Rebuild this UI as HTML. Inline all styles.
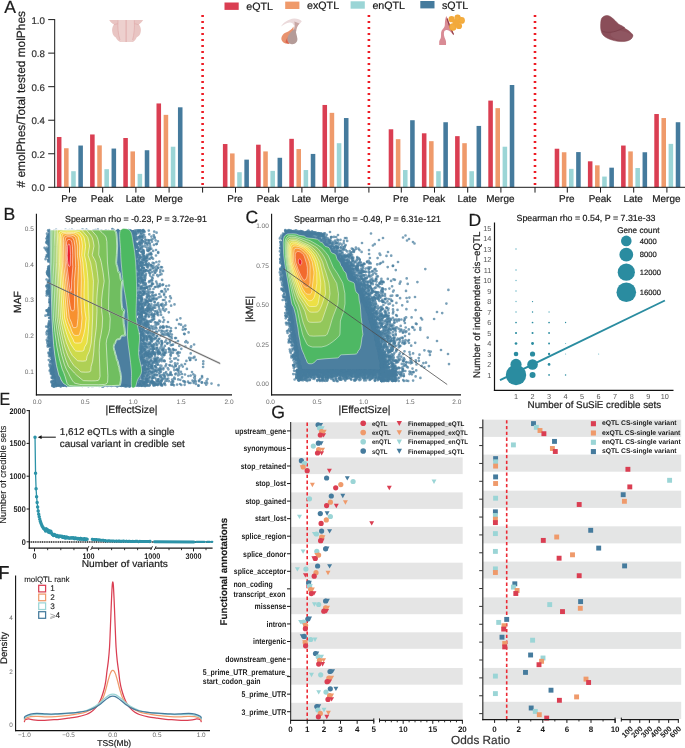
<!DOCTYPE html>
<html lang="en"><head><meta charset="utf-8"><title>Figure</title>
<style>
html,body{margin:0;padding:0;background:#fff;}
body{width:685px;height:748px;overflow:hidden;}
svg{display:block;}
text{font-family:"Liberation Sans","DejaVu Sans",sans-serif;text-rendering:geometricPrecision;}
</style></head><body>
<svg width="685" height="748" viewBox="0 0 685 748">
<rect x="0" y="0" width="685" height="748" fill="#ffffff"/>
<g id="panelA">
<rect x="224.5" y="2.5" width="14.2" height="7.4" fill="#DA3E52"/>
<text x="246.3" y="9.9" font-size="10.7" fill="#1a1a1a" stroke="#1a1a1a" stroke-width="0.2">eQTL</text>
<rect x="285.2" y="1.6" width="14.2" height="7.4" fill="#EF9A6B"/>
<text x="307" y="9.4" font-size="10.7" fill="#1a1a1a" stroke="#1a1a1a" stroke-width="0.2">exQTL</text>
<rect x="350.6" y="1.3" width="14.2" height="7.4" fill="#9BD5D6"/>
<text x="372.4" y="9.1" font-size="10.7" fill="#1a1a1a" stroke="#1a1a1a" stroke-width="0.2">enQTL</text>
<rect x="420.3" y="1" width="14.2" height="7.4" fill="#457B9D"/>
<text x="442" y="8.8" font-size="10.7" fill="#1a1a1a" stroke="#1a1a1a" stroke-width="0.2">sQTL</text>
<line x1="202.6" y1="15" x2="202.6" y2="187" stroke="#EE1C25" stroke-width="2.6" stroke-dasharray="2 4"/>
<line x1="368.9" y1="15" x2="368.9" y2="187" stroke="#EE1C25" stroke-width="2.6" stroke-dasharray="2 4"/>
<line x1="535" y1="15" x2="535" y2="187" stroke="#EE1C25" stroke-width="2.6" stroke-dasharray="2 4"/>
<rect x="56.9" y="136.99" width="4.55" height="50.31" fill="#DA3E52"/>
<rect x="64.05" y="148.23" width="4.55" height="39.07" fill="#EF9A6B"/>
<rect x="71.2" y="171.2" width="4.55" height="16.1" fill="#9BD5D6"/>
<rect x="78.35" y="145.54" width="4.55" height="41.76" fill="#457B9D"/>
<line x1="69.5" y1="187.3" x2="69.5" y2="192.6" stroke="#1a1a1a" stroke-width="1"/>
<text x="69" y="201.9" font-size="9.95" fill="#1a1a1a" text-anchor="middle" stroke="#1a1a1a" stroke-width="0.2">Pre</text>
<rect x="90.1" y="134.47" width="4.55" height="52.83" fill="#DA3E52"/>
<rect x="97.25" y="145.38" width="4.55" height="41.93" fill="#EF9A6B"/>
<rect x="104.4" y="169.19" width="4.55" height="18.11" fill="#9BD5D6"/>
<rect x="111.55" y="148.56" width="4.55" height="38.74" fill="#457B9D"/>
<line x1="102.7" y1="187.3" x2="102.7" y2="192.6" stroke="#1a1a1a" stroke-width="1"/>
<text x="102.2" y="201.9" font-size="9.95" fill="#1a1a1a" text-anchor="middle" stroke="#1a1a1a" stroke-width="0.2">Peak</text>
<rect x="123.3" y="138" width="4.55" height="49.3" fill="#DA3E52"/>
<rect x="130.45" y="151.41" width="4.55" height="35.89" fill="#EF9A6B"/>
<rect x="137.6" y="173.88" width="4.55" height="13.42" fill="#9BD5D6"/>
<rect x="144.75" y="150.24" width="4.55" height="37.06" fill="#457B9D"/>
<line x1="135.9" y1="187.3" x2="135.9" y2="192.6" stroke="#1a1a1a" stroke-width="1"/>
<text x="135.4" y="201.9" font-size="9.95" fill="#1a1a1a" text-anchor="middle" stroke="#1a1a1a" stroke-width="0.2">Late</text>
<rect x="156.5" y="103.45" width="4.55" height="83.85" fill="#DA3E52"/>
<rect x="163.65" y="114.85" width="4.55" height="72.45" fill="#EF9A6B"/>
<rect x="170.8" y="146.72" width="4.55" height="40.58" fill="#9BD5D6"/>
<rect x="177.95" y="107.31" width="4.55" height="79.99" fill="#457B9D"/>
<line x1="169.1" y1="187.3" x2="169.1" y2="192.6" stroke="#1a1a1a" stroke-width="1"/>
<text x="168.6" y="201.9" font-size="9.95" fill="#1a1a1a" text-anchor="middle" stroke="#1a1a1a" stroke-width="0.2">Merge</text>
<rect x="222.9" y="144.03" width="4.55" height="43.27" fill="#DA3E52"/>
<rect x="230.05" y="153.42" width="4.55" height="33.88" fill="#EF9A6B"/>
<rect x="237.2" y="172.21" width="4.55" height="15.09" fill="#9BD5D6"/>
<rect x="244.35" y="159.63" width="4.55" height="27.67" fill="#457B9D"/>
<line x1="235.5" y1="187.3" x2="235.5" y2="192.6" stroke="#1a1a1a" stroke-width="1"/>
<text x="235" y="201.9" font-size="9.95" fill="#1a1a1a" text-anchor="middle" stroke="#1a1a1a" stroke-width="0.2">Pre</text>
<rect x="256.1" y="144.7" width="4.55" height="42.6" fill="#DA3E52"/>
<rect x="263.25" y="151.41" width="4.55" height="35.89" fill="#EF9A6B"/>
<rect x="270.4" y="170.87" width="4.55" height="16.43" fill="#9BD5D6"/>
<rect x="277.55" y="157.78" width="4.55" height="29.52" fill="#457B9D"/>
<line x1="268.7" y1="187.3" x2="268.7" y2="192.6" stroke="#1a1a1a" stroke-width="1"/>
<text x="268.2" y="201.9" font-size="9.95" fill="#1a1a1a" text-anchor="middle" stroke="#1a1a1a" stroke-width="0.2">Peak</text>
<rect x="289.3" y="138.83" width="4.55" height="48.47" fill="#DA3E52"/>
<rect x="296.45" y="149.06" width="4.55" height="38.24" fill="#EF9A6B"/>
<rect x="303.6" y="170.03" width="4.55" height="17.27" fill="#9BD5D6"/>
<rect x="310.75" y="153.93" width="4.55" height="33.37" fill="#457B9D"/>
<line x1="301.9" y1="187.3" x2="301.9" y2="192.6" stroke="#1a1a1a" stroke-width="1"/>
<text x="301.4" y="201.9" font-size="9.95" fill="#1a1a1a" text-anchor="middle" stroke="#1a1a1a" stroke-width="0.2">Late</text>
<rect x="322.5" y="104.96" width="4.55" height="82.34" fill="#DA3E52"/>
<rect x="329.65" y="112.84" width="4.55" height="74.46" fill="#EF9A6B"/>
<rect x="336.8" y="143.19" width="4.55" height="44.11" fill="#9BD5D6"/>
<rect x="343.95" y="118.04" width="4.55" height="69.26" fill="#457B9D"/>
<line x1="335.1" y1="187.3" x2="335.1" y2="192.6" stroke="#1a1a1a" stroke-width="1"/>
<text x="334.6" y="201.9" font-size="9.95" fill="#1a1a1a" text-anchor="middle" stroke="#1a1a1a" stroke-width="0.2">Merge</text>
<rect x="388.7" y="129.28" width="4.55" height="58.02" fill="#DA3E52"/>
<rect x="395.85" y="139.17" width="4.55" height="48.13" fill="#EF9A6B"/>
<rect x="403" y="170.03" width="4.55" height="17.27" fill="#9BD5D6"/>
<rect x="410.15" y="120.22" width="4.55" height="67.08" fill="#457B9D"/>
<line x1="401.3" y1="187.3" x2="401.3" y2="192.6" stroke="#1a1a1a" stroke-width="1"/>
<text x="400.8" y="201.9" font-size="9.95" fill="#1a1a1a" text-anchor="middle" stroke="#1a1a1a" stroke-width="0.2">Pre</text>
<rect x="421.9" y="133.3" width="4.55" height="54" fill="#DA3E52"/>
<rect x="429.05" y="141.18" width="4.55" height="46.12" fill="#EF9A6B"/>
<rect x="436.2" y="171.2" width="4.55" height="16.1" fill="#9BD5D6"/>
<rect x="443.35" y="122.23" width="4.55" height="65.07" fill="#457B9D"/>
<line x1="434.5" y1="187.3" x2="434.5" y2="192.6" stroke="#1a1a1a" stroke-width="1"/>
<text x="434" y="201.9" font-size="9.95" fill="#1a1a1a" text-anchor="middle" stroke="#1a1a1a" stroke-width="0.2">Peak</text>
<rect x="455.1" y="136.15" width="4.55" height="51.15" fill="#DA3E52"/>
<rect x="462.25" y="143.19" width="4.55" height="44.11" fill="#EF9A6B"/>
<rect x="469.4" y="171.2" width="4.55" height="16.1" fill="#9BD5D6"/>
<rect x="476.55" y="125.92" width="4.55" height="61.38" fill="#457B9D"/>
<line x1="467.7" y1="187.3" x2="467.7" y2="192.6" stroke="#1a1a1a" stroke-width="1"/>
<text x="467.2" y="201.9" font-size="9.95" fill="#1a1a1a" text-anchor="middle" stroke="#1a1a1a" stroke-width="0.2">Late</text>
<rect x="488.3" y="100.6" width="4.55" height="86.7" fill="#DA3E52"/>
<rect x="495.45" y="108.15" width="4.55" height="79.15" fill="#EF9A6B"/>
<rect x="502.6" y="146.72" width="4.55" height="40.58" fill="#9BD5D6"/>
<rect x="509.75" y="85" width="4.55" height="102.3" fill="#457B9D"/>
<line x1="500.9" y1="187.3" x2="500.9" y2="192.6" stroke="#1a1a1a" stroke-width="1"/>
<text x="500.4" y="201.9" font-size="9.95" fill="#1a1a1a" text-anchor="middle" stroke="#1a1a1a" stroke-width="0.2">Merge</text>
<rect x="554.7" y="148.73" width="4.55" height="38.57" fill="#DA3E52"/>
<rect x="561.85" y="152.25" width="4.55" height="35.05" fill="#EF9A6B"/>
<rect x="569" y="168.85" width="4.55" height="18.45" fill="#9BD5D6"/>
<rect x="576.15" y="152.08" width="4.55" height="35.22" fill="#457B9D"/>
<line x1="567.3" y1="187.3" x2="567.3" y2="192.6" stroke="#1a1a1a" stroke-width="1"/>
<text x="566.8" y="201.9" font-size="9.95" fill="#1a1a1a" text-anchor="middle" stroke="#1a1a1a" stroke-width="0.2">Pre</text>
<rect x="587.9" y="161.31" width="4.55" height="25.99" fill="#DA3E52"/>
<rect x="595.05" y="165.33" width="4.55" height="21.97" fill="#EF9A6B"/>
<rect x="602.2" y="176.57" width="4.55" height="10.73" fill="#9BD5D6"/>
<rect x="609.35" y="167.68" width="4.55" height="19.62" fill="#457B9D"/>
<line x1="600.5" y1="187.3" x2="600.5" y2="192.6" stroke="#1a1a1a" stroke-width="1"/>
<text x="600" y="201.9" font-size="9.95" fill="#1a1a1a" text-anchor="middle" stroke="#1a1a1a" stroke-width="0.2">Peak</text>
<rect x="621.1" y="145.54" width="4.55" height="41.76" fill="#DA3E52"/>
<rect x="628.25" y="151.41" width="4.55" height="35.89" fill="#EF9A6B"/>
<rect x="635.4" y="168.01" width="4.55" height="19.29" fill="#9BD5D6"/>
<rect x="642.55" y="152.25" width="4.55" height="35.05" fill="#457B9D"/>
<line x1="633.7" y1="187.3" x2="633.7" y2="192.6" stroke="#1a1a1a" stroke-width="1"/>
<text x="633.2" y="201.9" font-size="9.95" fill="#1a1a1a" text-anchor="middle" stroke="#1a1a1a" stroke-width="0.2">Late</text>
<rect x="654.3" y="114.02" width="4.55" height="73.28" fill="#DA3E52"/>
<rect x="661.45" y="118.04" width="4.55" height="69.26" fill="#EF9A6B"/>
<rect x="668.6" y="143.87" width="4.55" height="43.43" fill="#9BD5D6"/>
<rect x="675.75" y="122.23" width="4.55" height="65.07" fill="#457B9D"/>
<line x1="666.9" y1="187.3" x2="666.9" y2="192.6" stroke="#1a1a1a" stroke-width="1"/>
<text x="666.4" y="201.9" font-size="9.95" fill="#1a1a1a" text-anchor="middle" stroke="#1a1a1a" stroke-width="0.2">Merge</text>
<line x1="202.6" y1="187.3" x2="202.6" y2="192.6" stroke="#1a1a1a" stroke-width="1"/>
<line x1="368.9" y1="187.3" x2="368.9" y2="192.6" stroke="#1a1a1a" stroke-width="1"/>
<line x1="535" y1="187.3" x2="535" y2="192.6" stroke="#1a1a1a" stroke-width="1"/>
<line x1="54.7" y1="19.1" x2="54.7" y2="187.8" stroke="#1a1a1a" stroke-width="1"/>
<line x1="48.2" y1="187.3" x2="685" y2="187.3" stroke="#1a1a1a" stroke-width="1"/>
<line x1="48.2" y1="153.76" x2="54.7" y2="153.76" stroke="#1a1a1a" stroke-width="1"/>
<line x1="48.2" y1="120.22" x2="54.7" y2="120.22" stroke="#1a1a1a" stroke-width="1"/>
<line x1="48.2" y1="86.68" x2="54.7" y2="86.68" stroke="#1a1a1a" stroke-width="1"/>
<line x1="48.2" y1="53.14" x2="54.7" y2="53.14" stroke="#1a1a1a" stroke-width="1"/>
<line x1="48.2" y1="19.6" x2="54.7" y2="19.6" stroke="#1a1a1a" stroke-width="1"/>
<text x="44.9" y="191.2" font-size="9.7" fill="#333" text-anchor="end" stroke="#333" stroke-width="0.2">0.0</text>
<text x="44.9" y="157.66" font-size="9.7" fill="#333" text-anchor="end" stroke="#333" stroke-width="0.2">0.2</text>
<text x="44.9" y="124.12" font-size="9.7" fill="#333" text-anchor="end" stroke="#333" stroke-width="0.2">0.4</text>
<text x="44.9" y="90.58" font-size="9.7" fill="#333" text-anchor="end" stroke="#333" stroke-width="0.2">0.6</text>
<text x="44.9" y="57.04" font-size="9.7" fill="#333" text-anchor="end" stroke="#333" stroke-width="0.2">0.8</text>
<text x="44.9" y="23.5" font-size="9.7" fill="#333" text-anchor="end" stroke="#333" stroke-width="0.2">1.0</text>
<text x="25" y="99.3" font-size="11.9" fill="#1a1a1a" text-anchor="middle" transform="rotate(-90 25 99.3)" stroke="#1a1a1a" stroke-width="0.2"># emolPhes/Total tested molPhes</text>
<text x="4.2" y="12.9" font-size="17.6" fill="#1a1a1a" stroke="#1a1a1a" stroke-width="0.2">A</text>
<g><path d="M109.2 19.9 L143.1 19.9 C141.8 22 140.2 23.6 138.8 24.6 C140.6 26.4 141.3 29.5 140.7 32 C140.2 34.8 138.6 36.6 136.6 37.4 C135.8 39.4 134.4 41 132.8 42 L120.3 42 C118.4 41 116.8 39.4 115.8 37.4 C113.8 36.4 112.6 34.6 112.3 32 C111.7 29.4 112.4 26.4 114 24.6 C112.2 23.4 110.5 22 109.2 19.9Z" fill="#E9C5C3"/><path d="M118 20.1 L134.2 20.1 C134.8 26 134.6 33 133 38.5 L132.6 41.9 L120.4 41.9 L119.4 38.5 C118 33 117.6 26 118 20.1Z" fill="#EDD0CE"/><path d="M126.1 20V42" stroke="#DDA3A3" stroke-width="0.8" fill="none"/><path d="M118 20.3 C117.5 27 118 34 120 40 M134.3 20.3 C134.8 27 134.2 34 132.6 40 M114 24.8 C116 24 118 23.6 118 23.6 M138.6 24.8 C136.5 24 134.4 23.6 134.4 23.6" stroke="#DFABAA" stroke-width="0.7" fill="none"/></g>
<g><path d="M281 26.6 C283.5 22.5 288.5 19.2 294 18.6 C297 18.4 300 19.6 301.8 21.2 C300.6 22.8 299 24.6 297.6 25.6 L293.6 25.2 C293.2 23.4 291.6 22.4 289.6 22.6 C286.4 23 283.6 24.8 281 26.6Z" fill="#EBDADB"/><path d="M294.4 21.6 C295 24.6 294.6 27.6 293.6 30.6 L296.2 31.4 C296.6 28.4 297.6 25.8 299.4 23.6Z" fill="#C7A6A3"/><path d="M293.4 26.5 C292.2 29.5 289 31.2 286 32.4 C282.6 33.8 280.8 37 281.6 40 C282.6 43 286 44.2 289.4 43.4 C290.4 40 290.6 35 293.8 30.4Z" fill="#E8926E"/><path d="M294 29.6 C291.4 31.4 288.2 34.6 287.4 38 C286.8 41.2 288.6 43.8 292 44.2 C295.4 44.4 297.6 42 297.4 38.8 C297.2 35.6 295.4 32.6 296 29.8Z" fill="#B49B98"/><path d="M287.6 37 C286.6 39.5 287.4 42.4 289.6 43.6 C288 43.8 286.6 43.2 285.4 42.2 C286 40.4 286.6 38.6 287.6 37Z" fill="#D9604C"/></g>
<g><path d="M446.3 16.1 C445.2 18.4 444.9 22 444.8 25.2 C444.6 27.6 442.6 29 441.6 30.8 C440.6 33 441.4 35.6 440.8 38 C440.2 39.6 439.2 40.4 439.2 42 L439.2 45 L446 45 C446.2 43 446.2 41 445.4 39.4 C444.2 37 443.4 34 444.2 31.6 C445 29.8 447.4 29.6 449.2 30.8 C451 32.2 452.4 34 453.8 35.2 C452 29 449.4 22 446.3 16.1Z" fill="#D98B95"/><path d="M447 18.5 C448.5 24 450.8 29.6 453.6 34.6" stroke="#8E3B46" stroke-width="1.1" fill="none"/>
<circle cx="451.6" cy="19.2" r="3.1" fill="#F2A93B"/>
<circle cx="457.6" cy="17.6" r="3.1" fill="#F2A93B"/>
<circle cx="461.5" cy="20.4" r="3.4" fill="#F2A93B"/>
<circle cx="452.9" cy="27" r="3.7" fill="#F2A93B"/>
<circle cx="459" cy="26" r="3.1" fill="#F2A93B"/>
<circle cx="455.8" cy="22.4" r="3.3" fill="#F2A93B"/>
<circle cx="461.9" cy="20.2" r="2.2" fill="#F4AE40"/>
<circle cx="452.6" cy="27.2" r="2.4" fill="#F4AE40"/>
<circle cx="457" cy="18.2" r="1.8" fill="#F4AE40"/>
</g>
<path d="M601.4 19C601.97 17.53 602.98 16.78 604 16.2C605.02 15.62 606.33 15.37 607.5 15.5C608.67 15.63 609.75 16.17 611 17C612.25 17.83 613.75 19.33 615 20.5C616.25 21.67 617.17 23.02 618.5 24C619.83 24.98 621.82 25.6 623 26.4C624.18 27.2 624.6 28.03 625.6 28.8C626.6 29.57 627.93 30.17 629 31C630.07 31.83 631.35 32.97 632 33.8C632.65 34.63 633.07 35.13 632.9 36C632.73 36.87 631.98 38.17 631 39C630.02 39.83 628.67 40.57 627 41C625.33 41.43 623.17 41.67 621 41.6C618.83 41.53 616.33 41.2 614 40.6C611.67 40 608.83 38.93 607 38C605.17 37.07 604 36.25 603 35C602 33.75 601.4 32.17 601 30.5C600.6 28.83 600.53 26.92 600.6 25C600.67 23.08 600.83 20.47 601.4 19Z" fill="#8A4E59" stroke="#834651" stroke-width="0.5"/>
<ellipse cx="621.3" cy="35.6" rx="11" ry="4.6" fill="#8F5661" transform="rotate(8 621.3 35.6)"/>
<path d="M602 31 C606 33 612 32.6 617 30.8 C620 29.6 622.6 28.4 624.6 27.4" stroke="#7A3F4B" stroke-width="0.9" fill="none"/>
</g>
<g id="panelB">
<path d="M49.4 229.9 L134.5 229.9 L136 260 L136.5 300 L138 340 L138 386.8 L56 386.8 L51.8 370 L50.2 345 L49.5 300Z" fill="#4C7F9F"/>
<path d="M149.2 298.5h0M158 358.1h0M157.3 310.9h0M134.7 248h0M139.1 338h0M49.5 273.8h0M143.6 335.2h0M135.4 330.4h0M152.2 381h0M158.6 359.9h0M134.8 322h0M135 257.9h0M138.8 328.4h0M146.9 311.6h0M136.9 293h0M141.1 248.4h0M147.5 365.5h0M164.9 384.3h0M146.7 321.3h0M136.3 267.9h0M144.2 369.1h0M148.8 250.6h0M46.8 243.1h0M49.2 344.6h0M151.4 372.1h0M155.3 360.5h0M186.1 341.2h0M138.2 299.5h0M112.6 229.8h0M144.5 353.9h0M48.2 240.3h0M48.8 332.6h0M135.1 326.5h0M135.1 330.7h0M159.4 309.1h0M159.8 353.2h0M129.8 386.2h0M137.7 376.8h0M49.2 291.2h0M139.2 331.2h0M135.8 293.1h0M53.3 384.8h0M157.9 384.5h0M162.4 303.8h0M143.4 283.1h0M135.8 329.6h0M149.6 365.7h0M192.5 380.6h0M135.7 267.6h0M168.8 312.3h0M185.5 329h0M142.1 357h0M137.7 274.9h0M141 296.2h0M50.2 350.3h0M49.4 309.6h0M141.5 334.9h0M139.4 275.7h0M140.8 249.1h0M153 309.9h0M139.1 344.5h0M146.7 301.2h0M138.4 271.2h0M149.2 300.7h0M145.8 270.7h0M150.1 309.6h0M149.4 336.7h0M156.8 298.7h0M140 311.2h0M135.5 331.6h0M143.3 360.2h0M157 375.3h0M51.2 367.9h0M50.4 268.1h0M142.9 280.7h0M144.8 335.2h0M152.4 369.4h0M164.5 300h0M77.3 230.6h0M148.9 363.2h0M146.2 381.3h0M141.6 316.7h0M157 283.6h0M151.1 365.1h0M49.5 339.8h0M137.8 243.9h0M167.1 374.2h0M142.8 384.9h0M144.1 291.6h0M152.6 383.2h0M138.1 309.5h0M137.7 359.5h0M142.1 298.8h0M55.8 385.9h0M101.2 385.5h0M137.7 277.6h0M141.6 329.3h0M138.5 374.2h0M136.6 300.9h0M136.2 251.1h0M49.3 270.5h0M148.9 347.3h0M145.8 336h0M141.2 330.2h0M135.5 337h0M140.4 340.8h0M152.7 307.5h0M134.9 294.6h0M185.3 342.1h0M170 333.7h0M152.7 369.9h0M148.3 380.8h0M139.2 242.5h0M153.5 289h0M47.2 271.3h0M130.7 230.9h0M164.1 295.1h0M140.8 338.1h0M147.6 346.6h0M137.3 333.7h0M135.5 273.5h0M141.2 358h0M163.4 309.7h0M138.4 366h0M137.6 302.4h0M134.6 303.7h0M148.3 373.1h0M165.4 333.5h0M154.7 272.9h0M149.4 357h0M137.3 303.6h0M140.4 273.2h0M167.9 333h0M161.9 344.5h0M145 375.7h0M146.6 361.7h0M143 237.8h0M155.1 359.6h0M139.6 331.5h0M145.2 300h0M134.8 232.4h0M142.7 237.1h0M142.7 259.7h0M146.5 263.6h0M158.3 267.6h0M146.1 302.1h0M165.3 385h0M153.6 348.7h0M145 276.7h0M138.8 303.3h0M146 316.6h0M149.7 330.3h0M135.5 352.2h0M148.7 316.8h0M149.9 380.9h0M165.4 334.6h0M142.4 281.7h0M142.4 361.9h0M137.2 237h0M142.2 374.1h0M173 352.7h0M157 324.4h0M143.2 335.3h0M49.2 288h0M151.6 372.1h0M147.2 375.9h0M146.5 382.3h0M170.4 354.6h0M147.5 296.3h0M49.7 296.3h0M138.3 343.9h0M162.5 349.3h0M134.5 337.9h0M173.2 381.7h0M138.9 307.8h0M46.1 257h0M171.3 382.3h0M55.9 386.1h0M142.3 275.1h0M159.8 274.8h0M160.3 321.6h0M49.5 275.8h0M162.1 378.7h0M52 370.4h0M152.7 299.4h0M136.4 375.4h0M48.5 286.2h0M162.1 279.9h0M47.9 271.5h0M46.9 310.9h0M138.9 384.6h0M138.9 322h0M152 363.8h0M136.1 361.8h0M170.9 298.2h0M141.8 335.2h0M135.6 354.8h0M137.1 276.4h0M138 247.9h0M142.2 311.9h0M134.9 364.1h0M53 375.3h0M45.8 249.4h0M154.2 236.8h0M175.3 374.3h0M136.4 380.8h0M146.5 265.4h0M160.3 376.4h0M195.8 381.7h0M140.4 292.7h0M161.3 369.5h0M144.8 322.9h0M46.9 285.9h0M144.8 361h0M141.8 280.2h0M48.4 268h0M150.3 339.3h0M53.1 368.3h0M142.2 304.2h0M152.1 314.8h0M145.8 385.5h0M145.8 352.5h0M142.8 294.4h0M146.8 287.4h0M146.5 324.4h0M142.1 306.2h0M141.4 322.1h0M142.4 334.9h0M171.5 336.8h0M152 272.1h0M157.2 323.4h0M161.8 377.7h0M138.2 337.2h0M148.8 382.1h0M48.9 241.7h0M136.2 322.5h0M135.5 340.3h0M47.8 256.1h0M137.3 330h0M154.7 383.3h0M149 253.9h0M136.3 341.4h0M156.1 379.3h0M151.3 310.3h0M83.5 230h0M141.4 373.7h0M47.7 255.4h0M139.2 363h0M149.8 354h0M134.9 374.3h0M135.2 360.1h0M49 337.4h0M136.9 376.7h0M142.1 370.4h0M148.8 230.6h0M49.3 344.8h0M162.7 309.3h0M153.7 339.4h0M148.6 344.6h0M52.5 367.3h0M49.2 331.7h0M150.9 383.3h0M49.7 257.1h0M51.3 381.6h0M48.9 344.2h0M152.4 336.6h0M141.6 323.3h0M55.2 383.7h0M59 385.3h0M151.6 320.1h0M136.6 339.3h0M147.6 375.2h0M136.8 261h0M136.8 306.8h0M140 383.5h0M135 375.4h0M164.1 355h0M137.6 376.7h0M150 383.2h0M146.3 258.7h0M138.5 323.9h0M136.9 343.1h0M69.4 230.1h0M144.3 269.9h0M136.6 300.9h0M155.5 348.7h0M48.2 266.8h0M152.2 352.1h0M139.9 243.7h0M149.7 329.3h0M144.8 299.5h0M135.9 275.2h0M137.1 320.7h0M137.4 324.7h0M138.2 333.9h0M152 365.4h0M135 256h0M141.2 273.1h0M172.1 365.8h0M137.1 246.6h0M135 341.6h0M151.2 321.7h0M145.9 364.9h0M145.1 366.9h0M50.3 355.4h0M50 353.4h0M179.4 366.3h0M144.1 384h0M144.6 312.8h0M136.7 347.5h0M139.5 360.4h0M47.1 242.2h0M141.1 287.1h0M142.1 372.8h0M139 362.4h0M141.9 274h0M155.2 354.8h0M49.5 237.3h0M157.5 285.7h0M154.9 357.2h0M48.7 252h0M134.8 384.7h0M141.9 377.4h0M140.3 257h0M135.6 360h0M48 314.6h0M147.7 306.3h0M135.7 360h0M138.9 231.2h0M48.8 253.5h0M49.3 247.9h0M134.9 312.7h0M157.9 380.7h0M143.4 250h0M49.2 321.1h0M134.9 354.5h0M170 365.5h0M139.1 303.4h0M166.1 372.1h0M148.2 289.9h0M134.9 383.9h0M135.8 297.6h0M147 256.3h0M135.8 233.2h0M49.5 250.1h0M139.1 324.1h0M143 262.9h0M125.6 385.7h0M94.8 385.7h0M94.5 384.9h0M170.1 296.4h0M145.9 242.8h0M138.3 335.7h0M141.2 278.6h0M49.3 257.1h0M137.3 371.3h0M152.6 268.3h0M52.4 386h0M138 287.3h0M147.4 302.3h0M137.1 378.8h0M145.2 386.1h0M137.9 362.6h0M150.6 372.4h0M147.5 385.6h0M153.9 352.7h0M161.3 384.2h0M136.3 358.7h0M136.8 326h0M147.3 260.3h0M137.3 352.9h0M141.8 249.2h0M157.6 324.2h0M49.5 364.5h0M110.5 385.6h0M152.3 364.3h0M49.9 247.1h0M48 249.2h0M136.8 292.8h0M153.4 382.2h0M144.4 381.6h0M152.7 262.8h0M143.1 379.1h0M152 336.4h0M138.1 348h0M137.3 277.5h0M49.2 230.2h0M140.3 323.4h0M140.3 304h0M48 271.6h0M176.3 370h0M135.5 299.4h0M136.2 233.6h0M145.9 240.3h0M61.1 230.9h0M138.1 352.3h0M149.3 243h0M135.2 277.5h0M198.5 385.7h0M49.4 292.8h0M146.9 360.9h0M142 315.6h0M150.9 333.7h0M136.2 363.6h0M139.5 273.8h0M136 309.1h0M161.8 380.5h0M95.7 230.5h0M148.2 353h0M160 284h0M138.4 285.9h0M49.1 269.9h0M102.3 386.7h0M152.6 239.1h0M150.8 308.2h0M141.6 348.3h0M162.4 331.1h0M156 311.5h0M88.7 386.1h0M145.2 383.4h0M139.8 373.3h0M144.5 385.7h0M182.8 366.6h0M142.4 344.4h0M140.2 344.7h0M138.5 355.9h0M150.9 353.2h0M170.1 358.6h0M154.5 295.4h0M150.5 365.2h0M143.4 354.5h0M141.4 308.4h0M135.6 333.3h0M144.5 261.6h0M153.8 358.7h0M144.8 372.9h0M138.3 237.4h0M142.5 352.3h0M49.4 341.6h0M49.8 258.1h0M142.1 330.8h0M150.2 373.7h0M138.7 276h0M135.9 380.7h0M188 381.7h0M141.5 298.4h0M174.3 358.7h0M145.6 369.9h0M136.9 256.9h0M142.6 246.3h0M147.9 369h0M136.1 314.2h0M169.8 342.6h0M148 300.7h0M49.3 339.7h0M49.4 289.1h0M49.8 331.6h0M149.5 349.2h0M143 273.2h0M135.2 250.9h0M140.6 279.1h0M134.7 232.6h0M139.9 321.3h0M148.5 323h0M142.8 281.6h0M192 372h0M136.6 254.8h0M142.4 267.1h0M150.5 269.7h0M47.9 281.8h0M136.2 286.9h0M145.3 383.6h0M148.5 365.3h0M48.1 230.4h0M53.1 375.7h0" stroke="#457B9D" stroke-width="2.7" stroke-linecap="round" fill="none" opacity="0.72"/>
<path d="M158 276.2h0M135.7 366.9h0M139.3 366.1h0M139.4 258.5h0M139.9 381.2h0M140.5 301.2h0M49 236.5h0M180.4 318.3h0M136.1 298.1h0M136.6 293.6h0M194.1 344.5h0M141.9 369.5h0M135.4 331.2h0M149.1 240.3h0M136.8 266.9h0M154.4 298h0M48.5 281.8h0M143.4 372.6h0M157 340.9h0M141.5 278.4h0M146 309.8h0M169.4 374.9h0M141.9 299h0M63.4 385.6h0M51 372.4h0M147.7 321.7h0M169.3 352h0M138.5 330.1h0M49.2 242.1h0M145.9 284.4h0M47.5 243.3h0M48.7 308.8h0M142.4 340.1h0M143.8 339.3h0M153.6 361.7h0M47.3 330.8h0M48.3 310.4h0M142.7 347.4h0M52.5 366.4h0M143.5 284.8h0M202.1 377.4h0M171.8 375h0M146.2 379h0M140 318.2h0M51.6 369.5h0M135.1 332.4h0M152.5 372.8h0M157 304.7h0M50 271.6h0M139.4 236.5h0M141.4 373.1h0M99 385.7h0M137.4 256.3h0M144.7 382.6h0M47.4 343h0M156.9 362.2h0M48.3 290.6h0M160 286.1h0M139.5 237.1h0M144 385.8h0M53.1 371.2h0M50.7 356h0M50 260.6h0M49.6 324h0M149 343.9h0M153.5 372.2h0M134.6 234.1h0M136.8 325.8h0M156 331.5h0M158.9 382.4h0M148.4 380.5h0M49.5 325.4h0M138 362.7h0M150.5 338.1h0M151.8 346.4h0M148.7 312.5h0M137.3 332.9h0M144.2 336.7h0M148.1 311.1h0M144.9 288.4h0M143.6 366.9h0M190.2 359.9h0M142.7 282.8h0M146.6 363h0M156.3 352h0M141.4 315h0M137 244.3h0M147.2 248.1h0M168.8 335.9h0M50.7 353.9h0M140.9 308.8h0M48.9 275h0M48.1 268.5h0M103.7 385.8h0M142.6 330.1h0M147.4 301.4h0M151.9 277.4h0M183.3 326.9h0M136.2 254.7h0M156.8 269.5h0M156.5 328.4h0M47.5 291.4h0M48.6 290.9h0M139 243.6h0M147 287.2h0M135.4 235.3h0M145.4 346.6h0M159.3 343.1h0M154 382.5h0M49.9 290.8h0M143.6 343.4h0M49.5 334.4h0M142.1 281.1h0M143 382.8h0M153.5 353.7h0M160.4 310.8h0M140.3 324.2h0M50.1 266.6h0M193.3 374.3h0M49 325.8h0M170.6 372.2h0M151.6 366.6h0M157.2 344.7h0M48.3 341.8h0M137.3 280.7h0M136.8 346.5h0M138.1 294.5h0M149.3 376.7h0M50.1 236.4h0M138.9 374.3h0M166.9 380.7h0M137.3 340.7h0M140.7 289.2h0M47.6 237h0M138.9 359.3h0M51.1 370.9h0M159.4 294.1h0M136.4 282.7h0M149.3 264.6h0M48.7 287.9h0M144.8 305.2h0M142.2 373.8h0M154.5 374.9h0M141.4 319.5h0M138.7 385.8h0M48.7 250h0M159.2 353.3h0M46.2 326.6h0M143.4 368.3h0M136.9 305h0M136.9 265.9h0M152.8 346.5h0M53.1 372.8h0M138.1 329.3h0M135.7 306h0M50.4 349.3h0M151.8 280.4h0M156.6 232.7h0M145 288.1h0M218.5 385.2h0M142.4 267.9h0M151 360.3h0M145.7 361.9h0M160.5 358.8h0M48.8 324.5h0M53.8 386.7h0M148.4 366.3h0M181.3 348.8h0M135.8 385h0M49.3 311h0M139.1 270.8h0M135.9 254h0M138.5 250.3h0M145.9 336.3h0M160.7 384.2h0M117.8 385.8h0M141.2 231.1h0M137.3 343.6h0M148.5 255.4h0M52.7 380.7h0M141.1 326.6h0M144.8 331h0M135.4 279.6h0M145.8 304.5h0M157.2 314.3h0M142.4 232.7h0M134.9 385.1h0M169 285.5h0M164.3 355.1h0M169.8 339.8h0M136.2 318.8h0M135.6 345.4h0M155.2 366h0M152.8 350.6h0M148 248.3h0M49.7 261.6h0M171 331h0M172.9 384.4h0M155.1 377.7h0M144.8 259h0M172.2 379.7h0M58.5 231.1h0M149.5 273.3h0M149.6 328.2h0M137.6 230.7h0M138.1 328h0M138.9 320.5h0M52.1 360.6h0M52.9 371.1h0M134.8 347.2h0M158.6 369.6h0M135 321.5h0M184.1 333.8h0M149.3 331.3h0M51.3 353.3h0M155 359h0M144.7 271.3h0M146.9 257.4h0M136.4 374.5h0M148.7 342.5h0M47.3 341.9h0M177.5 363.6h0M139.2 298.1h0M136.2 323.1h0M135.7 355.4h0M125.7 385.5h0M142.9 241.5h0M136.3 322.2h0M178.2 379.4h0M147.1 352.6h0M137.1 355.9h0M134.8 269.8h0M166.2 364.4h0M50.7 357.4h0M139 304.6h0M161.7 361.2h0M149.8 354h0M140.7 321.9h0M139.4 385.5h0M50.6 355.9h0M179 324.1h0M144.2 255.9h0M139 362.2h0M149.2 304.3h0M135.6 310.8h0M138.6 309.7h0M147.4 375.9h0M145.4 336.6h0M141.3 252.1h0M49.6 248.1h0M49.2 257.6h0M49.3 313.3h0M138.4 323.9h0M181.3 385h0M136.9 305.1h0M49.4 253.5h0M47.6 315.1h0M49.8 302.4h0M145.7 365.2h0M84.7 385.3h0M49.9 246.8h0M139.9 332h0M51.6 377.7h0M138 274.5h0M135.9 303.2h0M145.2 265h0M53.5 375.7h0M135.4 309.5h0M141.4 347.7h0M148.1 359.1h0M139.2 317.6h0M139 305.9h0M149.9 306.2h0M140.1 262.9h0M136.1 347.4h0M144.1 293.2h0M135.8 247.9h0M144.4 353.8h0M158.6 361.9h0M135.2 256.4h0M144 320.5h0M138.8 258.5h0M135.4 281.4h0M146.1 303h0M162.6 285h0M157.2 275.2h0M135.6 356.3h0M49.5 236.8h0M162.4 285.1h0M112.3 229.1h0M140.5 246h0M148.5 336.4h0M160.7 385.1h0M138.3 326.9h0M141.1 280.7h0M151 286.3h0M136.4 230.4h0M161.3 380.1h0M139.1 307.4h0M143 310.7h0M173.9 379.1h0M141.1 300.9h0M141.7 332h0M141.5 266.1h0M136 288.7h0M138.6 342.3h0M55.2 383.7h0M141.6 357.3h0M136 237.3h0M151.1 254.6h0M141.3 327.1h0M134.7 368.8h0M49.3 314h0M155.8 338.1h0M135.6 297.8h0M147.6 322h0M134.9 282.1h0M86.4 230.1h0M49.6 239.2h0M152.6 329.3h0M154.8 360.5h0M135 333.2h0M162.9 350.6h0M141.1 232.6h0M146 313.9h0M137.1 261.8h0M134.7 359.3h0M150 259h0M48.5 328.6h0M48.6 233.9h0M156.3 244.1h0M136.6 354.1h0M137.5 348.3h0M139.4 377.9h0M142.7 306.8h0M140.3 230.4h0M156.2 281.6h0M154.5 385.2h0M147.4 321.9h0M46.5 310.3h0M51.6 382.5h0M139.5 355.6h0M168.9 381.2h0M161.4 330.6h0M158.7 352.6h0M134.9 246h0M143.8 357.7h0M142.7 333.2h0M145 237h0M161.4 332.4h0M143 358.9h0M134.6 374.1h0M140.9 316.8h0M49.2 248.9h0M150.1 343.4h0M71.9 229.8h0M142.9 307.4h0M140.5 315.8h0M140 385.7h0M140 372.9h0M165.8 291.4h0M145.9 343.9h0M145.9 353h0M138 279.4h0M138.3 362h0M141.2 385.6h0M146.7 286.4h0M147.1 266.8h0M146.4 380.8h0M148.5 371.1h0M144 354.9h0M135.6 380.2h0M149.1 308.6h0M156.5 350.5h0M139.7 352.7h0M158.6 339.2h0M156 250h0M146.9 369.3h0M137.1 262.8h0M143.9 362.2h0M49.8 274.1h0M135.4 271.2h0M161.4 354.9h0M187.6 342.6h0M163.1 334.2h0M138.7 370.4h0M47 233.7h0M164.9 289.2h0M51.6 377.4h0M158.5 341.8h0M135.6 341.7h0M140.7 315.6h0M163.8 327.2h0M157.6 352.4h0M144 268h0M153.1 283.9h0M141.4 352.2h0M111.5 385.9h0M144.5 384.2h0M137.5 342.2h0M52.5 368.7h0M137.9 349.7h0M136.2 302.9h0M136.3 372.6h0M141.7 257.1h0M155.5 384.4h0M152.6 352.2h0M148 378.6h0M153.5 333.9h0M150.4 281.3h0M48.8 333.9h0M149.6 286.1h0M137.5 314.5h0M160.1 328h0M141.9 240.4h0M139.5 325.2h0M143.1 308.6h0M141.4 319.2h0M49.6 322.7h0M88.5 385.8h0M174.8 378.9h0M194.5 356.9h0M156.5 368.1h0M47 241h0M167.9 289.3h0M136.1 373.5h0M164.3 383.6h0M135.7 275.9h0M174.5 304.4h0M154.4 328.7h0M142.2 311.8h0M137.6 281.2h0M145.8 371.6h0M154.9 385.2h0M148.6 351.7h0M140.8 329.4h0M49.3 275.2h0M141.3 350.7h0M163.3 307.7h0M154.2 231.6h0M147.5 309.4h0M141.5 313h0M153.5 368.6h0M144 355.2h0M136.4 314.8h0M147.4 354.9h0M152.4 292.2h0M137.3 258.4h0M48.3 326.8h0M136.5 310.4h0M48.5 292h0M144.9 279.9h0M49.8 314.9h0M135.8 234.3h0M135.2 375h0M140.5 282.8h0M134.9 337.8h0M155.8 343.1h0M138.6 314.7h0M150.9 371.9h0M148.1 370.1h0M49.2 280.6h0M181.5 364.8h0M141.6 241.5h0M54.7 377.2h0M150.1 275.6h0M48 270.5h0M151.1 257.8h0M139.4 256h0M148 333.1h0M144.6 319.3h0M137.9 321.5h0M152.5 320.1h0M144.7 283.3h0M145.1 322.5h0" stroke="#457B9D" stroke-width="2.7" stroke-linecap="round" fill="none" opacity="0.72"/>
<path d="M135.8 329.3h0M155.6 240.3h0M141.3 296.3h0M140.3 364.4h0M145.6 257.1h0M143.5 371.8h0M138.6 357.9h0M142.5 367.4h0M49 273.4h0M145.8 385.7h0M139.3 360.4h0M49.1 281.5h0M151.1 265h0M49 272.5h0M152.9 372.1h0M166.2 352.4h0M143 303.5h0M147.6 307.5h0M154 270.8h0M126.3 385.4h0M157 335.9h0M169.5 365h0M146.4 363.7h0M137.1 319.9h0M141.8 251.7h0M157.5 349.6h0M139.8 303.5h0M141 314.7h0M48.8 231.5h0M174.3 377.5h0M136.2 332.8h0M198.4 385.6h0M135.4 305.4h0M48.5 283.7h0M160 370.8h0M144.3 369.6h0M144 384.1h0M142.5 234.6h0M175.8 328h0M152.5 365.8h0M135.1 309.7h0M155.3 385h0M139.6 303.5h0M49.5 249.6h0M143.1 278.7h0M144.7 350.1h0M139.3 326.6h0M140.4 249h0M149.6 308.8h0M137.9 230.6h0M146.2 291.7h0M147.2 355.4h0M49.3 307.5h0M134.9 300.1h0M139.7 245.3h0M167.3 330.5h0M163 300h0M143.5 253.8h0M47.9 237.2h0M139.6 261.3h0M149.6 296.6h0M138.9 339.9h0M135.7 377h0M141.9 334.4h0M142.8 288h0M149.8 371h0M47.9 326.7h0M139.1 317.3h0M141.7 311.8h0M148.9 374.4h0M127.6 386h0M153.7 348.7h0M144.1 361.9h0M143.5 328.3h0M143.2 255.2h0M141.8 240.2h0M142.2 309.8h0M47.2 274.1h0M134.9 238.5h0M141.8 357.5h0M140.8 276.6h0M202 376h0M50 242.6h0M135.7 254.3h0M153.1 250.9h0M144.6 231.8h0M135.2 251.5h0M48.5 241.2h0M139.3 359.4h0M151.3 248.7h0M135.6 314.3h0M139.1 268.9h0M134.9 286.5h0M136.9 363.5h0M136.1 289.2h0M164.4 375.9h0M141.6 312.4h0M135.6 338.6h0M156 255.5h0M135.4 235.9h0M140.7 360.4h0M46.5 286.4h0M138.5 384.6h0M160.9 305h0M138.7 371.1h0M148.2 308.1h0M168.9 348.4h0M147.8 330.3h0M135.6 307h0M137.8 320.3h0M147 379h0M49.6 240.2h0M141.7 381.3h0M127.2 230.5h0M145.7 293.2h0M135.6 280.5h0M149.3 330.1h0M135.6 356.5h0M47.9 283.7h0M143.3 363.6h0M158.2 351.6h0M154.1 371.6h0M166.1 309.3h0M190.7 375.6h0M143.8 251.3h0M140.9 361.4h0M141.7 293.1h0M143.3 282.2h0M151.6 356.1h0M146.4 270.1h0M141 360.3h0M118.2 230.4h0M147.9 242.6h0M139.3 261.4h0M49.9 259h0M137.8 255.2h0M49.1 292.5h0M148 250.9h0M144.3 366.6h0M139.8 383h0M138.6 250h0M181 324.7h0M155.2 374.6h0M46.7 293.2h0M48.5 260.2h0M143.3 336.2h0M141.7 355.9h0M49.9 270.9h0M52 371.2h0M52.6 373.8h0M140.8 368.7h0M164.8 310.9h0M146.7 350.5h0M48.2 254.2h0M178.1 375.3h0M173 349.2h0M136.6 356.9h0M147.8 365.1h0M135.3 375.9h0M49.6 254h0M134.9 266.4h0M145.2 311.1h0M143.4 373.3h0M161.1 314.8h0M134.8 230.6h0M138.6 260.3h0M148.1 356.5h0M146 314.4h0M135.2 325.9h0M46.4 238.5h0M48.3 270.4h0M154.2 335.7h0M144.5 257.7h0M146.2 257.8h0M49.5 260.2h0M166.3 286.1h0M49.7 345.5h0M48.9 284.6h0M178.3 370.2h0M146.2 377.7h0M48.9 335.9h0M142.3 305.3h0M49 266.3h0M143.2 361.5h0M201.7 382.6h0M152 317.3h0M167.5 343.2h0M49.4 268.3h0M151.2 353.7h0M141.6 299.3h0M149.2 314.5h0M48.4 244.7h0M139.4 273.1h0M139.6 371.5h0M178.5 355.8h0M51.3 369.2h0M49.4 251.1h0M140.9 287.9h0M141 308.9h0M136.5 239.1h0M153.1 377.7h0M134.7 292.1h0M150.8 356h0M50.6 354.8h0M46.4 249.8h0M170.3 331.3h0M149.2 286.6h0M137.9 379.7h0M136.3 368.1h0M141.4 334.3h0M134.7 355.3h0M155 353.3h0M144.9 292.5h0M144.5 382.6h0M152.1 381.9h0M136.4 272.9h0M52.4 384.6h0M143 310.4h0M140.8 349.9h0M142.4 363.4h0M138 374.8h0M136.4 331.5h0M153.5 319.2h0M54.1 386.5h0M156.4 270.9h0M149.6 336.5h0M151.2 357.7h0M139.1 368.1h0M199.1 381.2h0M147.5 301.9h0M49.9 253.7h0M139.7 329.3h0M139.1 345.7h0M151.4 236.6h0M135.8 337.4h0M140 292.4h0M154.4 301.8h0M149.1 316h0M150 270.2h0M138.4 342.7h0M162.8 353h0M139.9 298.1h0M72.3 230.6h0M151 239.9h0M140.7 340.6h0M136.4 284.5h0M121.3 386h0M49.1 236.3h0M151.9 313.4h0M143.2 294.8h0M182.8 329.7h0M139.4 242.5h0M135.2 256h0M157.9 364.6h0M163.3 328h0M135.2 267.4h0M97.9 229.6h0M137.9 380.7h0M123.4 385.8h0M135.7 332.6h0M53.5 376.5h0M144.9 312.6h0M140.9 275.2h0M137 339.1h0M148 324.5h0M136.3 321h0M136.2 373.7h0M137.6 268.4h0M49.2 275.1h0M149.5 367.6h0M146.6 382.6h0M135.3 379.5h0M145.8 372.6h0M136.5 320.9h0M145.8 363h0M143.4 341.1h0M140.8 335.7h0M142.8 332.1h0M135.7 308h0M49.1 273.7h0M47.3 256.1h0M137.3 350h0M137.7 251h0M140.4 270h0M168 322h0M138.9 273.6h0M134.9 355.1h0M145.8 257.1h0M144.5 349h0M143.4 288.2h0M147.5 245.4h0M145.4 278.1h0M135.3 280.3h0M141.7 299.1h0M135.8 343.2h0M48.9 255.3h0M136.5 267.6h0M141.8 378.3h0M145.5 324h0M180.9 371.8h0M178.6 373.4h0M140.5 326.1h0M48.4 260.6h0M52.6 381.6h0M49.9 305.2h0M141.7 332.4h0M49.4 334h0M137.9 367h0M140.2 255.3h0M88.2 230.6h0M48.2 261.4h0M144.7 280.8h0M48.8 322.9h0M151.4 353.1h0M138 324.2h0M45.5 315.7h0M48.2 259.9h0M95.4 230h0M140.3 340.5h0M142.3 363.5h0M93.2 385.9h0M48.6 276.1h0M141.5 319.6h0M49.6 278.3h0M152.7 382.6h0M137.3 280.1h0M143.6 326.1h0M51.4 360.8h0M144.4 318.8h0M52.6 367.7h0M140.6 384.8h0M144.1 305.5h0M52.7 371.2h0M153.5 353h0M142.5 230.9h0M48.3 252.7h0M91.5 385.9h0M140.2 235.9h0M144.1 265.1h0M138.2 255h0M134.7 359.2h0M160.9 371.7h0M154.3 332.8h0M145.5 352.3h0M145.4 291.3h0M49.3 293.2h0M56.2 386h0M169.9 336.5h0M172.6 381.6h0M54.3 383.4h0M142.5 351.6h0M135.6 371.8h0M136.2 298.6h0M160.8 335.7h0M145.6 325.9h0M47.8 345.2h0M138.1 367.2h0M155.7 287h0M49.7 269.5h0M144.8 343.4h0M139.3 285.1h0M48.2 311.6h0M145.1 343.9h0M149 240.8h0M129.4 386.7h0M125.2 386.5h0M139.8 338.7h0M113.9 230h0M143.9 259.4h0M153.4 333.1h0M147.1 347.9h0M147.9 267.6h0M48.7 345.1h0M48.8 257.1h0M139.9 286.3h0M136.4 370.3h0M178 353.4h0M147.1 384.9h0M46.2 242.3h0M146.3 324.4h0M154.2 317.1h0M141.4 307.7h0M138.1 343.1h0M154.9 322.4h0M49.3 235.8h0M49.1 310.9h0M52.3 372.7h0M160.7 296.7h0M162.2 342.9h0M161.1 291.5h0M135.8 353.8h0M135.4 313.6h0M193.7 381.5h0M86.4 229.9h0M141.9 319.6h0M134.7 356.9h0M47.5 273.1h0M190.7 353.4h0M155.6 359.7h0M164.3 352.4h0M51.9 368.6h0M142.1 236h0M135.8 345.9h0M142 316.4h0M137.7 365.5h0M52 373.4h0M49.3 346.5h0M153.1 348.5h0M138.5 352.8h0M130.2 230.3h0M143.3 293h0M52.5 378.1h0M135 337.5h0M163.4 368h0M137.6 252.4h0M105.8 230.4h0M49.7 370.7h0M139.4 342.1h0M135.3 317.8h0M137.5 307.1h0M148.6 330h0M46.8 339.9h0M145.7 262.5h0M49.2 324.4h0M49.4 331.1h0M153.4 326.5h0M140.2 302.5h0M137.8 314h0M49.4 281.9h0M53.3 385h0M157.7 341.1h0M137.5 348.6h0M70.3 385.5h0M136.7 372.1h0M141.7 314h0M141 302.4h0M142.8 376h0M150.2 321.5h0M165.9 302.6h0M156.6 381.1h0M155.2 370.1h0M139.4 365.9h0M139.9 277.4h0M140.3 354.2h0M53.2 372.1h0M141.4 375h0M135.2 251.2h0M142.2 262.4h0M144.2 338.9h0M161.3 345.2h0M127.7 230.9h0M141.2 346.4h0M137.2 298h0M135.4 255.6h0M49.4 280.6h0M139.3 267.9h0M138.1 362h0M46.8 250.8h0M153.6 352h0M144.6 362.2h0M147.8 305.9h0M171.1 351.5h0M142.8 292.3h0M150.7 311h0M135.5 366.9h0M46.7 291.4h0M143.3 230.2h0M142.7 369.8h0M154.8 332.8h0M135.2 243.6h0M179.6 374.5h0M150.4 311.7h0M157.2 347.6h0M154.5 338.3h0M175.6 342.4h0" stroke="#457B9D" stroke-width="2.7" stroke-linecap="round" fill="none" opacity="0.72"/>
<path d="M144.3 302.4h0M48.5 309.6h0M160.4 347.7h0M139.5 348.1h0M169 327h0M137.6 284.7h0M190.5 383h0M166.5 326.3h0M47.6 291.2h0M135 250.4h0M135.9 339.9h0M148.7 333.1h0M195 380.3h0M48.4 313.8h0M50.2 346h0M136 298.6h0M164.9 353.3h0M142.7 268h0M151.4 304.3h0M135.2 303.3h0M161.7 291h0M185 382.3h0M49.1 250.2h0M142.6 265.1h0M145.6 380h0M49.4 251.1h0M151.8 366.3h0M147.5 381.9h0M152.1 308.8h0M77.7 230.4h0M135.7 298.8h0M144.8 288.2h0M155.5 325h0M142.3 339.6h0M178 370.5h0M157.8 364.5h0M54.4 378.3h0M144.2 362h0M157.9 241.3h0M138 297.7h0M48.7 293.2h0M137.9 355.5h0M136 367.5h0M48.8 249h0M141.6 273.1h0M48.6 352.5h0M137 274.5h0M52.9 384h0M135.5 379.1h0M144.8 279.7h0M134.7 239.2h0M141 304.1h0M143.2 382.8h0M145.5 304.4h0M138.4 313.6h0M138.7 305.5h0M116.4 385.6h0M137.3 264.2h0M49.3 334.4h0M136.2 314.7h0M143.4 241.1h0M149.9 300.8h0M138.9 295.8h0M53.4 377.3h0M163 270.9h0M48.8 360.1h0M136.3 303.8h0M136.7 382.1h0M143.7 343.4h0M137 340.4h0M140.5 338.1h0M147.7 333.8h0M93.4 230.4h0M153.3 275.2h0M135 267.5h0M147.4 344h0M150.9 252.8h0M153.3 383.1h0M136 231.8h0M143.2 288.2h0M51.9 361.1h0M144.8 382.1h0M138.6 267.7h0M135.3 250.6h0M144.8 323.6h0M146.2 264.1h0M47.3 288.3h0M140 353.8h0M153.8 307.7h0M173.5 349.9h0M165.7 350.1h0M49.3 291.3h0M134.9 343.5h0M173 344.7h0M143.3 290.8h0M139.3 381.3h0M134.7 370.1h0M137.1 362.4h0M170.5 374.5h0M139.5 251h0M136.9 311.2h0M138.9 338.6h0M140.1 262.6h0M54.2 381.1h0M57.8 385.5h0M141 332.3h0M49.9 231.8h0M138.4 231.7h0M138.2 337.4h0M141.5 359.4h0M149.3 385.6h0M161.5 274.2h0M150.2 377.2h0M135.9 307.4h0M157.7 381.3h0M148.1 361.5h0M142.2 285.9h0M158.2 303.1h0M138.8 295.7h0M158.6 379h0M135.8 319.4h0M138.4 266.5h0M50.9 374h0M49 260.8h0M137.6 281.8h0M49.1 291.5h0M137.3 319.4h0M48.1 341.2h0M47.7 346.6h0M82.4 385.9h0M146.6 337.8h0M140.9 340.1h0M153.2 363h0M151.8 375.3h0M147.7 240.2h0M137 353.9h0M171.9 334.5h0M138.1 269.4h0M147 254.8h0M51.2 366.3h0M156.8 243.9h0M144.3 259.5h0M136.6 299.4h0M135.4 289h0M164.7 361.2h0M135.7 260.7h0M47.7 290h0M144.2 363.8h0M178.4 371.3h0M138.9 278.4h0M152.6 346.7h0M119.7 385.7h0M147.6 310.4h0M171.1 305.7h0M149.1 333.9h0M164.2 361.2h0M146.9 378.6h0M137.3 368.6h0M153 296.1h0M145.1 366.8h0M158.6 352.3h0M154.1 263.3h0M188.6 332.4h0M107.4 385.9h0M138.1 373.5h0M161.6 347.1h0M164.4 383.5h0M160.5 312.5h0M139.4 385.4h0M140.3 352h0M191.2 346.3h0M136.9 376h0M141.9 349.6h0M140.5 349.1h0M141.2 262.1h0M138.6 313.4h0M135.3 343h0M199 380.5h0M47.8 236h0M136.3 365.5h0M49.5 252.1h0M148.5 385.6h0M156.7 266.3h0M81.9 385.2h0M48.7 275.1h0M148.1 326.7h0M48.8 292.9h0M138 361.2h0M134.6 370h0M138.2 341.2h0M136.5 338h0M162.7 354.5h0M149.3 234.3h0M49.2 308.4h0M51.2 369.1h0M171 328.3h0M142.5 252.2h0M137.1 361.8h0M135 243.9h0M146.1 326.7h0M142.2 355h0M136.1 261.1h0M54.2 385.1h0M151.9 354.7h0M153.5 376.9h0M140.8 306.3h0M136.4 244.9h0M116.5 385.9h0M148.3 353.2h0M50.9 352.9h0M134.9 241.6h0M151.5 296.9h0M153 292.5h0M146.9 333.1h0M139.5 270.8h0M150 289.2h0M142.8 257.6h0M49.1 315h0M136.9 359.8h0M162.2 327.1h0M51.9 369h0M150.9 266.4h0M140.2 381.2h0M151 340.9h0M49.7 346h0M137.1 364.8h0M81.5 385.7h0M162.2 334.7h0M73.7 230.4h0M134.6 301.4h0M161 304.6h0M151 265.2h0M134.9 241h0M48.8 326.6h0M145.7 275.6h0M152.7 278.3h0M135.3 284.1h0M141.3 276.9h0M117.8 230.1h0M138.3 268.6h0M150.4 360.5h0M160.8 382.5h0M151.2 367.7h0M135 319.7h0M148.3 368.7h0M152 327.7h0M164.1 293.7h0M155.7 327.2h0M139.1 336.8h0M142.2 372.4h0M136.7 311.4h0M140.5 335h0M135.1 292.1h0M155.3 267.4h0M152.2 280.4h0M155.2 362.8h0M137.1 327.2h0M140.7 264.8h0M170.3 349.7h0M141.3 276.7h0M125.8 230.7h0M152.9 298h0M141.1 354.3h0M47.4 294.1h0M49.1 327.4h0M122.8 385.5h0M154.4 314.2h0M185 374.5h0M163.5 335.4h0M49.3 243.9h0M144 356.8h0M135.7 347.6h0M146.7 313.7h0M144.2 345.8h0M148 367.7h0M143.7 350.3h0M49 242.2h0M134.6 380.9h0M155 370.7h0M139 260h0M51.6 358.8h0M49.9 325.1h0M206.2 384.7h0M163.1 379.1h0M139.8 357.6h0M155.6 360.5h0M140 305.7h0M48.8 335.1h0M143.8 366.6h0M134.8 312.8h0M137.2 252.1h0M140.7 375h0M142.2 346.6h0M139.4 266h0M151.5 280h0M143.8 325.6h0M136.3 311.2h0M139.1 230.3h0M135 271.3h0M143.8 252.8h0M50.7 355.2h0M142.2 267.4h0M142.7 317h0M142.8 271.2h0M144 231h0M138.7 251h0M49.1 292.8h0M142 260.1h0M175 363.4h0M138.9 302.8h0M138.3 262.5h0M176 338h0M149.2 295.8h0M146.6 357.7h0M160.1 371.9h0M149.3 362.9h0M151.1 348.9h0M177 353.3h0M179.3 346h0M156.7 374.6h0M49.8 250.6h0M52.8 372h0M136.2 337.4h0M51.1 355.5h0M160.4 269.9h0M143.7 360.1h0M135.1 310h0M150.9 338.4h0M167.8 368.2h0M47.4 291.9h0M148.7 263.4h0M136.3 311.1h0M178.1 360h0M49.9 349.7h0M143.9 338.1h0M148.6 327.5h0M182 374h0M136.9 244.5h0M160.5 381.8h0M168.4 369.4h0M142.8 319.1h0M135.6 370h0M152.4 354.4h0M144.6 258.1h0M50.1 352h0M140 288.6h0M151.4 360.5h0M140.9 270h0M151.8 382.3h0M146 299.9h0M142.4 320.6h0M161.7 350.1h0M152 241.7h0M141.2 381.8h0M142.4 337h0M138.1 296.6h0M49 287.1h0M49.3 292.2h0M140.6 230.6h0M151.5 285.4h0M145.7 380.8h0M158.1 354.3h0M137.3 297h0M49.4 329.3h0M137.4 247.1h0M142.2 335.1h0M135.7 303.8h0M153.3 316.6h0M162.4 350.5h0M149.5 363.7h0M148.2 355.6h0M49.4 300.2h0M146.6 257.7h0M141.6 343.3h0M48.5 338h0M142.9 340h0M142.8 380.9h0M164.8 376.4h0M167.9 375.5h0M134.6 270.1h0M138.3 374.7h0M49.4 352.5h0M141.6 382.9h0M48.8 249.6h0M142.5 334.5h0M158.6 369.9h0M52.4 367.5h0M48.9 234.6h0M138.9 280.5h0M190.9 347.2h0M134.6 237.9h0M164.4 305.3h0M54.2 379.8h0M136.7 245.5h0M159.4 372.6h0M49.1 310.2h0M140.4 383.4h0M135 365.7h0M49.7 366h0M144.5 367.8h0M136.4 340.5h0M164.1 320h0M159.1 285.8h0M48.8 293.1h0M46.6 332.4h0M148.4 303.8h0M140 314.5h0M153.6 385.1h0M153.2 377.6h0M137.8 359.9h0M143.4 330.2h0M175.9 366.1h0M140.7 298h0M145.3 316.2h0M140.1 325.6h0M66.5 386.1h0M49.1 339.2h0M141.9 303.7h0M48.9 260.9h0M139.2 258.1h0M136 268.5h0M152.5 298h0M137.2 336.1h0M140.4 232.7h0M166.1 340.4h0M49.1 244.5h0M147.1 339.9h0M171.2 384.7h0M163.3 369.3h0M135.1 330.8h0M161.4 384.9h0M135.3 257h0M145.1 361.2h0M153.8 344.6h0M147.1 308h0M49.1 311.8h0M175.3 364.8h0M135.5 294.9h0M202 382.4h0M137.8 361.5h0M149.8 336h0M135.1 364.4h0M99.2 386h0M159.4 368.6h0M49.8 331.2h0M151.4 305.7h0M165.1 341.8h0M157.7 385.1h0M142.3 242.6h0M158.7 297.3h0M48.5 249.6h0M154.9 302.4h0M207.1 383.2h0M141.4 334.7h0M154.5 354.3h0M142 280.7h0M157.3 357.6h0M142.6 307.9h0M138.2 357.5h0M145.2 354h0M145.1 349.1h0M49.6 326.4h0M137.6 355.5h0M163.7 347.9h0M47.9 337.7h0M163.1 335.1h0M48.2 312.3h0M211.5 383.6h0M146.7 355.3h0M136.1 301.3h0M164.9 345.9h0M50.5 301.9h0M138.8 323.3h0M151.6 345.1h0M142.4 300.6h0" stroke="#457B9D" stroke-width="2.7" stroke-linecap="round" fill="none" opacity="0.72"/>
<path d="M139 368.2h0M138.3 280.9h0M134.9 245.8h0M140.4 350.1h0M136.8 281.7h0M142.8 273.1h0M188.4 376h0M141 366.1h0M157.1 336.2h0M134.9 244.2h0M141.6 244.3h0M48.5 252.1h0M48.9 244.7h0M124.2 385.1h0M203.2 364h0M152.3 283.9h0M144.5 362.7h0M136.1 333.4h0M142.7 375.9h0M49.3 295.8h0M138 254.1h0M134.8 289.1h0M139.8 343.4h0M57.5 385h0M135.4 339.8h0M145.4 246.7h0M136 251.3h0M206.5 381.1h0M139.5 344.7h0M141.2 299.6h0M141.5 294.7h0M134.7 261.3h0M48.4 285.1h0M48.8 280.8h0M139.7 336.9h0M172.1 384.5h0M163.1 317.5h0M48.9 235.4h0M143 373.4h0M141.5 287.8h0M152.1 377.7h0M135.6 253.3h0M155.9 367.1h0M147.4 323.2h0M170.8 355.8h0M144.5 258.5h0M136 243.1h0M137.5 265.4h0M117.2 386.1h0M138.5 370.9h0M101.4 230.7h0M49.1 318h0M146.6 354.4h0M46.8 255.2h0M156.5 384.5h0M49.1 293.3h0M137.3 261.5h0M142.7 370.7h0M148 270.9h0M159.5 353.6h0M140.9 343.4h0M151.7 381.7h0M140.1 264h0M50.9 372.6h0M164.3 331.6h0M151.8 338.8h0M52 369.7h0M146.7 369.1h0M140.9 313.5h0M146.2 325.1h0M159.4 338.8h0M153.9 374.9h0M52.5 371.8h0M137.2 267.2h0M52.9 374.5h0M159.7 384h0M159.2 349.7h0M141.8 314.3h0M139.6 231.1h0M136.1 290.9h0M143.9 312.8h0M48.9 311.2h0M151.1 382.3h0M168.3 334.8h0M150.4 253.8h0M140.4 269.7h0M135.2 296.4h0M137.3 251.3h0M96.7 385.5h0M146.5 384.7h0M52.7 367.7h0M47.6 252.2h0M160.7 368.9h0M141.4 262h0M141.9 385.8h0M141.1 358.4h0M156.4 344.7h0M137.8 336.3h0M178 352h0M137.9 312.7h0M153.5 375.3h0M149.6 369.1h0M135.9 377.7h0M139.3 292.5h0M190.7 358.1h0M135.5 286.5h0M165.7 297.3h0M49.1 267.1h0M47.5 273.8h0M142.2 363.2h0M141.2 353.3h0M146 273.8h0M144.9 285.1h0M145.1 356h0M136.9 378.9h0M135.5 312.5h0M142.3 247.2h0M170.8 345.2h0M135.3 335.6h0M145.5 309.4h0M144.6 303.3h0M139.9 357.6h0M165.5 366.2h0M136.8 350.4h0M139 269.7h0M135 295.3h0M54.2 383.8h0M152.4 378h0M162.1 359.3h0M135.7 280.8h0M136.9 264.6h0M136 277.2h0M48.7 353.4h0M156.8 359.9h0M53.2 376.1h0M152.3 294.9h0M143.3 372.6h0M145.8 270.3h0M134.6 321.6h0M143.3 334.2h0M135.4 337.2h0M136.5 329h0M52.5 367.2h0M49.5 231h0M142.3 340.6h0M155.9 322.6h0M49.2 287.5h0M145.1 331h0M149.4 281h0M140.7 265.6h0M140.7 316.6h0M151.7 257.3h0M49 341.8h0M144.3 349.8h0M140.8 364h0M135.4 349.1h0M156.8 348.2h0M135.1 240.9h0M171.6 361.3h0M136.2 341.7h0M161 267h0M47.8 235.9h0M137.4 281h0M144.8 287.9h0M54.6 381h0M136.3 239.1h0M52.5 385.7h0M97.9 230.3h0M139.6 314.4h0M166.7 379h0M51.5 283.2h0M163.3 322h0M169.5 301.3h0M154.9 287h0M143.2 359.5h0M155.9 294.9h0M144.3 275.2h0M144.8 288.6h0M48.9 255.4h0M157.1 371.7h0M136 298.5h0M138.1 266h0M147.6 265h0M158.1 287.1h0M142.2 269.1h0M159.5 383.9h0M136.8 347h0M135.8 380.6h0M48.5 242h0M139.2 376.7h0M166.2 331h0M142.2 264.8h0M147.5 294h0M137.1 313.2h0M139 308.3h0M137.2 263.5h0M142.4 370.9h0M154.6 314h0M151.3 368h0M160.2 272h0M135.5 272.9h0M141.2 314h0M138.8 376.3h0M139.1 291.2h0M48.8 252.2h0M149.9 243.9h0M127.4 230.4h0M49.4 276.6h0M146.7 338.4h0M135 232.9h0M144.5 324.6h0M138.5 267.4h0M139.8 294.5h0M140.3 242.3h0M138.2 303h0M142.4 382.1h0M138.9 313.5h0M151.2 326h0M48.7 324.4h0M138.5 291.9h0M134.9 352.4h0M70.5 385.7h0M164.7 352.5h0M142 297.5h0M143.6 348.3h0M177 369h0M49.2 270.1h0M145.4 343.6h0M164.2 360.7h0M145.8 331.9h0M144.7 245.6h0M137.4 361.2h0M151.1 366.5h0M134.6 365h0M150.5 292.4h0M49.4 247.4h0M126.4 386.4h0M50.3 362h0M159 330.5h0M137.6 305.5h0M184.6 334.1h0M156.4 262h0M137.3 277.3h0M158.2 252.2h0M141.5 380.5h0M146.2 382.8h0M154.9 382.5h0M148.1 362h0M48.3 238h0M162 342.8h0M138.8 336.7h0M140.9 352.5h0M149 293.3h0M136.9 275.6h0M136.1 333.4h0M48.4 250.4h0M150.9 300.8h0M49.8 341.8h0M152 340.5h0M49.5 294.3h0M135.3 288.1h0M137.7 328.5h0M49 293.9h0M152.2 381.1h0M135.2 381.8h0M141 357.6h0M141.1 309.3h0M48.3 344.9h0M170.6 361.8h0M51.6 369.4h0M49.4 337.8h0M185.3 325.6h0M142.8 318.5h0M143 328.8h0M157.5 312.8h0M142.3 236.4h0M154.9 311.3h0M71.7 385.7h0M175.8 350.1h0M147 323.9h0M44.6 247.8h0M136.6 239.9h0M134.7 359.1h0M139.9 312.9h0M135.5 332.5h0M145.2 317.1h0M143.4 369.4h0M155.7 305.4h0M49.5 344.8h0M138.9 347.6h0M139.3 330.7h0M155.4 272.5h0M153.6 348.7h0M156.1 382.6h0M134.6 385.2h0M147.5 338.9h0M135.7 313.5h0M143.9 268.3h0M49.3 241.7h0M139.3 316.8h0M49.4 274.1h0M150.2 246.2h0M194.9 378.2h0M142.3 307.7h0M158.7 352.6h0M138.5 295.3h0M161.6 341.1h0M49.9 342.9h0M136.2 334.7h0M138.3 342.3h0M147.4 315h0M50.4 237.2h0M147.1 380.9h0M137.8 306.2h0M82.4 229.5h0M143.9 259.9h0M136.6 270h0M163.6 374.8h0M184.5 381.4h0M136.4 380.3h0M144.2 338.5h0M49.6 237h0M189.2 357.9h0M79.8 230.4h0M175.1 338.1h0M136.9 275h0M139.3 328h0M154 299.3h0M136 269.2h0M142.6 328.8h0M149.1 350.8h0M144.2 377.3h0M108.4 230.9h0M143 263.2h0M143.2 324.5h0M136.2 259.5h0M47.7 236.2h0M135.5 254.7h0M138.7 371.2h0M142.7 377h0M144.6 344h0M144.7 349.5h0M143.3 358h0M139.2 360.5h0M182.1 377.3h0M48.8 268.6h0M162.2 305.9h0M55.1 385.3h0M151.3 364.9h0M144.2 347.1h0M147.3 287.8h0M146 301.5h0M99.4 385h0M137 339.2h0M136.7 290h0M136.6 279.2h0M135.3 279.9h0M141.5 353.1h0M140 237.4h0M149.7 292.1h0M175.5 365.6h0M138.1 290.8h0M138.4 302.4h0M159.3 261.5h0M135.6 344.6h0M139.7 282.2h0M45.6 259.2h0M142.6 268.1h0M156.1 371.1h0M143.7 365.1h0M51.8 373.1h0M136 339.4h0M49.4 312.1h0M139 274.2h0M135.9 285.7h0M149.5 357.8h0M153.7 315h0M154.9 333.5h0M139.1 274.8h0M158.2 379.3h0M141.7 311.5h0M184.6 384.8h0M140 320.8h0M136.6 283.8h0M49.5 291.9h0M142.9 230.4h0M135.8 346.3h0M147.1 326.5h0M142.5 254.2h0M148.3 355h0M136.5 307.1h0M149.6 247.4h0M137.6 289h0M140.2 296.2h0M153.3 268h0M155.6 338.4h0M149.5 249.7h0M150.1 342.7h0M86.5 385.6h0M139.4 303.6h0M180.3 379.8h0M147.1 243.8h0M160 352.4h0M194.7 377.3h0M134.9 266.3h0M60.7 386.6h0M104.1 385.6h0M138.6 311.1h0M134.8 327.7h0M140.9 368h0M49.8 301.9h0M86.6 230.1h0M140.4 347.4h0M46.6 279.5h0M194.2 377.7h0M144.4 294.2h0M50.5 350.5h0M180.1 384h0M140.4 366.5h0M142.8 271h0M137.8 233.3h0M51.2 355h0M134.8 360.6h0M168.9 349.2h0M140.3 322h0M145.7 345.9h0M48 275h0M158.5 305.4h0M137.5 377.1h0M146.4 260.8h0M48.1 269.2h0M139.4 294.3h0M162.1 385.6h0M142.7 382h0M152.1 266.3h0M49.8 330.8h0M135.9 307h0M46.7 334.3h0M142.7 368.4h0M142.2 345.7h0M203.1 367h0M143.5 341.5h0M190 360h0M138.8 337.4h0M147 374.7h0M49.5 241.5h0M138.5 358.3h0M134.5 381.2h0M140.3 304.4h0M135.7 298.2h0M49.3 332.2h0M165.7 378.9h0M152.6 349.2h0M147.1 297.8h0M48.9 341.4h0M162.3 291.6h0M144.1 369h0M134.9 342.4h0M134.6 261.3h0M159.9 360.6h0M147 339.3h0M142.2 270.9h0M135.7 309.7h0M166 304.5h0M137.2 309.5h0M140.4 282.3h0M137.8 231.8h0M156.4 364.4h0M136.9 298.6h0M165.3 381.3h0M48.4 252.7h0M143.1 308h0M48.8 272.1h0M145.4 369.5h0M154.8 361.6h0" stroke="#457B9D" stroke-width="2.7" stroke-linecap="round" fill="none" opacity="0.72"/>
<path d="M154 315.5h0M46.9 272.6h0M139.6 237.1h0M50.7 344h0M48.4 236.5h0M139.5 346h0M135.9 384.6h0M47.3 238.8h0M138.2 301h0M146 359.6h0M148.9 282.2h0M137.4 347.8h0M140.4 324.1h0M139.7 310.6h0M150 248.9h0M51.3 361.1h0M157.1 361.8h0M49.5 249h0M145.1 320.3h0M203.3 361.4h0M148.7 304.8h0M152.7 345.8h0M144.5 333h0M139.3 343.7h0M48.9 344.9h0M137.2 280.1h0M137.1 342.5h0M138.1 248.5h0M140.6 329.2h0M144.3 292.3h0M145.9 261.1h0M151.5 356h0M135.4 299.5h0M135.4 327.3h0M143.2 373.2h0M135.7 343h0M134.8 295.3h0M153.7 235.2h0M162.1 384.9h0M50.6 362h0M151.3 354.5h0M141.8 237.3h0M149.3 321.2h0M49 356.1h0M136.3 286.4h0M149.2 356.5h0M156.2 371.5h0M151.4 299.7h0M51.5 362.2h0M154.2 305.3h0M153.1 361.5h0M141.8 376.5h0M161.4 365.9h0M137.9 348.3h0M140.4 258.2h0M140.2 356.8h0M176.9 319.8h0M162 267.3h0M167.2 343.6h0M158 268h0M170.6 373.4h0M137 359.9h0M47.8 236.5h0M135.9 376.4h0M140 248h0M164.4 378.1h0M154.2 319.1h0M154.4 346.2h0M137.9 285.7h0M166.9 327.1h0M52.9 377.9h0M135.2 261.7h0M141.1 263.4h0M142.4 378.2h0M150.5 344.5h0M140.4 278.2h0M207.5 379h0M157.9 322.7h0M140.8 313.3h0M143.7 311.9h0M46.6 295.5h0M135.7 365.8h0M200.3 379.2h0M137.7 334.6h0M136.7 343.4h0M138.6 377.3h0M49.5 302.4h0M49.5 286.7h0M133.7 386h0M56.1 229.8h0M152.8 382h0M134.9 318.2h0M142.1 371.9h0M136.4 362.2h0M136 246h0M141 327.6h0M158.3 315.2h0M160.3 365.7h0M186.4 360.9h0M150.7 337h0M136.5 251.4h0M152.6 334.7h0M141.3 376.3h0M141.9 360.5h0M51.8 364h0M145.7 288.1h0M149.4 354.1h0M136.9 283h0M137.2 267.4h0M52.2 367.5h0M146.2 319.7h0M151.9 283.4h0M48.2 293h0M52.5 372h0M140.7 234.3h0M169.1 349.5h0M137.2 257h0M135.8 340.6h0M138.5 292.5h0M150 343.9h0M135.2 309.9h0M160.8 382.7h0M147.7 353.1h0M145.3 239.3h0M141.8 350.6h0M144.6 271.6h0M140.2 372.7h0M103.1 386.4h0M183.3 381.1h0M49.4 238.5h0M137 328.9h0M47.4 292.6h0M161.5 381.4h0M144.1 234.9h0M135.1 351.1h0M49.4 234.2h0M144.8 374h0M141.2 368.2h0M49.7 242.8h0M146 368.7h0M139.2 383.7h0M53.3 375.8h0M143.5 252.9h0M137.6 358.6h0M148.1 292.1h0M157.5 312.7h0M52.5 377.7h0M137.2 246.6h0M151.1 314.7h0M54.7 381.1h0M165.1 373.4h0M134.5 269.2h0M142.4 290.4h0M176.1 358.3h0M138.5 265.8h0M150.1 273.3h0M146.6 341.4h0M47.2 240.4h0M174 385.3h0M137.4 279.4h0M137.4 238.5h0M147.7 265.5h0M143.5 231.2h0M141.9 385.4h0M140.8 270.4h0M136.2 345.4h0M48.6 292.4h0M153.1 384.1h0M146.4 325.6h0M49.1 291.4h0M48 290.3h0M47.2 310.3h0M144.4 379h0M52.9 371.1h0M63.1 385.2h0M145 242h0M136.2 375.2h0M134.9 261.7h0M143.3 253.7h0M94.3 230.8h0M144.9 369.6h0M49.5 317.5h0M152 341.6h0M148.8 325h0M135.6 234.2h0M137.4 279.8h0M158.3 351.1h0M136.5 358h0M196 384h0M152.5 362.3h0M140.2 313.9h0M144.2 310.6h0M148.9 363.7h0M141.2 238.9h0M143.3 231.9h0M162.5 357h0M193.7 383h0M138.5 295.8h0M68.1 230.4h0M138.1 272.8h0M195 375.7h0M50.4 367.7h0M54.3 230.5h0M149.2 272h0M49.4 246.1h0M50.5 349.2h0M174.3 370.1h0M134.8 299.7h0M195.8 359.8h0M49.6 298.6h0M49.9 329.8h0M145.2 243.2h0M157.1 384.3h0M135.7 309.1h0M48.9 240.9h0M150.5 346.2h0M134.9 306.1h0M142 376.1h0M147.1 250.2h0M141.6 356.2h0M152.7 351.1h0M174.1 350.1h0M144.1 336.5h0M168.2 378.6h0M142.7 280.2h0M145.9 327.1h0M141.3 333.5h0M153 258.7h0M160.8 377.4h0M153.9 244.9h0M163.1 284.5h0M141.6 357.3h0M143 322.9h0M48.9 273.5h0M49.5 354.5h0M52.2 361.5h0M136.2 372.7h0M135.5 356.6h0M140.7 360.8h0M159.7 376.1h0M150.7 339.3h0M138.1 265h0M185.2 329.3h0M159.3 320.7h0M135.5 277.8h0M47.9 249.7h0M143.3 230.8h0M160.8 375.4h0M185.4 346.5h0M48.1 331h0M134.7 380.9h0M170.1 340.8h0M52.5 382.7h0M161.7 375.1h0M147.3 336.3h0M141.1 240.1h0M146.8 352.7h0M139.8 374.5h0M148.8 310h0M146 355.8h0M51 364.7h0M160.5 367.3h0M173.9 367.4h0M48.4 259.8h0M163.5 349.9h0M134.8 366.2h0M52.5 374.9h0M139.2 375.2h0M50.8 351.1h0M171.7 338.5h0M151.6 372.8h0M143.2 340.6h0M159.3 373.8h0M135 356.8h0M128.5 230.2h0M138.6 345.1h0M159.8 381h0M135 265.1h0M149.7 351.5h0M137.3 374.3h0M49.7 345.4h0M146.4 346.7h0M167.5 334.5h0M141.4 301.1h0M149.8 336.8h0M189 383h0M152.5 367.8h0M48.2 293.7h0M107.8 385.4h0M147.6 332.3h0M146.8 321.7h0M144.6 351.2h0M143.6 329h0M135.6 374.7h0M135.2 316.3h0M152.4 338.7h0M156.1 299.4h0M141.5 291.4h0M151.4 254.2h0M155.2 307.8h0M135.6 252.4h0M137.6 247h0M145.7 283.4h0M139.3 375.4h0M136.3 344.1h0M139.8 238h0M137.2 343.5h0M143.6 276.9h0M143.1 312.3h0M155.6 269.6h0M143.5 376.4h0M65.5 229.9h0M193.4 357.9h0M137.1 382.6h0M149.2 307.4h0M54 376h0M205 383h0M138.4 250.7h0M46.9 285.5h0M134.8 370.3h0M139.8 318.2h0M147.4 250.4h0M137.5 283.9h0M138.8 281.1h0M50.6 369.9h0M146.6 372.5h0M148.4 271h0M135 369.6h0M157.7 353.2h0M179.8 352.6h0M149.1 378.4h0M137.8 309.1h0M160.5 326.7h0M137.8 319.6h0M137.5 323.8h0M150 362.1h0M48.8 274.8h0M138.3 382.9h0M135.7 246.9h0M140.6 338h0M158.1 252.9h0M139.5 324.9h0M171.2 353.4h0M140.6 243.4h0M144 256.1h0M135.2 257.2h0M137.8 343.5h0M148.8 309.1h0M153.7 344.4h0M147.4 338.2h0M152.3 331.9h0M140.6 335.4h0M149.3 299.5h0M138.3 254.5h0M177.1 384.6h0M164 373.4h0M49.2 249.9h0M153.6 385.5h0M139.9 330.8h0M141.5 362.9h0M136.4 355.1h0M147.4 338.3h0M139.2 379h0M137.2 369.6h0M146.8 296.9h0M156.9 332h0M86 230.5h0M147.1 331h0M134.7 303.7h0M135.8 257.4h0M147.7 310.6h0M154.8 237.9h0M134.6 371h0M186.9 368.9h0M175.9 373.5h0M154.6 353.9h0M139.9 271.2h0M151.3 301.2h0M145.8 340h0M148.2 294.9h0M137.4 350.6h0M135.9 267.4h0M148.4 266h0M140.3 373.7h0M137.6 334.1h0M150.9 361.6h0M140.8 265.1h0M145.2 354.6h0M139.2 238.6h0M149.1 327.6h0M178.8 368.3h0M141.9 372.4h0M135.5 281.5h0M49.3 285.7h0M51 365.5h0M136.6 333h0M149.8 354.9h0M134.5 261.7h0M158.6 264.6h0M163.2 326.2h0M140.3 360.8h0M144.4 320h0M138.6 362.6h0M145.9 378.9h0M144.4 324.1h0M143 323.9h0M135 292.3h0M155.9 359.2h0M143.4 348.7h0M146.9 294.6h0M48.7 345h0M53.4 377.2h0M143 250.4h0M141.4 384.2h0M143.4 251.9h0M135 304.1h0M136.3 252.2h0M141.3 243.2h0M49.5 254.2h0M152 379.2h0M142 274.7h0M49.6 268.9h0M143.6 375.5h0M117.5 386.2h0M141.6 371.1h0M135.2 300.8h0M136.1 285.9h0M140.5 321.5h0M157.8 383.6h0M136.5 275.2h0M53.5 383.1h0M148.9 258.6h0M135 321.1h0M143.4 383.7h0M149.8 385.1h0M161.5 341.2h0M150.4 382.4h0M158.5 323.8h0M135.4 291.8h0M153.3 265.8h0M135.2 257.5h0M139 304.3h0M137.9 330.1h0M49.3 345.7h0M139.4 239.9h0M134.7 300.6h0M87.5 386h0M50.1 329.1h0M141.9 362.3h0M50 242.6h0M134.6 271.8h0M156.6 370.5h0M135.9 282.7h0M47.1 247.6h0M49.5 293.8h0M151.2 339.7h0M178 341.1h0M150.6 332.4h0M136.1 372h0M48.8 286.9h0M141.6 369h0M158.9 306.9h0M142 385.6h0M49.1 248h0M154.9 366.4h0M167 334.7h0M172 345h0M138.9 248.6h0M147.9 371.8h0M49.2 236.8h0M185 364h0M48.5 293.2h0M52 364.7h0M48.8 256.4h0" stroke="#457B9D" stroke-width="2.7" stroke-linecap="round" fill="none" opacity="0.72"/>
<path d="M120.3 230.6C118.73 233.83 120.43 244.43 120.6 250C120.77 255.57 120.82 258.17 121.3 264C121.78 269.83 122.72 279 123.5 285C124.28 291 125.25 294.5 126 300C126.75 305.5 127.77 312 128 318C128.23 324 127.15 330 127.4 336C127.65 342 128.83 348.17 129.5 354C130.17 359.83 131.05 365.57 131.4 371C131.75 376.43 130.93 384 131.6 386.6C132.27 389.2 134.42 387.7 135.4 386.6C136.38 385.5 136.47 382.6 137.5 380C138.53 377.4 141.42 375.33 141.6 371C141.78 366.67 138.95 359.83 138.6 354C138.25 348.17 139.9 342 139.5 336C139.1 330 136.68 325.67 136.2 318C135.72 310.33 136.7 299.33 136.6 290C136.5 280.67 136.12 269.5 135.6 262C135.08 254.5 134.43 250.23 133.5 245C132.57 239.77 132.2 233 130 230.6C127.8 228.2 121.87 227.37 120.3 230.6Z" fill="#4DB962" stroke="#fff" stroke-width="0.45"/>
<path d="M102.4 386.8L68.14 386.8L65.6 384.74L64.15 384L62.8 382.56L61.13 380L60.22 377.2L58.88 375.2L56.5 365.6L54.84 355.2L53.6 344.39L52.8 332.66L51.97 318L51.05 282.8L50.29 262L50.28 230L64.4 229.88L115.2 229.99L115.38 230L116.41 232L116.83 233.6L117.2 236.75L117.61 246L117.23 254.8L116.67 262.4L117 264.4L117.8 266.8L118.4 270.42L118.8 271.35L120 272.31L120.21 272.8L121.07 278.4L121.6 279.36L122.4 280.04L122.69 280.8L121.84 291.2L121.85 300.8L122.19 305.2L122.61 307.6L123.2 308.81L124.4 309.68L124.72 310.8L124.1 314.8L123.85 318.8L124.23 323.6L124.94 327.6L125.79 335.2L125.6 335.73L125.2 335.98L122.4 336.17L121.6 336.48L121.09 337.2L120.42 339.2L120 339.55L117.6 339.81L116.8 340.17L116.23 341.2L115.67 343.2L114.58 344.8L114.2 346.4L114.18 347.6L114.57 349.6L115.22 351.2L115.75 354L116.54 356L117.05 358.8L118.27 361.2L118.73 364L119.6 366.61L120.1 370L120.87 372.4L121.49 377.2L121.2 381.56L120.4 385.4L120 385.76L119.2 385.89L104 386.07L103.2 386.24Z" fill="#4EB864" stroke="#ffffff" stroke-width="0.55" stroke-linejoin="round"/>
<path d="M102.4 386.08L96.4 386.31L81.6 386.3L73.6 385.93L69.6 385.5L67.71 384.4L67.16 383.6L65.19 376.8L63.65 372.4L62.23 369.2L59.37 358.8L56.94 347.2L54.9 332.4L53.51 318.8L51.63 262L51.34 230L114.43 230L114.63 230.8L115.6 232.53L116 234.07L116.33 237.2L116.72 246L116.4 254.23L115.8 262.4L116.17 264.8L117 267.2L117.77 271.6L118.4 272.7L119.41 273.6L120.23 279.2L120.71 280.4L121.64 281.6L120.93 290.8L120.91 300.4L121.76 308.8L122.15 310L123.38 311.2L123.53 311.6L122.99 316L122.93 319.2L123.36 325.2L124.01 328L124.59 334.4L124.4 334.89L122 335.37L121.2 335.75L120.63 336.4L120 338.05L119.6 338.52L117.2 339.01L116.22 339.6L115.74 340.4L115.1 342.4L114.17 343.6L113.81 344.4L113.38 346.4L113.36 347.6L113.78 350L114.43 351.6L115.03 354.8L115.72 356.4L116.44 360L117.53 362L118.03 365.2L118.8 367.32L119.35 371.2L120 372.8L120.55 377.2L120.4 380.61L119.61 384.8L118.8 385.22L111.73 385.6L104 385.73Z" fill="#70BE60" stroke="#ffffff" stroke-width="0.55" stroke-linejoin="round"/>
<path d="M104.4 384.44L98.4 384.71L82 384.64L79.8 384.4L74.87 383.2L74 382.55L72.54 380.8L70 376.37L68.5 373.2L66.3 369.2L64.4 364.4L61.74 355.2L59.32 344.4L57.05 331.2L55.3 318L53.23 262L52.81 230L99.12 230L102 232.49L104.4 234.91L105.33 236L106.02 237.2L106.86 241.6L107.41 262L109.29 280.8L108.65 300L108.6 310.4L109.81 315.6L110.2 318.8L109.7 328.8L108.77 333.2L106.76 339.2L106.21 343.2L107.89 375.6L107.69 380.8L107.42 382.4L107.07 383.2L105.97 384Z" fill="#7DC35C" stroke="#ffffff" stroke-width="0.55" stroke-linejoin="round"/>
<path d="M95.2 380.81L91.2 380.89L83.6 380.66L82.8 380.28L76.8 375.35L74.4 372.97L68.46 366.4L66 360.29L63.34 351.6L59.37 332.8L57 317.6L54.89 262.4L54.78 246.4L54.3 230L91.39 230L96.25 235.6L97.17 237.2L97.86 239.2L98.5 242L99.07 246L98.74 254.8L100.3 258.8L101.29 262.4L103.14 272.8L104.19 281.2L102.46 292L101.6 300L101.69 310.8L102.62 318L102.19 327.2L100.97 334.8L99.98 339.6L99.56 343.2L99.21 350.4L100.05 376.4L99.48 378.4L98.8 380L98 380.48Z" fill="#96C85A" stroke="#ffffff" stroke-width="0.55" stroke-linejoin="round"/>
<path d="M88.8 372.02L85.6 372.2L81.6 372.01L80.8 371.82L77.72 368.8L74.8 366.58L74 365.7L70.8 361.11L67.8 355.6L64.82 347.2L62.52 338.4L60.21 326.8L58.78 317.6L56.42 262.4L56.3 246.4L55.83 234.8L55.82 230L86.29 230L89.77 234L91.59 236.4L92.2 237.6L93.15 240.8L93.9 245.2L93.94 246.4L92.26 254.8L92.46 255.6L94.68 259.6L95.85 262.4L97.46 273.2L98.3 281.2L97.26 292L96.78 299.6L97 311.6L96.29 327.6L94.38 342.8L93.77 352L92.63 361.2L91.15 366.4L90.71 370.8L90.19 371.6Z" fill="#AFD055" stroke="#ffffff" stroke-width="0.55" stroke-linejoin="round"/>
<path d="M85.6 360.82L82.8 361.18L77.6 360.83L72.4 355.61L69.67 350.8L66.4 342.87L64 334.56L62 325.93L60.5 317.6L58.06 265.6L57.78 246L57.31 234L57.4 231.6L57.73 230L81.75 230L87.27 236.4L87.88 237.6L88.84 241.2L89.55 246L88.19 254L88.14 255.2L90.68 262.8L92.36 272.8L93.44 281.2L92.86 300L92.63 318L91.77 335.6L91.17 343.2L89.43 351.2L87.1 356L86.4 360.24Z" fill="#CDDA4B" stroke="#ffffff" stroke-width="0.55" stroke-linejoin="round"/>
<path d="M81.6 351.21L78 351.25L75.6 350.96L74.8 350.19L71.2 344.92L68.4 338.8L66.4 333.08L64.4 326.35L62.4 318.1L59.44 262.8L59.21 246L58.82 236L58.9 233.6L59.47 232L60.4 231.45L62.8 230.99L64.8 230.84L73.6 230.87L78.4 231.44L79.6 231.78L81.44 233.6L83.83 236.8L84.34 238.4L85.34 244L85.57 246.4L84.54 255.2L86.18 262.8L87.36 272.8L88.03 280.4L88.22 299.6L89.12 318.4L88.18 333.2L86.96 342.8L86.45 344L84.53 347.2L84 349.7L83.6 350.59L82.8 351.01Z" fill="#EBE042" stroke="#ffffff" stroke-width="0.55" stroke-linejoin="round"/>
<path d="M80.4 342.87L78 343.09L75.6 343L74.72 342.8L74 342L72.97 339.2L71.34 336.4L68.11 329.2L66.15 323.6L64.64 318L61.08 266.4L60.69 246.4L60.33 237.2L60.58 234.4L60.89 233.6L62 232.81L63.2 232.47L66.4 232.31L73.6 232.4L75.6 232.67L77.6 233.3L78.8 234.12L80.81 236.8L81.23 238L81.85 241.2L82.4 246L81.72 255.2L82.92 262.4L84.41 280.8L84.07 292L84.1 300.4L84.92 310.8L86.07 318.4L85.13 328L83.97 333.6L83.36 336L82.21 339.2L81.6 341.85L81.2 342.52Z" fill="#F7CD3A" stroke="#ffffff" stroke-width="0.55" stroke-linejoin="round"/>
<path d="M78.4 335.3L76.4 335.48L74.8 335.36L74 334.99L73.2 333.92L72 331.67L70.4 327.12L68.52 322.8L66.88 317.6L62.58 267.2L62.32 262L61.88 237.2L62.24 235.6L62.8 234.39L63.6 233.87L64.8 233.65L71.6 233.56L74 233.81L75.2 234.22L76.8 235.41L78.05 236.8L78.52 238L79.32 242L79.78 246L79.48 255.2L80.65 262L80.97 266.8L81.34 280.8L80.89 300L81.41 310.8L82.06 318L81.08 328.4L79.6 334.15L79.2 334.88Z" fill="#F8AF34" stroke="#ffffff" stroke-width="0.55" stroke-linejoin="round"/>
<path d="M75.2 327.63L73.6 327.61L73.2 327.38L72.8 326.74L71.43 322.4L69.6 318.4L69.28 317.2L67.58 302.8L65.6 281.2L64.05 266.8L63.8 261.6L63.43 241.2L63.59 238L63.87 236.8L64.4 236.13L65.6 235.36L66.8 235.09L70 235.04L72 235.26L74 236L75.1 236.8L75.63 237.6L76.2 239.6L77.36 246L77.41 255.2L78.25 262L78.46 266.4L77.44 292.4L77.46 300L78.18 312.4L77.95 318.4L77.2 325.37L76.84 326.8L76.57 327.2Z" fill="#F79130" stroke="#ffffff" stroke-width="0.55" stroke-linejoin="round"/>
<path d="M73.2 310.82L72 310.81L71.2 310.15L70.8 309.11L70 305.28L69.03 298L65.47 265.2L65.23 260.8L65.05 241.2L65.4 239.2L65.93 237.6L66.4 237.12L67.6 236.76L70.4 236.8L71.6 237.11L72.4 237.66L73.37 239.2L74.06 240.8L74.88 246L75.67 266.4L74.29 281.2L74.57 300L74.41 308.4L74 310.36Z" fill="#F4732A" stroke="#ffffff" stroke-width="0.55" stroke-linejoin="round"/>
<path d="M71.2 291.27L70.8 291.56L70.4 291.16L69.6 287.35L66.47 261.6L66.26 254L66.32 246.4L66.55 243.2L66.8 241.39L67.2 240.35L68 239.62L68.8 239.48L69.6 239.52L70.4 239.83L71.33 240.8L71.82 242.4L72.44 246.8L72.77 254.8L72.59 262L72.85 266.8L71.65 280.8L71.49 288.8Z" fill="#F15A28" stroke="#ffffff" stroke-width="0.55" stroke-linejoin="round"/>
<path d="M69.6 266.48L69.2 266.47L68.8 266.14L68 263.71L67.6 260.85L67.27 255.6L67.68 246.4L68 244.92L68.4 244.19L68.8 243.97L69.2 244.11L69.6 244.66L70.02 246L70.48 254.4L70.22 264.8L70 266.13Z" fill="#EA1E2C" stroke="#ffffff" stroke-width="0.55" stroke-linejoin="round"/>
<path d="M47.3 281.6 L220.2 362.2 L220.2 364.8 L47.3 282.8Z" fill="#bdbdbd" opacity="0.6"/>
<line x1="47.3" y1="282.2" x2="220.2" y2="363.5" stroke="#4d4d4d" stroke-width="0.8"/>
<line x1="36.4" y1="213.8" x2="36.4" y2="395.4" stroke="#111" stroke-width="1.1"/>
<line x1="35.9" y1="394.9" x2="232" y2="394.9" stroke="#111" stroke-width="1.1"/>
<text x="33.8" y="373.7" font-size="6.5" fill="#6b6b6b" text-anchor="end">0.1</text>
<text x="33.8" y="338" font-size="6.5" fill="#6b6b6b" text-anchor="end">0.2</text>
<text x="33.8" y="302.3" font-size="6.5" fill="#6b6b6b" text-anchor="end">0.3</text>
<text x="33.8" y="266.6" font-size="6.5" fill="#6b6b6b" text-anchor="end">0.4</text>
<text x="33.8" y="230.9" font-size="6.5" fill="#6b6b6b" text-anchor="end">0.5</text>
<text x="37.2" y="403.6" font-size="6.5" fill="#6b6b6b" text-anchor="middle">0.0</text>
<text x="85.15" y="403.6" font-size="6.5" fill="#6b6b6b" text-anchor="middle">0.5</text>
<text x="133.1" y="403.6" font-size="6.5" fill="#6b6b6b" text-anchor="middle">1.0</text>
<text x="181.05" y="403.6" font-size="6.5" fill="#6b6b6b" text-anchor="middle">1.5</text>
<text x="229" y="403.6" font-size="6.5" fill="#6b6b6b" text-anchor="middle">2.0</text>
<text x="136" y="221.6" font-size="8.85" fill="#1a1a1a" text-anchor="middle" stroke="#1a1a1a" stroke-width="0.2">Spearman rho = -0.23, P = 3.72e-91</text>
<text x="20.5" y="302" font-size="10.4" fill="#1a1a1a" text-anchor="middle" transform="rotate(-90 20.5 302)" stroke="#1a1a1a" stroke-width="0.2">MAF</text>
<text x="131.5" y="413.2" font-size="10.4" fill="#1a1a1a" text-anchor="middle" stroke="#1a1a1a" stroke-width="0.2">|EffectSize|</text>
<text x="3.6" y="220" font-size="17.6" fill="#1a1a1a" stroke="#1a1a1a" stroke-width="0.2">B</text>
</g>
<g id="panelC">
<path d="M288 230.6L283.2 236L282.6 250L283.8 270L286.3 290L289.6 310L292.8 330L296.4 350L299 365L301 372L384 372L384 368L383 360L378 337L371 314L361 291L348 268L338 256L324 245L307 236L291 230.6Z" fill="#4C7F9F" stroke="#4C7F9F" stroke-width="1.5" stroke-linejoin="round"/>
<path d="M298.1 232.9h0M342.5 255.8h0M380.6 355.8h0M310.4 233h0M300.4 373h0M285.3 283.4h0M380 346.8h0M361.2 291.2h0M358.1 265.8h0M292.3 341.2h0M323.7 370.7h0M318.9 379.5h0M308.9 370.9h0M375.4 374.6h0M384.3 339.8h0M388.1 367.2h0M368.5 287.8h0M376.6 340.3h0M348.5 374.4h0M287.1 294.9h0M373.5 332.2h0M379.8 311.5h0M385.6 335.9h0M330.2 372.4h0M284.6 269.8h0M325.4 380.4h0M363.7 300.4h0M385.1 299.1h0M363.7 302h0M381.1 371.5h0M301.5 376.1h0M362.9 296.9h0M396.2 379.2h0M323.9 236.4h0M307.4 373.5h0M322.8 373.8h0M384.1 353.7h0M312.8 371.7h0M294.9 340.8h0M311.1 376.8h0M381 346.4h0M360.5 370.6h0M382.8 302h0M403.7 374.2h0M298.5 370.7h0M315.1 240.9h0M283.8 269.4h0M371.7 370.8h0M376.3 378.4h0M349.8 374.4h0M384.4 362.4h0M357.1 373h0M348.7 272.6h0M332.9 245.9h0M391.1 362h0M375.4 328.1h0M302.8 373.5h0M339.9 375.7h0M283.8 262.9h0M294.1 336.4h0M370.5 319.7h0M363.7 264h0M285.7 318.3h0M350.9 376.4h0M378.4 348.3h0M283.2 260.8h0M378.9 308.1h0M355.1 277.4h0M383.9 379.9h0M371 308.3h0M374.8 333.9h0M336.6 252.5h0M288.9 230h0M391 351.1h0M282.5 249.4h0M324.1 372.5h0M372 375.2h0M373.7 326.4h0M341.7 244.8h0M382.8 377.8h0M291 341.7h0M282.3 266.2h0M357.2 284.2h0M345 238h0M378.2 335.7h0M340.3 373.2h0M312.7 378.4h0M328.2 248.6h0M323 234.4h0M304 374.2h0M355.6 374.4h0M328.1 378.4h0M301.6 375.2h0M288.5 231.1h0M372 308.3h0M355.1 281.1h0M303.9 376.4h0M368.7 310.7h0M286.7 287.2h0M343 265h0M391.4 379.1h0M290.3 310h0M297.6 351.2h0M399.2 373.7h0M376.1 311.4h0M379.1 349.5h0M283.9 240.5h0M321.6 372.1h0M296.4 232.5h0M350.6 270.8h0M391.3 371.1h0M283.3 240.1h0M338.2 375.8h0M370.3 372.2h0M365.4 300.3h0M346.5 377.8h0M401.8 374.6h0M383.6 356.1h0M389.4 370.9h0M370.5 300.2h0M295.7 358.7h0M285.2 274.2h0M383.1 379.1h0M375.2 374h0M372.3 298.1h0M381.6 370.5h0M286.1 286.2h0M372.3 305.6h0M382.9 292.4h0M384.2 362.7h0M380.8 373.3h0M398.7 343.3h0M392.6 373.6h0M283.8 235.5h0M308 233.3h0M352.2 274.6h0M382.5 378.9h0M329.8 373h0M342.5 374.7h0M390.5 373.2h0M359 376.6h0M279.9 251.3h0M283.1 264.1h0M320.3 374.8h0M319.2 370.6h0M282 250.6h0M317.2 374.6h0M287.2 304.8h0M331.5 371.8h0M316 232.5h0M317.7 243.6h0M291.1 231.7h0M383 238h0M381.3 331.5h0M348.1 273.4h0M286 233.5h0M333.2 251.7h0M301.5 234.3h0M301.6 375.8h0M337 247.2h0M386.6 377.6h0M380.2 370.7h0M346.4 371.5h0M383 354.2h0M366 380.3h0M338.8 258.8h0M344 266.5h0M390.9 319.8h0M347.9 372.6h0M373.1 300.1h0M400.5 281.7h0M306.5 233.5h0M373 314h0M399.2 329h0M283.9 282.3h0M298.7 370.6h0M293 340.4h0M340.5 247.6h0M343.7 260.8h0M378.3 351.5h0M382.7 354.9h0M289.6 316.1h0M290.8 352.9h0M358.7 258.1h0M353 372.4h0M292.4 330.5h0M330.1 250.7h0M351.1 277.6h0M348 372.2h0M386.2 377.5h0M363.4 289h0M353.6 280.9h0M292.7 327.3h0M361.9 370.6h0M357.4 277.7h0M289 311.1h0M393.6 354.7h0M351.5 279.3h0M299.3 373.7h0M341.1 262.4h0M371.1 305.1h0M355.7 370.8h0M351.6 274h0M306 236.4h0M348.5 371.5h0M295.3 350.3h0M370.2 286.2h0M385 294.1h0M369.7 311.5h0M283.8 258.3h0M288.9 312.2h0M292.4 322.4h0M310.6 236.5h0M287.2 308.2h0M381.5 373.3h0M360.9 292.5h0M307.4 235.5h0M304.9 232.6h0M381.9 379.3h0M347.1 251.4h0M322.4 234.5h0M376.8 371.6h0M362.8 293.4h0M299 367.8h0M377.7 377.1h0M372.6 323h0M283.8 236.9h0M358.3 284.8h0M361.4 372.7h0M425.3 269.1h0M388.8 352.6h0M294.7 352h0M285.6 286.6h0M297.1 233.5h0M365.8 370.6h0M375.5 320.3h0M364.2 370.7h0M382.2 361.4h0M381.1 370.4h0M379.7 356.2h0M306.8 232.2h0M351.4 373.9h0M377.5 341.2h0M332 376.1h0M321.9 242.9h0M300.8 374.8h0M347.4 371.9h0M309.7 373.7h0M292.9 329.3h0M381.2 334.1h0M369.8 301.6h0M390 351.4h0M416.5 364.5h0M381.4 308.9h0M308.1 373.1h0M366.2 372.3h0M375 320.5h0M368 301.8h0M361.7 377.2h0M368.7 268.8h0M387.4 337.6h0M366.7 373h0M280.9 254.6h0M292.5 337.6h0M383.9 373.3h0M388.8 375.2h0M283.2 272.8h0M343.3 261.8h0M381.7 306.9h0M373.4 326.4h0M331 249.7h0M322.8 234.7h0M332.3 371.5h0M357.1 268.7h0M347.5 371.9h0M293.1 357h0M380.4 332.3h0M393.6 376.5h0M405.7 327.5h0M391.7 364.3h0M415.2 342.8h0M348.8 273.5h0M367.9 309h0M387.7 322h0M347.6 271.7h0M286.9 323.1h0M368 290.9h0M364.1 302h0M366.7 296.4h0M317.3 373.2h0M375.5 339.9h0M382.4 319.6h0M370.6 309.6h0M374.9 380.8h0M371.8 321.3h0M298.5 362.7h0M390.6 350.7h0M322.2 376.1h0M288.7 317.2h0M342.8 254.1h0M285.4 275.3h0M370.8 321.9h0M349.6 372.4h0M395.8 361.2h0M343.8 377.3h0M371.8 289.3h0M293.7 232.9h0M310.6 371.1h0M380.9 366.4h0M381.5 380.9h0M408.9 340.1h0M296 347.4h0M324.5 246.9h0M356.8 371.7h0M347.1 263.9h0M281.5 254.7h0M378.4 338.2h0M395.8 378.1h0M372.5 304.6h0M370.6 318.3h0M301.5 372.7h0M384.6 330.9h0M374.5 330h0M311 371.8h0M402.3 368.6h0M327.7 374.6h0M360.2 271.4h0M367.1 302.8h0M317.4 370.7h0M385.6 327.1h0M406.6 298h0M375.2 311.1h0M385.2 316h0M379.9 310.9h0M347.4 271.6h0M391 373.2h0M362 243h0M388 252h0M387.5 377.3h0M359.8 260.1h0M379.5 372.9h0M372.5 373.9h0M383 378.1h0M385.4 363.2h0M292.9 231.3h0M293.7 358.6h0M319.1 374.9h0M348.8 372.1h0M304.2 235.7h0M297.2 375.1h0M381.4 364.7h0M381.2 335.9h0M352.3 265.9h0M384.6 371.8h0M366.9 302.4h0M371 374.6h0M298.4 380.5h0M391.6 347h0M311 376.1h0M303.8 374.3h0M379.9 378.8h0M379 342.2h0M297 231.9h0M283.3 261.6h0M352.6 268.8h0M383 359.4h0M360.3 265h0M313.6 371.3h0M303.1 232.2h0M380.7 364.5h0M332.5 371.9h0M379.9 319.3h0M416.2 370.4h0M323.6 371h0M367.3 303.3h0M370.4 371.5h0M316.1 234h0M427.7 337.6h0M379.5 349.9h0M333.8 248.6h0M287.4 294.4h0M386.2 325.7h0M322.8 370.6h0M344.9 259.7h0M291.8 338.8h0M381.1 373.1h0M286.4 292.1h0M389.8 373h0M319.5 375.8h0M365.9 292.8h0M357.4 270.5h0M370.6 313.6h0M364.5 371h0M391.5 363.8h0M354.9 280.6h0M384.9 371.1h0M301 233.7h0M370 304.7h0M400.3 346.1h0M283.8 257.2h0M386 333.5h0M297.7 373.5h0M396 370.7h0M346.9 259.7h0M348.2 273.1h0M363.5 280.1h0M354.3 266h0M338.3 374h0M301.6 376.1h0M316.4 234.1h0M376.2 287.5h0M346.7 265.8h0M368.5 310.7h0M316.6 233.9h0M286.8 231.3h0M343.1 265.1h0M283 279.6h0M377.7 285.6h0M382.3 380.8h0M342.9 255.8h0M387.8 378.6h0M299.9 234.7h0M358.6 375.3h0M364 302.7h0M389.4 356.2h0M387.8 357.4h0M374.8 370.8h0M396.7 349.9h0M429.9 354.9h0M382.9 288.5h0M396.6 375.2h0M342.9 262.5h0M376.6 329.2h0M340.1 377h0M320.6 375.3h0M365.5 268.6h0M387.5 371.2h0M333.1 372.3h0M368.8 311.6h0M381.8 363.1h0M311.6 375.6h0M423.4 363.1h0M283.5 244.5h0M300 372.2h0M315.3 240.7h0M393.7 371.4h0M390.1 325.3h0M422.1 319.5h0M286.5 285.7h0M380.8 347.2h0M352.5 257.9h0M400.7 325.9h0M318.6 370.9h0M322.1 373.4h0M366.5 288.5h0M302.8 231.7h0M286.9 232.6h0M380.9 364.9h0M300.1 232.5h0M281.7 272.3h0M407.7 283.9h0M293.7 231.8h0M296.8 363.2h0M391.1 349.3h0M380.8 344h0M349.2 269.3h0M375.5 331h0M366.4 371.5h0M389.1 372.9h0M372.6 321.8h0M294.6 364.5h0M372.3 327h0M355.1 284.1h0M297 233.7h0M308.9 238.8h0M297.3 370.4h0M388.3 355.9h0M316 239.1h0M370.9 374.4h0M315.3 371.7h0M393.4 360.6h0M395.5 376.1h0M355.5 286.3h0M315.1 372.5h0M384.9 365.4h0M329.1 372.6h0M359.2 273.2h0M284.4 297.3h0M347.6 267.5h0M377.7 331.9h0M289.8 319.7h0M318.4 237.7h0M295.2 354.4h0M297.7 233.3h0M373.9 308.4h0M331.7 249.6h0M372.6 310.3h0M359.6 373.3h0M286.5 289.7h0M390.3 344.5h0M315.4 239.4h0M323 245.4h0M379 338.9h0M362.1 370.8h0M359.5 250.1h0M399.8 353.4h0M305.3 374h0M390.9 349.7h0M360.8 279.5h0M288.9 308h0M325.3 380.8h0M387.3 376.7h0M385.8 333.6h0M353.7 376.6h0M283.6 255.5h0M293.7 354.7h0M283.4 244h0M293.9 343h0M320.2 238.8h0M299.9 377.8h0M334.2 372h0M347.7 266.6h0M286.3 290.1h0M365.2 278.9h0M294.8 337.6h0M365.1 292.8h0M304.2 235.9h0M284 238.7h0M281.9 264h0M384 371.6h0M380.9 319.4h0M366.9 373.2h0M392.2 369.4h0M331.5 243.8h0M312.5 239.5h0M320.1 371.6h0M326.8 372.3h0M384.8 352.4h0M372.7 323.1h0M396.8 375.6h0M284.8 272.8h0M356.5 373.4h0M373.9 313h0M330.2 370.5h0M308.7 370.9h0M398.6 328.7h0M354 281.7h0M310.6 236h0M345.1 370.9h0M304.5 233.3h0M377.1 374.6h0M284.8 235h0M384.1 373.2h0M360 371.9h0M382.7 352.3h0M350.4 371.3h0M379.5 331.7h0M324.5 373.4h0M382.2 352.9h0M306.9 377.2h0M394 372.7h0M392.4 376h0M362.1 371h0M376 304.1h0M298.1 232.4h0M392.6 365.3h0M363.4 302.1h0M369.7 306.9h0M355.7 376.6h0M348 265.3h0M380.1 348.7h0M317.4 377h0M323 374.5h0M305.9 374.4h0M364.8 297.8h0M309.6 374.8h0M403.6 375.9h0M282.8 256.3h0M383.8 329.8h0M351.8 248.6h0M298.7 374.5h0M320.7 372.1h0M298.7 364.5h0M302.8 234.6h0M340.4 250.8h0M294.4 362.5h0M366.4 306.3h0M280.9 274.1h0M389.8 322h0M381.6 324.3h0M405 336.1h0M374.2 371h0M358.5 371.1h0M313.3 374.2h0M314.7 233h0M359.3 371.1h0M384.5 374.1h0M304.4 371.8h0M394.9 372.2h0M323.5 243.3h0M374 309.9h0M302 373.2h0M363.5 292.1h0M305.3 235.7h0M365.8 297.1h0M292.6 324.2h0M362.2 300.5h0M340.1 375.3h0M302.7 377.2h0M327 373.1h0M392.1 375.9h0M358.4 258.4h0M359.1 289h0M361.5 284.5h0M317.8 372.2h0M280.2 248h0M282.4 238.8h0M375.7 327.2h0M317.1 374.8h0M386.9 367.2h0M330.7 371.7h0M355.1 283.4h0M312 234.7h0M291.1 232.7h0M359.6 291.2h0M304.8 377h0M290.8 323.9h0M347 256h0M353.9 252h0M288.9 303.2h0M382.7 281.7h0M323.8 233.6h0M332 252.4h0M347.9 370.8h0M342.9 262.4h0M381.2 367.9h0M311.2 234.2h0M325.7 248.7h0M337.6 373.4h0M332.2 372.5h0M393.5 380.1h0M353.3 280h0M342.9 371.1h0M324.3 235.4h0M330.5 377.5h0M395.4 373.1h0M428.6 351.1h0M378.1 347.9h0M376.7 344.7h0M356.4 379.4h0M391.9 371.1h0M294.2 339.9h0M302.5 377.5h0M331.9 250.9h0M354.8 371.3h0M293.4 333.5h0M336.4 371.8h0M284.1 236.9h0M290.6 334.9h0M361.3 297.1h0M376.4 279.2h0M371 316.7h0M299.7 232.9h0M374.7 373.7h0M299.3 365.1h0M363.9 275.6h0M314.4 371.2h0M310.5 371.5h0M322.3 372.9h0M300.4 233.5h0M285.4 231.3h0M384 372.5h0M388.1 335.5h0M292 319.7h0M373.1 374.5h0M376.3 295.1h0M329.3 247.6h0M321.4 374.8h0M297.6 232.6h0M311.1 370.9h0M402.6 338h0M388.9 351.6h0M349.5 372.9h0M371.5 319.9h0M363.8 301.1h0M373.8 321.6h0M381.3 315.8h0M379.7 344.2h0M283.5 263.8h0M340.3 243.5h0M374.3 317.5h0M340 260.9h0M304.1 232.4h0M305.3 236.8h0M302.7 374.4h0M308 236.2h0M290.8 335.8h0M295.9 350.1h0M291.9 350.7h0M300.2 371h0M282.7 300h0M394.6 337.7h0M311.2 235.4h0M286.7 296.8h0M363 370.8h0M362.4 288.8h0M353 370.9h0M344.7 375.1h0M342.4 258.4h0M285.8 285.7h0M295.9 350.9h0M349.9 266.1h0M322.7 371.6h0M381.4 375h0M381.8 358.8h0M299 379.6h0M387.1 373.4h0M291.6 325.1h0M381.1 281.3h0M368.8 269.7h0M340 378.9h0M299.7 375.8h0M395.1 373.3h0M285.9 279.6h0M303 380.3h0M424.4 350.3h0M383.1 338.6h0M337.3 375.2h0M374 304h0M367.7 372.4h0M314.1 372.9h0M342.4 253.3h0M390.8 372h0M363.1 295.4h0M296.6 355.4h0M339.3 254.6h0M309.7 379.8h0M297.8 359.2h0M294.3 339.2h0M301.4 377.1h0M321.2 372.7h0M330.5 371h0M291.4 231.9h0M415 297h0M352.1 279h0M300.2 372.3h0M449 364.1h0M348.9 371.9h0M281.9 246.3h0M299.7 372.4h0M297.7 355.2h0M380.4 373.9h0M396.6 361.6h0M358.6 263.3h0M337.7 255.8h0M340.7 370.8h0M329.3 250.8h0M291.6 231.2h0M348.5 370.6h0M340.4 378.1h0M352.5 280.2h0M325.4 377.2h0M377.6 258.1h0M366.1 306.6h0M286.4 316.6h0M316 234h0M372.9 284.2h0M318.6 240.7h0M338.9 377.8h0M402.2 367.5h0M380.5 361.3h0M314 375.1h0M384 363.4h0M369.8 281.3h0M340.2 374.7h0M369.2 276.2h0M305 376.1h0M377.7 305.9h0M364.4 374.1h0M365.7 372.6h0M376.5 373.3h0M339.5 259.6h0M284.4 266.3h0M311.1 375.1h0M357.6 285.9h0M349.3 273.2h0M350.2 274.9h0M324 376.2h0M299.4 371h0M407.4 301.7h0M343.9 370.6h0M317.2 242.8h0M384.5 367.6h0M307.8 234.4h0M358.4 373.4h0M283 267.3h0M374.5 375h0M305.6 370.7h0M315 373.7h0M330.3 373h0M355.9 286.6h0M333.9 373h0M391.2 357.5h0M367 300.8h0M366.6 378.7h0M297.5 354.5h0M372.8 317h0M384.4 366.4h0M390.8 362.6h0M308.3 374h0M318.3 240.4h0M393.7 370.9h0M291.3 316.5h0M387.5 316.5h0M342.2 257.4h0M296.6 346.9h0M374.1 372.3h0M374.3 316.1h0M291.8 323.1h0M383.6 357.8h0M287.7 304.4h0M375.5 287.4h0M341.8 263.4h0M367.7 282.9h0M393.3 311.5h0M364.7 375.8h0M326.2 247h0M284.8 277.1h0M374.4 328.9h0M391.5 341h0M330 232h0M288.3 232.8h0M371.6 321.8h0M309.4 235h0M288.8 339.5h0M375.6 313h0M382.4 335h0M382.9 363.4h0M284.6 274.7h0M310.4 238.7h0M376.5 295h0M369.6 380h0M359 371.1h0M340.4 262.1h0M345.6 268.4h0M395.1 373.2h0M308.9 370.9h0M373 300.2h0M393.6 370.7h0M386.8 325.1h0M395.4 381h0M385.3 360.8h0M362.7 295.5h0M380.2 354.4h0M368.2 299.8h0M325.3 246.6h0M387.8 338.6h0M321.9 376h0M336.1 371.9h0M370 370.9h0M394.3 375.7h0M351.4 276.7h0M344.5 372.5h0M391.7 370.7h0" stroke="#457B9D" stroke-width="2.7" stroke-linecap="round" fill="none" opacity="0.72"/>
<path d="M299 371.3h0M392.9 328.5h0M368.1 305.7h0M354.8 372.2h0M291.7 231.2h0M282.7 250h0M343.5 371h0M394.9 279.8h0M407.8 367.4h0M370.6 322.7h0M379.5 343.6h0M288.6 313.3h0M314.6 377.5h0M296.8 349.1h0M381.8 346.4h0M308.3 234.5h0M390.4 374.5h0M392.8 370.8h0M325.4 238.9h0M286.1 291.2h0M382.9 349.8h0M337.7 256h0M303.7 371.8h0M344.6 258.2h0M338 371.4h0M383 381h0M373 378h0M323.9 380.7h0M330 250h0M387.9 374.6h0M389.5 328.7h0M325.3 248.1h0M289.6 335.8h0M341.4 373.2h0M297.9 354.6h0M381.3 370.9h0M311.7 372.2h0M281.4 276.5h0M343.7 374.1h0M290.5 320.6h0M375.9 324.7h0M409.2 333.9h0M282.1 248.2h0M296.4 233h0M356.6 276h0M382.9 377.4h0M381.3 353.3h0M409.5 374.1h0M395.8 270.1h0M289.3 336.3h0M395.8 370.8h0M358 285.5h0M339.8 371h0M299.9 371.4h0M343.7 374.4h0M387.8 379.5h0M358.8 372.9h0M364.8 294.7h0M322.2 381h0M381.6 357h0M327.8 241.8h0M389.5 376.9h0M391.7 362.5h0M381.4 326h0M308.7 370.6h0M384.2 336.3h0M296.9 350.1h0M326.7 248.7h0M285.2 287.3h0M296.9 350.6h0M351.6 252.4h0M371.3 377.4h0M413.1 353.4h0M351.2 379.2h0M403.8 361.5h0M363.2 295.8h0M367.2 311.8h0M376.4 292.6h0M370.1 303.2h0M329.5 242.3h0M284 261.3h0M354.3 269.4h0M386.2 338.9h0M313.8 238.8h0M383.4 305h0M384.5 374.4h0M348.2 271.4h0M353.2 259.6h0M375.3 372h0M312.2 234.1h0M373 329.2h0M381.2 343.6h0M376.2 312.1h0M302.5 371.7h0M353.7 278.6h0M294.9 348.1h0M299.6 373.8h0M386.4 377.6h0M380.3 351h0M403 332.5h0M380.9 366.2h0M392.6 370.6h0M324.7 374.7h0M288.5 320.3h0M283.8 242.7h0M376.9 344.2h0M283 243.4h0M392.4 362h0M380.3 355.2h0M307.4 236.4h0M358.6 279.4h0M366.1 299.6h0M293.6 339h0M291.4 325.1h0M360.9 278h0M349.5 370.9h0M373.7 302.9h0M385.4 380.5h0M380.7 340.6h0M369.4 311.4h0M285.8 278.9h0M296 342.9h0M387.6 368.2h0M300.5 233.6h0M324.2 372h0M303.9 371.9h0M367.6 309.7h0M396.7 340.1h0M389.3 375.2h0M364.3 280.7h0M382.5 358h0M297.3 232.6h0M355.4 281.1h0M410.3 373.6h0M387.4 365.1h0M319.9 233.9h0M377.1 334.4h0M380.3 359.8h0M289.8 315.4h0M351 268.6h0M356.9 270h0M381.3 291h0M349.9 370.8h0M363.1 377.9h0M296.4 377.9h0M343.3 259.6h0M389.1 378.7h0M322.5 239.4h0M300.6 370.6h0M388.8 320.9h0M374.6 326.7h0M388.6 334.3h0M381.5 381h0M358.2 288.5h0M392.7 345.3h0M348.9 266.3h0M384.3 358h0M280.4 237.7h0M297.5 352h0M302.2 233.8h0M387 340h0M387.1 379.1h0M355.9 281.7h0M372.5 374.1h0M320 371h0M347 373.7h0M385.6 342.3h0M298.9 380.1h0M284.7 276.8h0M399.4 339.4h0M321.6 243.8h0M386.9 367.7h0M368.4 281.6h0M315.3 374.2h0M349.4 373.9h0M282.7 258.4h0M393.6 380.7h0M299.1 369.2h0M313.9 238.2h0M393 348.7h0M297.2 372.3h0M377.8 318.2h0M348.4 270.9h0M388.6 336.2h0M390.5 337h0M385.2 360.7h0M309.5 235.4h0M380.1 374.5h0M403 237.5h0M347.8 271.7h0M308.6 233h0M368.1 374.8h0M353.7 276.7h0M363.9 291.4h0M340.7 378h0M349.5 275.3h0M390.6 358.2h0M383.2 371.3h0M286.7 289.9h0M385.9 326.7h0M355.1 278.2h0M379.7 337h0M366.2 300.4h0M378.5 299.1h0M279.9 238.4h0M393.7 377.4h0M377.4 370.9h0M324.6 371.5h0M296.8 350.5h0M282 264.2h0M364.1 282.1h0M298.8 367.5h0M382.5 379.8h0M393.4 377.7h0M402.4 343.2h0M294.4 341.5h0M358.9 262.6h0M314.9 373.6h0M373 372h0M353.1 371.3h0M391.9 372.5h0M346.9 256h0M371.7 317.1h0M394.1 342.8h0M375.2 305.7h0M327.6 376.9h0M393.5 367.6h0M384.5 343.8h0M377 327h0M364 290.4h0M389.3 357.8h0M367.9 371.7h0M410.6 360.4h0M397.5 362.3h0M381.7 377.9h0M283.3 245.1h0M347.8 270.2h0M332 245.7h0M430.7 351.6h0M336.2 243.5h0M378 298.4h0M387.8 278.9h0M345.5 373.5h0M390.9 375.7h0M328.6 372.2h0M376.4 331.6h0M365.1 304.5h0M301.4 234.7h0M318.3 242.3h0M379.5 287.1h0M382.7 371.9h0M375.4 374.7h0M370.4 282.2h0M294.5 364.8h0M316.9 375.1h0M287.5 309.3h0M318 371.7h0M381.8 368.4h0M369 371.8h0M330.2 248h0M298.5 377.1h0M341.6 255.7h0M370.9 316.4h0M341.6 262.9h0M336.6 370.9h0M366.7 309.1h0M294.8 346.4h0M403.5 358.6h0M388.9 356.5h0M313.2 370.7h0M367.1 373.2h0M336.6 246.4h0M395.9 345.8h0M362 289.9h0M385.5 341.6h0M372.5 372.8h0M392.8 265.9h0M325.6 377.9h0M371 299.1h0M310.1 371.2h0M306.5 371.3h0M370.9 377.1h0M395.6 333.7h0M354.2 375h0M349.7 251h0M343.4 371.9h0M368.6 303.3h0M301.1 234.1h0M382.8 290.7h0M283.1 279h0M386.7 308h0M324.2 374.3h0M349.4 273h0M373.7 376.5h0M376.5 341.2h0M309.2 373.9h0M375.3 306.8h0M322.6 379.7h0M344.3 259.5h0M292.7 337h0M388.4 380.1h0M374.2 305h0M331.4 250.9h0M372.2 313.9h0M338.9 373.5h0M374.6 374.1h0M338.6 378.6h0M372.8 315.5h0M358.5 248.7h0M393.1 291.6h0M385.8 356.7h0M342.4 370.8h0M361.7 265.4h0M377.1 313.3h0M309.2 234.8h0M374.2 330.5h0M379 372.7h0M373.1 318.7h0M352.7 260.7h0M299.3 361.5h0M381.9 284h0M394.7 372h0M395.3 365.7h0M385.1 376.7h0M304.9 372.9h0M392.5 362.8h0M293.2 340.9h0M359.7 259.4h0M355.5 267.6h0M298.2 375.8h0M345.3 372h0M327.8 239.7h0M304.7 379.5h0M392.9 369.8h0M381.8 342.8h0M347.2 240.9h0M410.7 363.3h0M379.6 379.3h0M307.7 231.7h0M296.5 232.1h0M394.6 360.6h0M390.2 372.1h0M303.9 375.5h0M325.2 372.1h0M326 374.3h0M364.4 305.4h0M293.3 349.4h0M284.1 235.8h0M323.6 244.2h0M320.6 243.8h0M372.3 315.3h0M406.4 309.2h0M356.1 373h0M375.8 376.6h0M313.5 240.6h0M347.5 371.4h0M355 376.8h0M382.7 379.4h0M385.3 365.3h0M353.4 374.7h0M381.9 288.4h0M378.9 295.9h0M345.8 372.4h0M361.8 292.1h0M291.6 342.3h0M297.1 356.3h0M364.6 264h0M377.6 343h0M291.5 355.7h0M361.9 289.3h0M335.8 374h0M290.1 320.8h0M370.2 309.4h0M387.4 377.5h0M372 300.1h0M370.7 263.5h0M284.4 279.6h0M407 240.5h0M318.1 233.2h0M328 246.2h0M395 370.9h0M301.8 231.8h0M376.6 316.1h0M354.1 380.4h0M320.9 241.3h0M347.6 266.8h0M288.7 306.1h0M372.2 293h0M333.6 241.9h0M323.1 371.4h0M375.7 373.8h0M368.7 298h0M379 240h0M409.5 352.1h0M368.3 377.2h0M321.7 236h0M369.2 370.6h0M382.2 368.7h0M367.9 300.5h0M374.9 291.8h0M400.4 374.8h0M392.9 378.2h0M312 235.1h0M310.9 237.6h0M382 338.3h0M384.1 316.8h0M354.6 277h0M420.3 327.8h0M383.3 316.6h0M359.8 374.1h0M362.6 272h0M307.3 237.7h0M363.2 295.6h0M383 370.8h0M317.9 234.5h0M283.7 246.9h0M377.2 264.4h0M319.6 241.7h0M299.7 233.5h0M363.2 297h0M286.2 231.2h0M359.9 292.6h0M382.3 352.7h0M379.9 370.7h0M380.3 314.3h0M388.2 335.4h0M337.3 253.7h0M411.1 358.1h0M321.4 243.5h0M317.9 370.6h0M384.5 376.6h0M304.5 371h0M283.8 242.1h0M380.6 352h0M385.5 339.2h0M388.3 380.8h0M371.4 311.1h0M410 354.5h0M374.8 379.8h0M383 378.9h0M380.3 254.9h0M388.8 359.8h0M284.6 285.5h0M287.2 312.7h0M282.4 243.7h0M371.5 309.7h0M299.6 232h0M386.8 378.4h0M359.8 280.1h0M301.9 376.1h0M379.2 337.9h0M373.6 323.5h0M394.6 377.6h0M373.6 318.7h0M385.5 375.4h0M352.3 372.9h0M387.7 370.7h0M284.3 296.9h0M283.7 252h0M384.8 369.3h0M281.3 244.2h0M396.7 327.3h0M283.8 238.5h0M285.6 279.6h0M328.7 372.1h0M361.6 251.9h0M385.4 369.7h0M333.4 253h0M289 304.4h0M321.5 371h0M388.5 370.9h0M393 373.5h0M365.4 371h0M367.9 309.5h0M368.4 297.1h0M341.5 371.9h0M337.3 373.5h0M406.7 278.4h0M380.5 347h0M359.7 373.3h0M310.6 238.5h0M284.7 280.1h0M378.9 319.9h0M367.3 293.8h0M360.3 288.5h0M355.9 249h0M372.2 299.9h0M300.5 379.4h0M361 262.8h0M394.1 372.7h0M358.6 371h0M392.9 376.9h0M392.6 363.4h0M358.8 286.3h0M392.3 377.2h0M319.4 235.1h0M383 378.6h0M369.9 377.7h0M286.3 289.5h0M378.8 346.3h0M311.4 239.2h0M291.4 320.7h0M298.1 373.4h0M374.3 370.8h0M283.9 290.9h0M380.5 332.3h0M391.3 373.7h0M372.6 325.6h0M373.2 327.1h0M328.9 373.3h0M360.5 295h0M388.1 316.1h0M323.7 239.4h0M361.2 292h0M299.3 379.8h0M314.1 372.2h0M298.5 373.2h0M352.1 376.6h0M358.6 285.4h0M396.1 315h0M378.6 338.6h0M308.3 375.1h0M351.3 276h0M317.4 380h0M394.5 368.8h0M368.3 371.6h0M350.2 266.8h0M320.3 235.5h0M364.8 377.7h0M292.5 356.1h0M394.3 372.6h0M377.2 333.3h0M387.3 318.5h0M343.6 373.3h0M303.3 375.6h0M372.7 310.6h0M394.9 379.8h0M395.7 328.8h0M309.8 239h0M283.8 288h0M286.8 298.6h0M337.9 256.4h0M291.1 316.1h0M344.8 263.4h0M379.6 253.7h0M313.5 238.4h0M350.8 275.7h0M327.1 248.5h0M350.1 251.6h0M369.8 286.3h0M281.4 288.5h0M333.1 370.5h0M306.4 370.7h0M347.7 371.2h0M338.7 245h0M381.8 362h0M335.7 374.5h0M374.5 309.3h0M376.4 334.9h0M284 259.3h0M369.1 308.1h0M339.5 260h0M383.6 372h0M364.1 374.2h0M340.3 259.5h0M307.7 232.5h0M332.8 374.7h0M294.6 337.8h0M349.8 271.7h0M382.8 343.5h0M368.8 293.3h0M336.2 375.6h0M353.4 371.8h0M288.4 297.6h0M290.9 312.9h0M394.1 343.6h0M347.1 263.2h0M305.1 375.1h0M369 294.8h0M393.9 369.5h0M369.5 272.4h0M349.1 372h0M377.4 343.3h0M383.7 342.6h0M345.6 245h0M364.5 294.6h0M300.8 369.3h0M382 343.6h0M322.6 376.7h0M301.8 370.6h0M379.5 351.5h0M295.6 356.1h0M385.3 370.9h0M393.7 290.5h0M381.8 374.2h0M350.3 371.6h0M377.5 331.6h0M396.2 360.1h0M399.7 368h0M307.7 238h0M285.2 313.1h0M357.5 373.3h0M373.7 319.5h0M389.9 371.3h0M351.1 372.3h0M298 379.5h0M386.6 373h0M391.5 370.7h0M410.3 357.9h0M283.4 235.5h0M346.5 377h0M382.5 367.9h0M317.8 239.4h0M353 281.6h0M349.7 371h0M378.1 379.3h0M381 359.4h0M284.6 284.1h0M374.2 320.8h0M291 328.8h0M325.1 237.9h0M429.9 352.2h0M404.5 351.3h0M295.1 233.9h0M393.8 370.6h0M370 372.6h0M309.7 373h0M387.5 371.7h0M362.2 291.7h0M375.4 333.5h0M298.4 373.6h0M280.7 280.2h0M361.5 277.7h0M386.5 341.5h0M391.4 350.3h0M302 234.6h0M330.8 373.1h0M318 234.5h0M319 241.5h0M288.2 303.4h0M380.3 332.8h0M406.4 331.4h0M393 331.8h0M369.8 307.3h0M393.2 340.6h0M360 370.5h0M370.4 287.7h0M376.7 371.1h0M338.7 244.8h0M374.3 317.4h0M388.8 373.4h0M376.2 315.7h0M345.7 268.3h0M347.2 262.1h0M329.1 375.1h0M285.2 230.2h0M371.2 311.4h0M283.9 242.2h0M404.2 343.2h0M319.8 237.7h0M373 325.3h0M307.2 370.7h0M309.1 231.9h0M361.2 292.2h0M375.1 374.3h0M412.2 327.2h0M341.6 263.5h0M413.6 372.2h0M389.6 351.9h0M405.3 371h0M291.4 335h0M340.7 377.9h0M286.3 288.7h0M370.3 293.5h0M318.2 373.2h0M396.4 302.9h0M383.7 282.2h0M366.4 308.1h0M283.2 257.9h0M291.1 317.2h0M349.2 257.2h0M367.2 306.5h0M350.6 254.9h0M299.2 372.3h0M381.1 380.1h0M315.5 375.2h0M381.7 326.6h0M358.8 279.5h0M293.3 331.1h0M296.3 352.8h0M297.2 364.3h0M383.9 380.9h0M290.5 338.9h0M317.1 243.2h0M383.8 344.5h0M365.6 376.6h0M370.5 305h0M378.7 347.2h0M300.5 231h0M295.1 343.4h0M377.6 335.2h0M378.8 329.3h0M374 321.6h0M375 335.5h0M384.2 372.1h0M367.5 371.3h0M304.9 373h0M354.1 279.8h0M369.3 374.3h0M379 377.2h0M367.9 307.9h0M293.1 365h0M372.5 317.1h0M391.1 379.5h0M356.8 287.9h0M391.2 366h0M355.9 247.6h0M354.4 278h0M384.4 379.8h0M391.1 280.9h0M295.8 371.2h0M370.3 379.5h0M338.2 370.7h0M297.2 233.7h0M299.8 374.7h0M352.3 371h0M347.4 373.7h0M421.7 365.9h0M381.5 372.9h0M375.4 378.6h0M378 348.9h0M380.2 343.7h0M319.1 371.3h0M382.1 315.6h0M386.4 327.4h0M386.5 362.4h0M364 281.6h0M314.6 241.1h0M356.9 283.6h0M312.9 372.3h0M344 370.7h0M333.1 378.9h0M327.3 244.1h0M362.6 298.3h0M305.4 375.2h0M345.1 256.9h0M368.4 309.6h0M311.6 371.3h0M334.6 250.6h0M294.3 358.8h0M352.9 372h0M389.3 367.3h0M401.4 372.7h0M349.1 275.3h0M357 269.4h0M310.2 233.5h0M298.8 232.3h0M298.3 377.6h0M393.3 377.2h0M382.3 338.8h0M363.3 296.3h0M378.9 353.8h0M375.5 332.5h0M319.4 377.1h0M386 312.1h0M383.5 346.2h0M394.1 338.4h0M365.8 293.8h0M322.9 241.9h0M379.1 372.9h0M292.1 339.4h0M357.9 371.5h0M374.7 322h0M296.1 230.4h0M312.1 231.4h0M375.1 378.3h0M331.4 374.2h0M376.1 323.9h0M374.8 371.8h0M373.4 309h0M383.3 375.6h0M365.3 303.1h0M382.7 355.1h0M372.7 271.1h0M335.3 371.2h0M375 331.1h0M281.6 257.4h0M349.5 274.9h0M289.4 231.8h0M390.9 374.8h0M356 373.3h0M371 233.5h0M385.8 316.7h0M368.6 371.7h0M306.2 380.2h0M403.9 358.2h0M347.3 372.7h0M394.2 379.4h0M377 318.7h0M360.8 289.6h0M360.3 294.3h0M357.8 285.8h0M382.1 323.5h0M346 375.8h0M328.4 243.9h0M381.4 371h0M384.1 376h0M368.9 308.7h0M361.1 296.2h0M283.5 239.9h0M385 372.2h0M312.4 239.5h0M319 235.8h0M314.1 233.8h0M375.8 315.5h0M372.9 302.4h0M317.6 374.9h0M373.8 296.8h0M366.3 309.3h0M380.5 344.5h0M347.6 268h0M372.8 291.3h0M287.9 304.8h0M369.5 318.5h0M379.7 351.5h0M287 296h0M309.5 233.3h0M395.3 370.6h0M311.1 235.5h0M285.7 300h0M287.1 331.2h0M370.4 316.6h0M385 371.4h0M298.8 234h0M285.5 306.6h0M379.4 283.5h0M379.7 317.4h0M312.6 374.3h0M284.7 234.3h0M310.4 372.1h0M371 288.2h0M314.6 373.7h0M379.5 328.1h0M340.7 379.7h0M324.1 375.5h0M389.5 335.8h0M360.3 370.8h0M383.8 363h0M328.8 243.8h0M388.1 310.3h0M379.2 351h0M386.4 307.7h0M367.1 261.6h0M380.3 335.4h0M375 295h0M292.6 345.1h0M327.4 380.2h0M373.8 325.8h0M376.2 274h0M351.4 263.9h0M373.2 281.5h0M339 372h0M378.8 344.9h0M299.5 375.8h0" stroke="#457B9D" stroke-width="2.7" stroke-linecap="round" fill="none" opacity="0.72"/>
<path d="M284.2 282.2h0M326.8 370.6h0M286.5 309.8h0M300.7 374h0M382.1 315.3h0M356.2 261.7h0M383.4 341h0M363.6 275.1h0M311.6 375.4h0M397 372.4h0M289.8 231.7h0M342.3 249.1h0M323.1 374.6h0M388.8 367h0M398.8 347.3h0M370.2 311.7h0M283.3 248.6h0M283.3 240.4h0M374.6 269.5h0M343.3 372.6h0M371.9 271.6h0M405.4 332.2h0M316.5 371.6h0M301.2 372.1h0M358.8 373.4h0M337.9 247.3h0M327.4 371.4h0M289.5 318.1h0M294.5 334.7h0M369.1 274.7h0M294.7 356.6h0M339 256.2h0M301.5 378.4h0M348.8 272.8h0M365.1 307h0M325.7 376.9h0M390.8 338.9h0M350 375.5h0M289.9 315.3h0M384.3 371.3h0M323.9 245.7h0M384.2 368.8h0M335 373.9h0M308.4 370.6h0M379.9 358.3h0M392.2 300.9h0M360 374.2h0M368.9 267.4h0M391.7 363h0M373.9 322.7h0M376.6 312.1h0M285.3 275.3h0M400.4 359.3h0M372.2 371.1h0M317.3 370.6h0M281.7 268.5h0M347.2 260h0M362.6 296.5h0M297.2 373.6h0M381.6 342.1h0M285.5 286.8h0M327.6 238.2h0M373.3 324.3h0M310.5 237.7h0M383.5 327.5h0M404.4 343.8h0M309.6 233.3h0M345.6 372.1h0M356.3 278.4h0M342.9 261.4h0M372.9 371.9h0M297.1 370.5h0M285.7 299.1h0M377.3 311.2h0M335.6 254.4h0M362.3 294h0M297.1 377.6h0M314.5 233.3h0M357.4 265.9h0M319 235.8h0M292.6 336.9h0M298.1 372.3h0M315.8 373.6h0M348.5 264.9h0M297.4 351.2h0M308.2 370.7h0M382.5 370.4h0M384.4 338.7h0M392.3 356.1h0M297.6 372.7h0M370.1 320.2h0M390.8 318.8h0M375.1 333.4h0M345.2 374.2h0M332.2 373.4h0M345.7 250.1h0M357.2 257h0M299.3 371.3h0M296.2 233.2h0M367.5 302.7h0M356.9 370.7h0M314.5 370.9h0M368.3 294.2h0M369 272.1h0M328 241.4h0M373.4 332h0M283.6 258.1h0M288.7 314.1h0M353.3 272.4h0M282.5 244.5h0M284.7 272.4h0M299.1 375.9h0M332.6 370.6h0M349.6 371.1h0M322.5 377.6h0M283.5 248.8h0M336 379.1h0M328.1 249.5h0M351.3 276.2h0M343.1 376.7h0M299.6 231.9h0M310.6 374.5h0M360 286h0M392.9 370.9h0M358.6 270.5h0M393.5 335.5h0M325.9 373.5h0M385.1 312.7h0M386.1 362.5h0M348.8 262.7h0M299.4 367.7h0M291.1 316.7h0M385.1 327.1h0M291.4 357.4h0M384.7 371.4h0M367.6 285.4h0M363.8 370.9h0M363.6 295.4h0M318.2 236.6h0M398.7 381h0M381.4 381h0M305.7 236.5h0M292.2 233.1h0M367 297.5h0M395.7 331h0M297.4 371.1h0M307.9 235.2h0M331.6 377.1h0M392.1 359.5h0M300.6 375.8h0M326.3 241h0M392.4 355.5h0M345.4 256.9h0M366 376.4h0M299.2 368.6h0M386.2 365.1h0M302.1 378.4h0M326.7 243.6h0M387 376.3h0M383.4 348.1h0M361.6 298.3h0M283.6 263.2h0M334.1 375.3h0M367.3 299.3h0M380.8 292.9h0M356.4 266.1h0M309.7 232.1h0M320.5 372h0M283.4 266.3h0M303.5 371.4h0M317.7 376.4h0M378.9 374.7h0M446.4 303.6h0M397 369h0M286.1 285.7h0M390.3 341.1h0M377.6 327.4h0M305.6 234h0M287.3 305.7h0M371.9 291h0M328.5 240.2h0M282.1 255.9h0M359.2 287.1h0M317.9 240.9h0M294.9 339.4h0M282.5 261.5h0M315.6 240.8h0M295.6 374.2h0M363.7 373.3h0M283.1 258.1h0M286.2 304.2h0M345.7 372.6h0M339.4 373.9h0M372 313.8h0M353.8 276.8h0M309.6 237.8h0M381.6 325.8h0M386.5 335.2h0M366.5 371.7h0M384.5 352.2h0M335.9 253.6h0M314 239.8h0M302.8 374.4h0M367.5 377h0M340.9 373.9h0M285.1 288.1h0M340.5 373.3h0M383.5 375.8h0M383.3 363.9h0M289.6 308.7h0M384 372.4h0M291.8 321.9h0M370.2 320.1h0M370.5 374.7h0M345.3 256.9h0M345 265.6h0M392.1 350.6h0M291.4 324.8h0M404.8 318.1h0M286.5 316.9h0M380.8 373.3h0M283.1 267h0M394.9 377.2h0M390.8 370.9h0M388 380.1h0M343.9 372.2h0M381 364.4h0M338.7 259.3h0M294.2 233.3h0M280.6 261.6h0M370.8 320.3h0M330.1 372.5h0M302.2 233.8h0M382.3 372h0M361.5 372.2h0M292.1 333.4h0M367 306.2h0M386.9 380.4h0M412.5 368.6h0M315.4 375.8h0M317.3 370.6h0M319.9 375h0M349 376.5h0M363.3 279.6h0M349.8 374.4h0M342.5 370.6h0M377.6 331.1h0M284.5 234.2h0M379.5 357.4h0M399 319.3h0M394.7 343.2h0M326.1 370.9h0M387.7 340.9h0M316.6 374.4h0M350 373.4h0M413.1 372h0M384.9 334.1h0M362.3 300.1h0M390.9 299.5h0M356.4 288.3h0M306 375.6h0M368.2 312.6h0M301.3 232.8h0M364.2 283.8h0M335.8 246.3h0M295 345.4h0M371.7 303.2h0M376.9 331.7h0M371.4 308.7h0M382.4 359.2h0M371.6 378.6h0M357.3 376.4h0M350.8 372.3h0M306.5 374.1h0M289 232.2h0M386.1 380.3h0M290.2 308.6h0M341.1 262.6h0M347.7 255.2h0M303.8 372.1h0M315 233.8h0M330.2 375.9h0M372.7 373.4h0M379.3 352.5h0M394.5 343.3h0M318 371.5h0M376 334.4h0M395.6 373.2h0M371.3 323.8h0M358.6 375.1h0M330.1 243.3h0M337 257.1h0M379.7 372.6h0M323 234.7h0M354.6 284.8h0M406.1 317.4h0M363.8 271.8h0M375 326.1h0M383 371h0M331.6 252.8h0M355.3 370.8h0M325.7 242.2h0M287.5 231.1h0M367.6 267.8h0M323.2 379.7h0M387.6 375.6h0M382.2 355.4h0M319.6 242.9h0M289.9 307.8h0M396.6 295.6h0M332 370.9h0M285.8 287.2h0M363.9 301.7h0M389.5 373.9h0M384.1 354.1h0M380 341.4h0M376.8 319.6h0M302.5 371.1h0M329.5 247.6h0M382.9 351.8h0M369.3 315.1h0M345.3 380.6h0M364.7 287.5h0M317.3 233.7h0M394.1 340.4h0M348.3 263.5h0M353 261.2h0M283.7 271.2h0M381.3 369.6h0M403.7 366.1h0M289.8 349.6h0M320.9 240.3h0M289.6 232.6h0M381.5 376h0M287.9 232.4h0M281.5 252.5h0M359.4 286.9h0M356.9 285.6h0M319.7 242.7h0M357.4 287.5h0M385.7 357.1h0M360.1 373.3h0M414.5 243.5h0M320 241.7h0M398.3 361.4h0M387.5 354h0M346.8 372.4h0M309.4 232.7h0M343.3 377.7h0M406.5 380.7h0M363.5 376.4h0M303.9 370.7h0M375.3 298h0M395.2 374.4h0M300.4 366.6h0M328.3 371.9h0M380.3 351.1h0M383.1 372.2h0M289.9 309.7h0M345.6 268.7h0M284.8 279.9h0M332.5 251.6h0M282.5 259.6h0M398.2 378.3h0M281.8 270.3h0M382.6 361.2h0M391 329.4h0M300.5 373.3h0M366 304h0M284.7 275.6h0M337.9 372.7h0M332 376.8h0M383.8 372.7h0M380.7 343.5h0M380 342.9h0M301.3 233.4h0M343.7 265.6h0M343.9 240.8h0M332.4 243.6h0M297.4 355h0M376.4 322.9h0M335.2 372.6h0M369 310.9h0M315.3 370.8h0M374.6 325.6h0M331.2 373.4h0M365.5 370.9h0M379.6 336.3h0M285.9 233.9h0M389.5 377.6h0M362.6 279h0M378.8 373.6h0M298.5 360.4h0M383.9 362h0M374.1 313.6h0M351.4 272.6h0M309.7 237.4h0M283.7 258.6h0M297.1 374.1h0M294.3 337.1h0M306.2 234.1h0M371.3 311.7h0M367 304.5h0M289.8 305.6h0M375.2 323.4h0M420.3 329.8h0M320.2 380.1h0M327 374.7h0M322.7 234.8h0M351.2 373.8h0M384.7 370.9h0M379.3 340.6h0M331 375.3h0M292.4 321.5h0M301 369.6h0M306.4 232h0M418.7 358.1h0M382 292.2h0M350.6 370.7h0M380.7 364.5h0M327.2 372.8h0M280.5 259.6h0M327.1 377.2h0M332.6 254.3h0M309.2 373.7h0M374.5 272.7h0M361.5 284.1h0M388.2 329.9h0M298.1 359.1h0M312.6 370.7h0M357.6 374.1h0M386.5 327.6h0M385.2 320.7h0M358.9 291.7h0M385.4 364.2h0M283.9 238.5h0M358 374.1h0M401.6 330.7h0M282.8 270.2h0M284.1 258.6h0M284.8 277.6h0M344 261.7h0M392.8 369.1h0M391.9 380.8h0M314.1 376.5h0M284.3 294h0M372.7 329.3h0M363.2 288.1h0M354 279.1h0M291.3 320.2h0M381.9 301.1h0M339.1 371.2h0M300.2 371h0M370.5 321.3h0M343.4 264.9h0M326.5 244.6h0M312.8 239.7h0M416.6 324.1h0M344.2 262.4h0M294.4 338h0M299.3 364.1h0M314.4 377.7h0M358 274.8h0M313.9 370.8h0M390.2 375.5h0M311.7 375.2h0M377.5 340.2h0M297.5 352h0M360.8 273.3h0M383.7 352.4h0M302.8 371.1h0M358.2 265h0M378.5 346.8h0M307.8 370.7h0M344.7 247.4h0M378.5 334.2h0M293.5 365.6h0M384.8 358.9h0M315.8 376.3h0M379.3 376.9h0M367.4 372.3h0M301.8 379.6h0M317.2 380.8h0M357.8 372.5h0M383 289h0M373.3 330.6h0M392.4 381h0M365.1 306.8h0M336.7 255.7h0M392.6 374.9h0M393.4 325.6h0M370.7 371.8h0M302 374.4h0M378.2 343.6h0M309.8 235.6h0M349.7 255.8h0M364.8 285.1h0M292.9 328.4h0M368.4 286h0M371 302.9h0M381.9 333.1h0M320.9 372.3h0M372.9 375.2h0M303.6 232.4h0M329.3 243h0M362.6 299.8h0M359.4 372.4h0M285.4 285h0M382.2 346.9h0M389.8 373.6h0M365 378.6h0M356.7 283.2h0M364.6 277.6h0M368.5 314.5h0M392.2 364h0M350.2 265h0M360.9 372.9h0M380.3 337.6h0M384 374h0M358.7 290.6h0M317.4 371h0M298 362.6h0M389.3 363.7h0M311.6 370.6h0M359.2 283.5h0M386.8 307.8h0M282.5 262.9h0M353.7 250.5h0M372.5 377.5h0M394 372.5h0M367.8 371.3h0M309.3 373.2h0M434.1 319h0M341.7 370.7h0M367.2 373.5h0M372.9 370.8h0M385 374.9h0M371.8 378.2h0M368.2 311.1h0M322.2 376.9h0M389.8 371.6h0M332.2 373.9h0M381.4 377.2h0M372.1 315.3h0M284.3 269.3h0M389.9 375.5h0M352.6 374h0M349.1 372.3h0M385.9 346.5h0M384.4 375.7h0M368.4 271.9h0M368.8 302.6h0M300.4 377.7h0M347.9 264.5h0M299.3 231.8h0M359.2 370.9h0M388.5 331.6h0M392.9 317.8h0M321.7 371.4h0M354.7 284.9h0M396.1 380.1h0M377.6 297.5h0M380.3 349.7h0M404.1 320.8h0M308.4 371.1h0M375.3 317.4h0M354.5 262.6h0M357.3 282.6h0M304.6 232.6h0M376.2 371.7h0M300.3 377.6h0M388.2 351.6h0M301.2 380.1h0M338 372.3h0M370.9 288.1h0M350.9 276.1h0M391.4 326.3h0M349.2 258.6h0M372.3 376.3h0M290.6 312.3h0M395.2 372.6h0M379.1 377.7h0M303.4 375.5h0M339.9 378.1h0M383.1 309.1h0M382.9 373.6h0M305.9 374.2h0M358.8 279.1h0M390.2 360.1h0M290.5 310.4h0M377.5 336.1h0M296.2 377.3h0M330.3 239.7h0M366.5 373h0M333.8 376h0M341 260.6h0M281 262.1h0M342.5 375.1h0M334.2 247.4h0M293.7 342.1h0M337.6 371.3h0M398.6 358.8h0M312.6 232.6h0M375.5 301.8h0M320.8 372.6h0M285 272h0M386.7 319.5h0M296.3 360.2h0M292.1 320h0M341.8 258.5h0M376.5 281.6h0M395.6 374.9h0M349.2 371.4h0M412.1 362.7h0M349.2 371.4h0M383.3 379.1h0M359.7 286.5h0M377.3 313.8h0M295.9 353.2h0M294.4 334.3h0M331 373.5h0M341 262.6h0M344.1 266.4h0M381.2 377.5h0M310.4 375.6h0M288.8 325.2h0M368.6 303.7h0M321.1 233.3h0M390.1 370.9h0M352.6 272.7h0M384.2 362.9h0M344.4 370.8h0M327.1 371.4h0M354.6 283.8h0M349.1 257.8h0M285 277.6h0M356.7 260.5h0M377.3 344.9h0M382.4 375.6h0M378.5 292.4h0M394.6 322.3h0M344.5 266.1h0M375.6 335.5h0M359.9 371.7h0M282.3 263.3h0M321.7 243.3h0M316.7 242.3h0M374.9 313.6h0M383.6 372.4h0M383.5 350.8h0M398.5 360.7h0M389.6 372.3h0M366.1 308.4h0M283 246.8h0M391.2 371.2h0M298.5 374.4h0M376.1 292.9h0M361.9 375.5h0M366.5 301.6h0M357 374.1h0M397.5 361.5h0M380.1 344.3h0M280.3 269.6h0M341.5 260.9h0M396.8 372.7h0M394.6 374.2h0M293.3 334.4h0M354.8 278h0M349.8 271.1h0M383.3 363.7h0M382.2 368.4h0M378.9 331.2h0M283.7 284.7h0M406 290.9h0M347.7 372.2h0M355.4 286.1h0M385.4 368.1h0M366.3 293.2h0M349 372.5h0M284.3 273.4h0M311.8 232.5h0M413 242h0M369.3 374.6h0M325.5 245.3h0M317.5 237.7h0M282.7 249.6h0M361.4 294.7h0M394.7 371.2h0M385.9 314.8h0M329.5 248h0M393.7 338.1h0M289.8 324.3h0M360.8 265.6h0M380.3 351.7h0M305.6 233.2h0M347.3 268.2h0M386.5 350.6h0M396.9 315.9h0M287.4 291.8h0M382.3 356.1h0M314.5 371h0M393.1 380.2h0M378 318.4h0M358.3 372.6h0M381 346.4h0M319.8 376.3h0M317.8 238.6h0M371.4 373.6h0M375.4 301.8h0M283.3 289.7h0M391.2 372.1h0M371.3 370.5h0M369.6 299.1h0M377.5 345.1h0M308.9 371.3h0M370.3 375.2h0M291.7 325.4h0M355.6 284h0M389.6 379.1h0M374.8 306.5h0M301.8 233.8h0M328.4 371.3h0M333.7 372.5h0M284.4 266.9h0M305.5 379.9h0M349 378.2h0M377.9 276.4h0M376.3 371.4h0M342.6 265.1h0M375.4 337.1h0M323 236.3h0M347.6 266h0M284.3 277h0M373.5 310.7h0M382.2 358.7h0M308.2 377h0M346.1 378.1h0M310.7 232h0M393.1 374h0M388.2 377.9h0M368.7 308h0M344.1 378.2h0M364.2 380.5h0M346.4 375.3h0M364.9 304.5h0M353.4 278.9h0M323.6 373.8h0M283.8 260h0M347.5 257.5h0M331.2 370.8h0M360.6 379.5h0M365.8 373.1h0M379.2 295.4h0M382.6 336.9h0M370.2 286.3h0M359.6 293.4h0M324.9 374.1h0M363.8 372.3h0M288.8 301.6h0M346.9 264.2h0M338.7 257.2h0M340.2 375.7h0M315.7 372.2h0M403.4 360.7h0M374.5 313h0M349 263.9h0M370.6 376.9h0M390.9 355.6h0M379.5 320.5h0M323 243.1h0M283.7 246.1h0M360.4 292.6h0M358.4 282.5h0M282.2 243.9h0M361.9 298.6h0M371 378.7h0M359.9 284.7h0M290.2 325.2h0M378.8 346.3h0M383.5 327h0M379.7 332.4h0M354.7 282.9h0M308.1 372h0M324 372.5h0M352.3 376.3h0M332.7 372.2h0M390.1 339.2h0M336.2 250.9h0M384.7 355.2h0M317.9 376h0M319.3 233.4h0M363 284.7h0M372.8 370.8h0M344.1 263.9h0M317.6 375.1h0M377.6 333.4h0M293 333.8h0M390.7 356h0M395 319.7h0M346.6 269h0M290.9 231.3h0M363.9 375.4h0M364.6 304.2h0M375.6 372.2h0M305.8 379.3h0M356 266.6h0M282.4 266.6h0M286.2 300.9h0M380.5 337.2h0M382.8 339.8h0M403.1 354h0M286 280.3h0M311.4 232.8h0M332.3 253.1h0M356.3 372.2h0M283 281.1h0M331.7 251.5h0M375.5 333.4h0M351.2 277.6h0M364.9 289.1h0M335.5 256.9h0M281.7 268.5h0M383.5 366.4h0M362 270.7h0M282 254.9h0M365.5 375.8h0M289.1 341.2h0M325.8 370.6h0M359.2 379.2h0M382.9 374.3h0M293.2 326.9h0M377.9 297.4h0M377.7 292.3h0M285.9 283.9h0M298.4 232.5h0M347.5 370.6h0M301.7 375.9h0M284.9 234.5h0M386.3 371h0M366.7 307.1h0M383.5 367.2h0M344.2 247.1h0M326.9 248.4h0M374.3 324.7h0M319.2 243h0M325.8 372.4h0M361.8 275.9h0M358.6 289.1h0M342.4 370.6h0M316.7 374.5h0M387.1 361h0M287.6 293.9h0M299 232.5h0M295.9 356h0M377.5 318.1h0M381.7 363.9h0M351.9 276h0M357.7 374.8h0M294.3 337.9h0M282.8 242.3h0M350.5 276.9h0M290.6 326.5h0M369 263.3h0M296 345.9h0" stroke="#457B9D" stroke-width="2.7" stroke-linecap="round" fill="none" opacity="0.72"/>
<path d="M351.2 374.2h0M318.5 241.6h0M283.4 253h0M365.1 286.7h0M369 250.1h0M395.9 378.7h0M298 362.5h0M324.3 374.7h0M314.6 237.4h0M305.5 236.2h0M310.9 374.1h0M305.3 377.8h0M342.4 252h0M360.3 285.7h0M303.2 370.7h0M290.1 315.8h0M372.9 274.4h0M374 329.1h0M357.3 281.2h0M349 375.4h0M383.7 321.8h0M398.9 359.9h0M389.9 323.7h0M283.6 236.5h0M384.3 346.7h0M284.3 268.3h0M380.8 311.2h0M339.7 378.4h0M373.3 315.9h0M292.1 334.3h0M294.5 340.4h0M344.6 266.8h0M334.6 372h0M381.3 374.8h0M377.7 308.9h0M292.8 334.1h0M375.1 325.4h0M371.4 321.1h0M381 314.7h0M372.2 371.3h0M318.9 233.9h0M319.7 370.6h0M330.1 251.1h0M319.1 370.9h0M382.1 339.4h0M348.8 253.8h0M361.5 373.4h0M281.4 245.7h0M377.8 340.8h0M288 306.9h0M373.1 319.5h0M365.5 296.9h0M363 375.9h0M310.4 238.7h0M295.1 350.2h0M324.9 233.4h0M385.9 330.4h0M287.7 230.7h0M368.1 311.3h0M288.7 299h0M284.9 273.3h0M307.4 233.9h0M381.9 368.8h0M295.1 353.2h0M346.7 269.5h0M379.6 323.5h0M293.3 355.2h0M361.1 297h0M397.7 338.7h0M297.6 372.4h0M377.5 337.2h0M375.8 371.7h0M282.5 261.2h0M363.1 286h0M344.8 372.6h0M358.6 289.3h0M378.6 333.4h0M306.4 232.7h0M396.3 350.3h0M377.9 341.4h0M306.1 371.2h0M372.3 317.5h0M313.4 238.7h0M368 288.1h0M384.1 374.2h0M363.2 296.3h0M381.7 372.2h0M382.7 321h0M388.8 351.1h0M327.5 248.6h0M378.7 331.5h0M391.1 347.8h0M310.3 238.1h0M348.3 262.5h0M291.4 329.6h0M280.6 255.3h0M350.9 371.4h0M292.8 345.5h0M353 266.2h0M286.7 291.3h0M366.6 370.7h0M282.5 251.3h0M369.4 378.6h0M346 378.9h0M386.1 372.9h0M341.8 260.5h0M384 359h0M392.9 313.4h0M346.3 267.7h0M389.2 378.5h0M293.7 332.7h0M384.4 376.3h0M284.2 284.8h0M379.7 357.5h0M299.5 375.9h0M355 375.5h0M305 233.9h0M370.7 373.2h0M359.9 284.4h0M383 332h0M291.1 324.5h0M370.5 318.7h0M301.6 378.4h0M338 372.8h0M343.9 266h0M357.2 375.3h0M342.2 262.2h0M391.2 255.7h0M384.6 377h0M352.8 371.1h0M351.1 266h0M345 246h0M329.9 242.9h0M304.9 235.3h0M306.1 232.9h0M326.3 246.7h0M346.5 267.7h0M286.5 232.4h0M382.6 368.5h0M289.5 310.7h0M288.3 231.1h0M300.8 232.3h0M292.4 324.8h0M383 357.4h0M383 377.9h0M290.2 232.9h0M301.6 232.5h0M378.4 330.6h0M338.8 260.1h0M366.1 303.5h0M280.7 243.4h0M316.2 372.9h0M361.6 277.8h0M379.2 374.9h0M395.4 374h0M337.3 250.3h0M344.5 371h0M284.9 285.2h0M373.1 373.5h0M360.9 289.5h0M340.4 372.8h0M388.5 380.3h0M379.2 375.2h0M293.3 374.1h0M381.2 310.2h0M395.6 368.8h0M360.9 296.7h0M346.9 373.3h0M303.2 232.6h0M288.9 312.4h0M388.5 373.7h0M333.8 371h0M392.8 364.2h0M294.1 336.6h0M286.5 291.6h0M302.5 371.7h0M388.8 299h0M325.6 374.2h0M363 373.1h0M301 371.7h0M421 318h0M341 372.1h0M349.2 268.4h0M364.1 289.5h0M391 367.5h0M319.4 371.6h0M306.1 374.8h0M389.7 372.1h0M352.8 280.6h0M335.1 372.5h0M350.9 375.3h0M351.3 271.6h0M390 371.1h0M386.2 348.9h0M361.7 278.3h0M330.9 246.6h0M331.4 370.7h0M367.8 371.4h0M305.9 373.6h0M289.1 329.2h0M306 236.1h0M331.8 374.4h0M389.4 341.7h0M381.1 354h0M279.8 272.4h0M342.8 264.3h0M383.6 376.4h0M386.3 298.5h0M351.8 371.7h0M334.9 253.5h0M282.8 272.9h0M285.9 230.8h0M365.1 282.1h0M343.4 260.3h0M282.8 274.4h0M349.3 373.6h0M393.3 374.2h0M305.1 374h0M342 371.8h0M291.6 324.4h0M295.3 356.6h0M287 298.9h0M357 372.4h0M385.2 366.9h0M392.6 376.4h0M340.4 254.9h0M379 347.8h0M337.4 247.6h0M369.9 372.5h0M385.2 355.2h0M357.8 283.7h0M285 279.2h0M318.9 371.1h0M357.6 374.9h0M355.5 375.7h0M284.1 266.4h0M282.8 254.9h0M352.1 373.8h0M352.8 278.4h0M283.9 289.8h0M324.8 373.3h0M287.5 313.3h0M397.6 357h0M350.3 268.4h0M383.7 374.6h0M318.3 376.4h0M299 373.5h0M304.4 372.5h0M281.7 289.7h0M403.3 371.1h0M371.5 317.3h0M404.5 359.5h0M371.9 309.6h0M284.9 289.6h0M353.9 273.7h0M351 278.4h0M333 370.5h0M304.2 377h0M287.6 231.1h0M378.9 354.3h0M321.2 371.6h0M372.7 316.2h0M290.1 351.5h0M384 370.6h0M304.3 374.9h0M320.9 375.2h0M370.2 306.6h0M387.5 349.5h0M299 366h0M359.7 292.6h0M331.9 376.9h0M385.1 361.8h0M383.8 381h0M321.9 372.2h0M376.2 339.8h0M374 372.5h0M291.3 231.8h0M363.4 281.2h0M370.9 293.4h0M356.9 264h0M299.3 363.7h0M345.2 254.9h0M354.3 372.9h0M387.4 316.2h0M368.5 374.3h0M346.9 268.9h0M284.8 278.5h0M356.2 284.5h0M378.3 347.6h0M388.6 317.9h0M347 375.7h0M326.9 380.7h0M376.4 316.8h0M389.3 378.4h0M388.9 350.2h0M373.5 331.9h0M380.1 372.7h0M381.7 290h0M369.4 371.3h0M285.6 233.8h0M382.2 374.4h0M342.1 262.6h0M299.8 232.6h0M380.4 334.8h0M322.3 376.7h0M345.6 264.8h0M311.4 374.3h0M364.3 280.5h0M290.2 308h0M448 354h0M292.3 339.5h0M328.3 249.3h0M374.3 308.4h0M373 322h0M388.7 315.6h0M361.5 293.3h0M280.3 268.5h0M384.4 345.4h0M301.6 379.5h0M288.7 301.7h0M309.7 376h0M390.6 330.2h0M386.4 366.9h0M382.3 341.3h0M367.5 282h0M351.6 371.8h0M286.5 285.8h0M359.6 376.8h0M298.4 360h0M367.7 308.1h0M369.9 258h0M335.4 253.8h0M284.2 271.7h0M397.5 309.9h0M388.8 338h0M384.1 361.4h0M402.8 369.8h0M288.8 302.9h0M376.5 331.2h0M282.7 250.4h0M356.7 373.4h0M292.6 335.9h0M304.8 370.9h0M364.5 377.9h0M297.7 233.3h0M338.3 240.4h0M383.3 356.1h0M315.9 371h0M336.1 237h0M392.5 378.3h0M364.6 371.4h0M375.5 269h0M364.7 373h0M295.3 361.1h0M395.5 380.6h0M294.8 230.9h0M294.8 335.7h0M381.8 364.1h0M340.8 370.9h0M381.8 359.8h0M369.4 291.5h0M389.8 337h0M370.4 372.1h0M334.7 370.8h0M370.6 313.9h0M387.3 371.6h0M393 309.4h0M284 265.4h0M298.9 374.4h0M309.9 380.1h0M323.2 373.5h0M369.9 316.7h0M381.7 371.6h0M387.7 356.1h0M384.9 374.5h0M388.3 324.2h0M370.1 312.1h0M382.5 378.4h0M286.4 232.8h0M281.4 235.7h0M308 379.7h0M283.5 286.5h0M290.4 310h0M381.6 381h0M381.6 319.4h0M374.9 269.1h0M321.9 236.2h0M283.7 243.6h0M295.2 339h0M361.2 296.1h0M340.6 258.4h0M362.9 296.6h0M316.4 373.9h0M354 280.7h0M348.8 372.6h0M365.3 290.4h0M356.3 278.7h0M341.8 372.2h0M319.4 233.6h0M409.4 297.6h0M298.7 372.9h0M317.4 237.9h0M376.3 316.9h0M365.8 373.8h0M322.3 379.4h0M321.6 374.1h0M374.3 330.3h0M328.1 246.6h0M387.8 336.6h0M384 353.6h0M310.6 372.1h0M380.4 375h0M357.2 283.4h0M364.7 295.4h0M383.3 370.8h0M352.4 274.6h0M390.1 360.5h0M326 372.9h0M372.9 373.2h0M280.5 241.8h0M370.7 267.4h0M382.6 376.1h0M313.5 374.9h0M397 321.4h0M290.5 318h0M287.3 231.7h0M384.7 363.2h0M376.4 342.6h0M381 313.8h0M343.1 247.2h0M338 235h0M289.5 311.5h0M386.6 355.9h0M409.5 371.6h0M394.5 374.5h0M333.7 376.4h0M375.2 320.6h0M333.5 371.4h0M373.6 317.9h0M366.9 371.6h0M380.5 358.4h0M368.7 370.9h0M371.7 319.6h0M389.2 344.2h0M388.6 332.6h0M361 277.5h0M355.4 379.8h0M385.1 376.3h0M386.9 346.8h0M356 268.4h0M302.8 371h0M292.7 328h0M392.2 338.5h0M377.6 376.3h0M379.7 301h0M373.2 301.3h0M388.1 361.7h0M289.5 232.5h0M351.6 274.7h0M385.5 289.3h0M360.3 262.1h0M337.5 248.4h0M291 329.2h0M382.3 294.9h0M398.4 367.5h0M282.7 273.8h0M374.7 332.8h0M292.7 335.2h0M287 294.9h0M350.7 266.2h0M280.6 245.5h0M385.3 363.9h0M395.8 335.1h0M350 372.6h0M280.2 258.9h0M342.6 372.3h0M292.2 336.7h0M388.5 329.7h0M323 378.3h0M283.6 258.2h0M342.1 262.2h0M386.1 355.2h0M285.1 296.8h0M413.1 327.6h0M325.3 371.5h0M316.7 374.4h0M386.1 375.5h0M392.9 366.1h0M287.9 308.6h0M319.8 370.9h0M379.1 375.7h0M331.9 372.5h0M382.3 299.9h0M348 262h0M312.6 233.2h0M303.1 376.4h0M335.2 375.1h0M396.2 380.3h0M303.2 378.8h0M301.5 232h0M345.2 379.4h0M356.8 285.6h0M297.7 366h0M380.8 348.5h0M286.2 289.1h0M285.9 285.4h0M381.5 379.4h0M290.3 318.6h0M368.3 302.6h0M390 375.9h0M384.8 327.1h0M291.8 322.8h0M358.9 288.2h0M299.1 361h0M313.2 372.5h0M409 239h0M365.7 271.5h0M356.7 378.3h0M326.3 376.9h0M327.9 376.1h0M392.5 356.6h0M393.5 279.3h0M283.6 252.1h0M340 378h0M367.9 371.1h0M349.4 273.6h0M283.4 236.9h0M358.3 376.7h0M329 247h0M382.2 372.5h0M313.4 237.5h0M353.3 277.7h0M317.7 374.8h0M382.7 321.4h0M318.1 370.6h0M381.4 278.9h0M286.7 295.2h0M358.1 284.7h0M353 249.2h0M372.4 323.3h0M311.7 233h0M280.5 275.2h0M365.9 372.6h0M379.4 347h0M282.3 254.8h0M296.6 362.9h0M300.5 232.8h0M376.8 318.1h0M285 282.1h0M382 370.7h0M294.7 232.4h0M301.9 378.7h0M381.2 379h0M286 297.2h0M363.5 279.6h0M352.7 269.3h0M370.5 279.7h0M283.7 259.4h0M339.7 378.9h0M316 234h0M307.5 232.2h0M280.8 261.2h0M283.4 263h0M357.1 265.3h0M340.5 256.1h0M344.4 372h0M377.7 334.9h0M334.5 371.1h0M367.3 309.1h0M336.5 371.1h0M411.2 345.7h0M396.6 361.4h0M377.3 327.2h0M353 371.1h0M328.8 370.7h0M371.6 325.2h0M352.9 371.7h0M325.2 246.4h0M339.7 379.6h0M370.4 317.4h0M343 257.7h0M284.2 261.4h0M282.8 248.4h0M364.5 374.8h0M378.6 347.4h0M336.7 243.2h0M369.1 254h0M345.6 263.7h0M374.8 333.3h0M367.3 303.3h0M378 376.6h0M311.3 376.8h0M283 258.8h0M307.4 236.8h0M316.8 373.5h0M383.5 371.4h0M350.9 252.8h0M332.4 252.2h0M286.9 309h0M301.5 235.1h0M381.4 363.2h0M333.4 380.4h0M337.8 374.1h0M361 282.4h0M366.8 291.6h0M384.9 361.9h0M382.3 371h0M356.3 371.9h0M361.4 290.2h0M350 262.6h0M395.5 374.9h0M283.8 262.8h0M309.5 377.9h0M369 294.8h0M314.5 371.9h0M388.8 350.2h0M379.1 333.6h0M325.7 373.2h0M284.5 277.1h0M361 372.2h0M389.8 320.8h0M295.6 343.6h0M294.6 347.3h0M348.9 260.8h0M369 314.5h0M372.5 297.9h0M309.7 232.4h0M359.7 273.5h0M343.8 264.9h0M339.2 250.5h0M381.2 347.7h0M304.5 372.1h0M299.7 378.2h0M301.3 233.5h0M297.2 370.8h0M291.7 231.5h0M377.8 348.4h0M363.8 373.2h0M388.6 331.4h0M387.1 375.5h0M381.8 370.6h0M381.1 355.9h0M310 233.2h0M375.6 329.5h0M415.9 362.1h0M370.2 306.9h0M288.4 297.6h0M286.2 285.5h0M387.4 375.6h0M375.9 340.4h0M287.9 302.8h0M304.2 372.7h0M382.8 331.2h0M399.7 283.7h0M390.6 340.6h0M378.4 350.8h0M388.4 381h0M363.8 283.8h0M283.1 239.2h0M391.6 372.1h0M311.4 238.1h0M374.4 313.2h0M376.6 338h0M359.2 372.7h0M328 378.1h0M288.4 302.2h0M302.4 235.2h0M288.7 309.6h0M313 233.1h0M351.4 258.4h0M355.4 285.2h0M378.2 348.8h0M289.6 330.4h0M287.7 294h0M299.9 374.7h0M307.6 232.8h0M354.9 278.7h0M375.7 298.4h0M284.7 277.7h0M392.5 347.1h0M389.4 355.6h0M325 244.1h0M314.3 379h0M281.4 253.5h0M390 341.1h0M288.1 299.4h0M374.9 280.8h0M368 373.6h0M380.5 356.1h0M366 297.8h0M380.3 373.2h0M385.4 303h0M321.2 243.8h0M393.8 320.3h0M363.1 297.8h0M355.9 375.4h0M341.2 370.6h0M297 361h0M336.9 381h0M283.8 264.4h0M382.4 365.4h0M376.8 276.5h0M322.4 242.8h0M379.4 300.9h0M336 255.7h0M393.8 357.4h0M385.9 359.1h0M342.1 251.5h0M384.4 381h0M299.8 377.9h0M293.3 357.5h0M368.4 375.9h0M297.7 363.5h0M319.9 380.9h0M369.8 319.6h0M340.5 254.5h0M390.7 356.5h0M371.9 315.5h0M374.9 334.1h0M382.6 349.8h0M291.9 325.9h0M393.5 329.1h0M357.9 373.5h0M378.6 375.7h0M349.9 274.5h0M299.5 378.5h0M359.6 273h0M351.5 274.7h0M369 298.6h0M351.5 268.7h0M347.7 260.5h0M381.8 362.7h0M283.4 297.1h0M368.4 311.8h0M393 313h0M349.1 264.2h0M371.7 282.7h0M286.9 288.3h0M394.7 345.8h0M391.1 345.1h0M349.7 272.5h0M378.1 335.1h0M389.3 357.2h0M373.2 374.7h0M290.2 233.7h0M391.9 371.2h0M365.2 374.3h0M391.7 376.3h0M339.3 374.4h0M287 231.8h0M337.7 256.3h0M336.7 247.6h0M367.1 262.2h0M300.8 372.9h0M289.3 313.2h0M368.9 370.8h0M361.5 296.9h0M374.7 244.2h0M392.5 372.6h0M358.5 288.6h0M293.4 360.3h0M298.8 371.6h0M374.6 372.3h0M362.8 268.2h0M296.1 350.8h0M296.1 351.6h0M297 233.9h0M329.3 371.5h0M348.9 269.4h0M361 375h0M352.5 278.8h0M378.3 285.6h0M330.2 246.6h0M347.5 270.6h0M388.5 308.5h0M364.9 371.2h0M299.6 232.4h0M348.8 371.3h0M362 371.6h0M283.8 254.5h0M418.9 360.8h0M339 255.8h0M333.9 371.8h0M385.8 348.8h0M328.3 248.8h0M311.7 370.9h0M283.9 265.2h0M303.4 375.6h0M408.8 329.4h0M370.8 321.6h0M371.6 322h0M379.6 377.8h0M361 273.3h0M379 371.4h0M285.4 233.7h0M381.6 368.4h0M281.9 257.2h0M371.1 323.2h0M285.4 279.7h0M320.3 373.4h0M357.6 370.7h0M319.5 375.8h0M357.4 280.4h0M374 332.3h0M368.7 260.9h0M391.9 347.4h0M391.3 374.8h0M300.8 376.9h0M393.9 367.2h0M367.8 288.6h0M349.9 370.8h0M353.6 282.8h0M382.8 376.6h0M311.8 373h0M384.2 315.7h0M376.5 271h0M389.8 359.1h0M394.8 371h0M382.7 373.7h0M306.3 377.6h0M352.1 376.4h0M405.9 365.2h0M295.8 358.3h0M346.1 270.1h0M342.3 263.5h0M293.8 367.9h0M298.4 375.5h0M354.4 283.2h0M323.4 371.4h0M348.4 270.8h0M372.9 320.8h0M289.7 315.1h0M292.4 334.8h0M307.9 372.3h0M308.4 230.6h0M328.5 251h0M381.8 338.5h0M292.8 330.6h0M360 284.8h0M348.2 255.8h0M360.4 285.7h0M389.9 373.3h0M295.4 232.1h0M341.4 259.5h0M343 371.4h0M289.1 341.2h0M371.4 321.3h0M284.1 283.6h0M358.4 288.2h0M378.8 316.1h0M331.1 252.1h0M283.3 240h0M383 359.1h0M393.3 343h0M331.7 371.6h0M313 370.8h0M382.5 308.6h0M355 278.6h0M314.5 232.5h0M282.4 249.5h0M370.9 315.5h0M290.5 315.9h0M304 371.9h0M300.5 233.4h0" stroke="#457B9D" stroke-width="2.7" stroke-linecap="round" fill="none" opacity="0.72"/>
<path d="M328.7 247.4h0M364.7 285.4h0M380.5 307h0M392.7 349h0M378.6 299.4h0M385.8 344.4h0M370.4 373.3h0M312.9 372.8h0M296.8 233.1h0M284.3 268.5h0M334.1 372.9h0M365.6 302.8h0M383.2 356.8h0M332.9 376.5h0M383 339.6h0M342.5 371.3h0M384.8 360.5h0M368.7 313.7h0M281.6 256.8h0M292.4 356.3h0M294.4 336.6h0M372.3 326h0M333.3 371.4h0M362.4 371.8h0M366.4 309h0M348 270.4h0M371.6 325.8h0M283.6 241.3h0M287.3 315.6h0M291.8 318.5h0M322 240h0M378.5 371.8h0M369.4 370.8h0M364.1 297.8h0M334.2 250.4h0M390.9 373.4h0M301.4 231.4h0M383.4 316.9h0M381.5 366.3h0M282.8 273.4h0M363.9 263.5h0M366 309.4h0M385 360.3h0M362.5 370.6h0M361.7 293h0M372.5 314.4h0M366.3 308.8h0M330.6 370.8h0M357.9 271.1h0M342.8 371.8h0M288.9 323.4h0M318.5 242.8h0M354.4 284.8h0M282.6 277.2h0M359.2 282.2h0M381.7 377.4h0M285.6 315.7h0M314.1 372h0M390.3 350h0M343.5 259.6h0M383.1 379.1h0M378 326.1h0M354.6 379.4h0M325.4 371h0M331.1 371.1h0M369.3 300.8h0M382.4 317.9h0M375.8 377.8h0M385.9 315.5h0M336.5 380.3h0M379.7 352.5h0M359.8 373h0M378.3 378.7h0M375.7 323.8h0M385.3 362.3h0M388.5 373.5h0M406.7 366.6h0M353.2 278.6h0M332.2 249.2h0M326.5 370.5h0M295.6 349h0M396.1 351.4h0M393 372h0M373.3 320.6h0M348.4 262.5h0M351.7 371.7h0M370.1 310h0M385 370.8h0M286.5 324.5h0M297.1 231.9h0M295.1 233.1h0M367.6 286.5h0M357 373.4h0M392.8 349.6h0M381.6 374.5h0M387.1 331.5h0M296.9 347.5h0M359.9 290.9h0M369.5 371.8h0M389.3 318.6h0M303.4 233.4h0M380.2 344.9h0M386.2 375.7h0M364.3 283.9h0M340.3 373h0M325.5 242.4h0M356.5 267.1h0M385.3 310.5h0M384.3 377.1h0M361.3 295.3h0M327 373.2h0M365.8 371.6h0M374 331.7h0M372.9 280.7h0M353.3 251.3h0M295.1 345.6h0M381.4 377h0M291.4 328.9h0M297.6 358.9h0M388.7 328.5h0M283 252.4h0M290.2 310.1h0M313.6 370.7h0M370.6 302.6h0M377.2 318.6h0M285.1 283.7h0M335.4 246.7h0M346.9 265.8h0M356.3 374.8h0M368.7 290.2h0M322.5 234.8h0M325.3 247.4h0M358.8 374.7h0M376.5 314.2h0M393.3 366.3h0M352.8 372.7h0M351.2 379.6h0M392.3 370.6h0M299.4 370.6h0M327.6 247.4h0M331 237.1h0M340.5 239.8h0M362.7 281.6h0M381.9 379.6h0M402.7 341.6h0M290.5 313.5h0M379.1 346.1h0M371.2 312.7h0M379.9 334.4h0M304.1 234.2h0M342.1 262.7h0M283.5 256.7h0M322 372.1h0M348.9 273.7h0M392.4 350.7h0M413.1 380.6h0M344.5 256.9h0M368 305.7h0M389.4 288.6h0M345.9 263.5h0M384.6 347.1h0M400.8 374.5h0M387.7 267.1h0M424.4 367.3h0M330.5 375.6h0M351.5 278.7h0M399.9 345.9h0M387.9 378.6h0M359.7 288.4h0M370 262.5h0M403.9 376.1h0M323.7 235.9h0M311.9 374.1h0M392.8 334.7h0M317.1 237.3h0M318.5 373.2h0M281.3 244.6h0M386.9 373.7h0M313.9 240.1h0M354.2 280.7h0M367.2 287.6h0M292.7 329.4h0M403.2 380.1h0M380.3 360.6h0M362.4 293.5h0M351.7 372.2h0M348.9 272h0M323.4 234.6h0M328.7 376.3h0M375.8 374.9h0M389.2 357h0M368.4 294.2h0M383.4 339.6h0M366.8 284.5h0M346.6 256.2h0M385.5 377.6h0M348.1 267.7h0M342.5 262.6h0M324.6 240.7h0M382.8 302h0M283 246.9h0M386.1 376.3h0M348.2 268.6h0M329.1 246.1h0M382.9 377.1h0M369.2 317.9h0M404.8 340.9h0M283.4 243.2h0M362.3 370.7h0M286.1 286.8h0M357.6 272.3h0M286.6 306.6h0M311.8 374.3h0M326.4 372.1h0M343.3 264.4h0M320.8 372h0M293.5 365.7h0M395.3 375.4h0M311.2 233.8h0M352.1 260h0M282.4 243h0M394 380.4h0M304.1 371.4h0M359.5 380.2h0M369.8 314.1h0M376.7 371.9h0M380.1 322.5h0M373.1 376.5h0M300.6 368.1h0M394.8 360.8h0M289.3 313.5h0M381.7 381h0M357 269.5h0M374.3 297.4h0M341 260.8h0M380.7 366.2h0M333.9 371.1h0M415.8 360.3h0M360.3 373.5h0M340.1 374.6h0M366.8 285.2h0M325.6 371.3h0M328.2 244.9h0M316.7 240.2h0M301.8 371.5h0M384.4 346.9h0M381 378.2h0M290.7 342.4h0M326.4 245.1h0M283.2 272.4h0M380.2 334.2h0M333.2 253.2h0M334.6 253.5h0M284.6 286.7h0M387.4 348.5h0M357.1 375.7h0M357.8 376.8h0M347.6 372.9h0M360.9 375.4h0M325.5 243.3h0M386.9 381h0M283.9 268.1h0M296.4 347.6h0M371 319.6h0M283.2 248.6h0M346.9 373h0M319.4 373.5h0M294.4 339.5h0M309.5 372.6h0M318.8 377.7h0M369.5 305.2h0M374.8 307.2h0M376.8 342.6h0M374.6 288.3h0M388.9 327.2h0M380.5 320.4h0M388.3 377.3h0M306.4 372.6h0M389.3 374.7h0M328.8 371.9h0M282.9 239.6h0M387.4 331.1h0M305.5 374.2h0M370.2 276.6h0M309.4 237.1h0M382.7 360.8h0M392.2 295.6h0M372.8 291.4h0M297 231.9h0M373.7 288.5h0M374.9 300.3h0M314.3 372.4h0M295 355h0M426 362.7h0M441 350h0M381.9 315h0M298.9 370.9h0M295.2 341.9h0M320.5 371.7h0M297.8 231.2h0M382.9 361.7h0M358.6 370.5h0M339.5 260.9h0M280.3 262.9h0M341.7 263.3h0M282.3 289.3h0M371.5 374.8h0M376.9 341.2h0M293.4 333.7h0M358 374.9h0M282.8 242h0M379.3 356.6h0M361.9 375h0M392.8 380.9h0M380.9 356.9h0M382.7 366.2h0M336.6 374.2h0M283 233.7h0M285.8 232.3h0M364.2 301.5h0M318.5 242h0M350.2 254.5h0M379.9 315.5h0M310.7 373.7h0M442.2 313.1h0M309.2 373.1h0M386.9 361.6h0M300.3 373.4h0M385 295.9h0M387.1 322.4h0M395.2 380.8h0M369.6 310.5h0M394.4 353.1h0M375.8 323h0M321.9 373.6h0M338 247.9h0M297.7 371.6h0M394.8 330h0M393 305.5h0M351.9 270.3h0M380.1 353.9h0M317 372h0M286.7 232.6h0M301.4 231.7h0M380.4 297.7h0M301 370.3h0M319.4 234.3h0M352.9 270.4h0M283.5 270.8h0M388.7 364h0M288.1 299.1h0M314.7 371.5h0M293.5 332.7h0M383.5 359.2h0M388.1 377h0M380.2 316.1h0M331.6 372h0M289.1 323h0M325.8 239.7h0M334.5 254.4h0M335.2 240.6h0M336.9 375.2h0M340.1 256h0M290.7 230.7h0M321.8 234.1h0M281.9 282.8h0M301.8 232.6h0M350.9 268.5h0M347.3 269.5h0M363.3 302h0M384.1 332.3h0M323.6 245.6h0M361.3 268.5h0M390.2 352h0M366.1 293.5h0M371.7 316.9h0M375.9 321.5h0M363 372.9h0M342.7 373.2h0M337.4 371.2h0M369.3 317h0M379.5 332h0M379.7 378.4h0M340.5 250.8h0M305.9 375.8h0M347.2 263.4h0M354.5 274.8h0M362.6 299.2h0M283.4 258.4h0M384.5 331.9h0M359.1 285.9h0M283.8 279.9h0M355.2 274.4h0M320.9 371.4h0M379.8 358.4h0M280.9 249.3h0M296.3 352.1h0M374.3 310.2h0M281.7 252.2h0M356.8 373.9h0M314.6 237.5h0M367.7 276.7h0M346 373.7h0M283.4 242.4h0M300.1 368.1h0M342.4 263.3h0M375.5 338.7h0M380.7 357.4h0M284.6 267.6h0M390.2 371.6h0M336.3 374.1h0M356.9 288.6h0M374.9 320.2h0M383.5 362.9h0M377.5 339.8h0M335.8 248.2h0M367.4 297.2h0M344.9 372.8h0M298.4 360.5h0M390.3 374.6h0M381.5 379.6h0M375.4 336.6h0M356.5 371.9h0M309.6 372.5h0M280.7 269.9h0M300.3 377.7h0M316.3 236.6h0M318.8 371.8h0M295.1 232.9h0M283.3 280.9h0M330.8 249.5h0M354.3 250.5h0M305.6 232.5h0M298.5 379.8h0M392.2 324.6h0M381.5 324.7h0M302.9 374.4h0M393.8 368.6h0M385.8 372.5h0M371 283h0M300.7 372.7h0M382.8 355.4h0M344.6 256.1h0M411.2 361.7h0M283.1 291.1h0M302.5 233.7h0M283.2 252.9h0M308.3 376.2h0M380.1 375.6h0M369.9 295.4h0M383.5 333.2h0M307.8 370.5h0M295 233.2h0M351.7 265h0M361.8 285.1h0M368.8 295.6h0M334.4 255h0M382.1 338.2h0M378.5 297.9h0M282.4 253.5h0M383.7 356.6h0M342.2 264.7h0M283.3 276h0M319.6 371.8h0M317.9 371.7h0M384.6 332.3h0M385.4 346.4h0M328.3 250h0M386.9 369.4h0M323.8 237.7h0M387.5 341.8h0M353.1 370.8h0M399.2 377.6h0M347.7 271.1h0M388.9 351.6h0M388.8 313h0M289.5 319.5h0M283.3 244h0M393.9 364.3h0M365.5 373.6h0M292.6 231.8h0M391.6 340.8h0M299.2 234.2h0M352 273.2h0M382.9 373.9h0M311.7 372.7h0M343.4 249.4h0M363 374.2h0M371.4 275.7h0M348.9 269.5h0M381.1 366.4h0M303.9 234.1h0M339.6 261.1h0M385.2 354.8h0M366.3 298.7h0M359.2 372h0M281.1 278.9h0M387 365.9h0M323.6 374.3h0M300.3 373.1h0M338.4 251.6h0M328.4 372.5h0M411.6 317.4h0M379.9 326.6h0M384.5 377.6h0M283.9 284.5h0M325.8 378.8h0M360.8 372.5h0M384.9 299.2h0M297.1 370.8h0M322.1 378.3h0M405.5 235.5h0M361.1 294.9h0M359.7 290.3h0M339.4 258h0M293.6 331.3h0M354.9 272.8h0M380.8 374.6h0M393 347.4h0M369.6 309.9h0M359.4 284.3h0M354.9 372.8h0M394.2 323h0M336.5 248.5h0M363.6 271.1h0M321 235.7h0M348.7 373.5h0M342.9 375.7h0M369.9 319h0M296.7 231.9h0M282.9 264.1h0M291.5 345.6h0M353.3 372.1h0M283.3 260.7h0M294.1 348.3h0M370.4 321.2h0M390.7 295.9h0M401.4 319.5h0M281.8 243.5h0M380.3 327.6h0M349.5 370.9h0M378.6 350.3h0M339.6 253.2h0M382.4 378.8h0M315.6 373.8h0M287.9 294.5h0M383 355h0M404.9 365.1h0M353.5 372.3h0M372.5 321.4h0M375.6 334.5h0M388.1 339.7h0M372.3 321h0M303.8 234.4h0M377.9 299h0M382.7 323.9h0M357.6 372.1h0M287.2 232.7h0M300.1 366.5h0M359.6 287.7h0M333.2 375.2h0M377.1 346h0M382.7 371.1h0M289.9 326.9h0M299.5 232.8h0M299.8 374.6h0M385.3 326h0M374.8 321.1h0M394.7 371.6h0M323.8 236.5h0M388.2 372.1h0M383.9 339.6h0M283 295.6h0M283.6 242.7h0M320.2 235.3h0M388 350h0M283.5 243.4h0M351.9 374h0M345.9 373h0M310.6 371.5h0M390.4 341.5h0M362.5 287.9h0M383.3 332.8h0M390.4 373.7h0M343.7 243.2h0M369.3 268.7h0M335.1 370.9h0M312.5 239.7h0M309.9 238.1h0M285.6 300.1h0M353.9 283.1h0M290.6 314.8h0M319.8 238.5h0M283.2 245.1h0M381 350.9h0M298.4 360.8h0M368.9 375.5h0M392.4 359.6h0M356.4 275.1h0M288.8 302h0M282.2 278.1h0M353.1 263.8h0M384.5 362.2h0M371.2 317h0M378.1 370.8h0M324.9 242.5h0M366.9 371.6h0M381.5 309.6h0M310.6 373.1h0M329.7 241.1h0M385.4 360h0M298.5 374.2h0M357.1 286.8h0M392.9 375.2h0M348.6 370.9h0M384.1 368h0M299.9 372.2h0M285.3 279.1h0M376.7 338.6h0M343.3 264.9h0M393.8 366.4h0M396.8 319.5h0M403.9 364h0M375.2 323.1h0M337.6 381.2h0M330.8 247.8h0M363.1 290.9h0M325.9 374.1h0M384.4 379.6h0M373.6 321.4h0M384.8 376.8h0M370.4 315.1h0M363.2 266.3h0M383.4 374h0M402.8 340.7h0M387.8 360.9h0M417.4 282.1h0M387.1 324.1h0M302.6 233.7h0M294.8 354.5h0M363.6 297.6h0M363.8 271.6h0M395 342.4h0M371.1 320.2h0M415.6 376.4h0M283.9 237.1h0M292.3 344.3h0M388.3 377.4h0M362.6 265h0M377.5 327.5h0M286.4 290.4h0M386.4 371.8h0M377.7 325.3h0M345.2 374.5h0M332.2 370.5h0M387.2 370.5h0M294.6 379.5h0M360.6 270.1h0M322.8 238h0M307 377.7h0M333.6 243.9h0M285.3 287.2h0M301.7 371.3h0M323.7 236.2h0M295.1 232.1h0M289.5 232.6h0M351.1 268.7h0M365.6 275.1h0M376.8 330.2h0M370.2 317.7h0M286.4 232.6h0M299.3 233.7h0M288.6 342.5h0M326.4 378.3h0M381.2 359.2h0M333.2 373.1h0M284.4 293.4h0M350.2 274.3h0M395.1 377.6h0M282.9 249.7h0M318.3 235.2h0M396 362.7h0M314.1 371.8h0M370.7 320.2h0M344.7 376.3h0M313.4 237.5h0M384 378h0M308.9 372.1h0M300.7 370.6h0M310.8 234h0M282.9 271.9h0M359.7 286.9h0M304.5 379.2h0M375.9 292h0M372 371.3h0M388.6 378h0M384.6 356.5h0M306.5 233.2h0M296.3 347h0M382.7 379.1h0M367.7 311.6h0M367.7 300.6h0M299.8 379.6h0M313.5 373.7h0M375.2 330.1h0M283.8 257.9h0M375.8 279.6h0M352.1 257.4h0M283.6 258.7h0M376.5 343.6h0M377.7 372.1h0M342.1 260.8h0M396.8 375h0M384.7 373.5h0M283.6 262.5h0M363 301.4h0M383.2 367.5h0M282.9 258.6h0M404.7 319.6h0M378.6 345h0M362.4 275.2h0M299.7 372.6h0M346.9 268.4h0M288.6 312.9h0M350.8 374.4h0M387.3 377.7h0M393.5 374.7h0M385.8 372.8h0M353.3 257.7h0M401.2 376.1h0M311.6 236.8h0M399.9 331.4h0M341.1 374h0M291.2 329.7h0M394.8 343.3h0M288.8 309.9h0M370.3 372.4h0M369 372.2h0M334.8 248.9h0M313.9 234.5h0M347.3 377.8h0M343.3 378.9h0M351.2 262.9h0M357.4 376.5h0M354.9 284h0M283.5 252h0M355.2 370.9h0M291.2 326.5h0M315.4 372.7h0M341.2 253h0M346.3 267.9h0M387.5 367.2h0M358.7 291.1h0M401.8 363.9h0M351.1 375.1h0M388.8 326.6h0M307.5 233.2h0M361.3 296.7h0M348 376.1h0M380.6 372.2h0M286 322.9h0M391.9 372.2h0M383 261.9h0M301.8 374h0M326.7 234.8h0M334.7 254.9h0M297.3 233h0M294.9 356.6h0M343.3 262.3h0M318.7 374.6h0M286.4 290h0M405.6 340.2h0M319.4 372.5h0M316.1 235.2h0M414.5 329.8h0M285.9 230.9h0M291.2 233.2h0M375.1 374.2h0M328.4 374.2h0M408.2 381h0M397.6 295.6h0M282.5 241.9h0M323.2 235.6h0M393.2 358.5h0M380.9 263h0M403 369.2h0M316.7 237.4h0M281.7 267.1h0M292.3 320.8h0M298.3 376.5h0M344.3 265.8h0M370.7 304.6h0M283.3 265h0M320.3 243.4h0M396.6 368.1h0M381.9 313.6h0M286.4 307.1h0M367.8 309.8h0M335.7 377.2h0M334.2 380.8h0M303.6 372.1h0M372.1 322.4h0M346.5 238.2h0M364.3 299.7h0M290.8 332.3h0M358.7 371.1h0M382.6 282h0M359.3 281.1h0M384.9 371.1h0M379.8 283h0M373.9 371.9h0M352.2 268.7h0M356 282h0M361.7 282.6h0M389.3 356.8h0M374.1 327.6h0M287.2 306.2h0M389.6 370.7h0M365.1 372.2h0M356.5 287.1h0M382.8 353.6h0M380.6 355.5h0M284.2 277.6h0M382.8 353.2h0M337.5 375.3h0M388.6 378.8h0M362.4 289.7h0M338.9 373.2h0M387.5 336.2h0M357.4 371.7h0M334.4 243.8h0M352.4 277.9h0M366.7 278.3h0M352.5 258.7h0M354.6 371.8h0M330.6 252.2h0M290.4 324.8h0M357.9 267.8h0M325.8 245.4h0M339.8 372h0M338.3 257.1h0M310.2 233.3h0M360.3 276.4h0M378.4 347.5h0M301.4 373.3h0M329.9 373.1h0M283.6 272.7h0M395 366.1h0M370.7 320.3h0M307.5 373h0M322.2 379.9h0M316 373.2h0M284.3 263.3h0M366.8 287.5h0M386.5 255.9h0M374.1 322.4h0M384.4 315.6h0M372.9 245.5h0M406.3 362.6h0M341.6 256.5h0M391 376.6h0M303.5 373.3h0M354.1 281.7h0M326.5 248.4h0" stroke="#457B9D" stroke-width="2.7" stroke-linecap="round" fill="none" opacity="0.72"/>
<path d="M352.6 277.5h0M355.5 275.1h0M296.9 366.4h0M288.7 231.5h0M301.9 377.5h0M374.4 375.5h0M311.2 372.8h0M400.1 298.2h0M330.3 241.2h0M346.6 266.8h0M352.1 255.1h0M351.7 264.7h0M360.1 377.5h0M314 239.2h0M298.9 232.3h0M348.9 261.2h0M292.4 348.6h0M354.7 282.3h0M387.9 372.3h0M347.3 270.8h0M322.8 245.4h0M313.5 232.3h0M286.6 287.1h0M406.4 362.2h0M372.2 321.4h0M340.8 261.5h0M363.9 378.8h0M324.1 245h0M311.2 373.5h0M365.1 374.8h0M338.4 259.2h0M343.4 371h0M315.1 233.1h0M354.8 276.2h0M358 280.7h0M297.2 357.6h0M376.7 345.4h0M349.9 268.2h0M365.6 298.7h0M355.1 380.6h0M301.7 372.9h0M364.1 371.1h0M360.8 291.4h0M312.9 233.5h0M395.2 372.2h0M353.4 274.5h0M365.7 278.3h0M390.3 378.7h0M348.1 271h0M376.8 322.9h0M385.1 352.2h0M391.7 354h0M382.8 301.1h0M382.4 334.5h0M331 377.6h0M307.7 237.5h0M359.9 275.8h0M392.7 370.1h0M290.7 312h0M326 247.5h0M286.3 285h0M319.4 380h0M313.8 376.3h0M379.7 263.9h0M381.5 281.6h0M336.9 251h0M323.2 235.1h0M284.2 296.9h0M280.5 242h0M347.1 377.8h0M365.5 287.4h0M351.3 262.3h0M382.8 374.1h0M295.4 232.5h0M306.6 370.9h0M363.3 371.3h0M381.2 364.5h0M388.6 346.5h0M386.9 365.6h0M366.8 372.9h0M283.3 277.8h0M373.7 373.2h0M341.3 373h0M285.5 315.6h0M428.9 366.1h0M385.3 323.5h0M319.2 375.9h0M358.5 371.5h0M364.9 378.1h0M375.5 370.5h0M386.1 374.1h0M322.3 245.3h0M394.2 373.6h0M361.7 272.7h0M382.5 369.6h0M394.5 379.4h0M319.2 375.9h0M338.7 372.2h0M287.7 307.5h0M387.6 373.8h0M316.1 370.9h0M369 316.5h0M289.2 310.3h0M296.4 376.2h0M306 372.3h0M374.7 332.8h0M353.7 281.8h0M356.4 281.5h0M338.6 255.9h0M369.2 290h0M362.3 279.2h0M288 306.5h0M281.6 254.4h0M359.9 374.8h0M334.3 254.3h0M399.3 371.8h0M363.7 302.9h0M378.9 341.3h0M391.5 326.2h0M294.9 366.8h0M355.5 271.4h0M356.8 374h0M302 372h0M286.4 303.1h0M347.3 378.6h0M283.6 248.7h0M337.1 253.3h0M285 291.2h0M336.3 372.2h0M294.7 341.3h0M329.6 376.3h0M352.1 372.4h0M319.6 235.3h0M382 365.2h0M364 302.7h0M362 296.5h0M384.3 327.4h0M381 370.6h0M376.1 312.8h0M378.5 378.6h0M380 282.5h0M293.3 328.1h0M289.7 231.2h0M339.9 374.8h0M368.3 285.5h0M350.4 270.6h0M390.3 375.1h0M339.9 259.2h0M373.9 373.7h0M307.4 238.2h0M311.8 371.8h0M387.4 301.4h0M338.6 371.2h0M391.6 301h0M316.6 234.8h0M304.9 371.2h0M386.3 364.2h0M346.3 264.3h0M383.1 348.2h0M300.5 367h0M331.8 248h0M357.7 374.8h0M399.7 356.5h0M350.4 272.5h0M386 362.5h0M359.2 290.7h0M363.6 292.2h0M319.2 233.6h0M362 287.3h0M294.1 338h0M388 362.8h0M291.5 319.9h0M387 337.5h0M376.1 372.1h0M329.8 247.3h0M375.4 337.5h0M381.8 365h0M293.5 355.2h0M316 240.9h0M356.5 378.2h0M399.1 320.5h0M336.7 370.5h0M374.1 316h0M399.6 339.4h0M383.6 359.8h0M305.4 371.7h0M340.8 247.4h0M301.1 371.9h0M299.8 374.4h0M361.5 284h0M392.6 372h0M408.8 362.5h0M282.2 266.8h0M374.7 374.2h0M374.4 373.8h0M287.9 298.4h0M363.9 371h0M376.6 296.1h0M319.4 370.6h0M283.7 259.8h0M333.4 254.4h0M328.1 247.4h0M385.7 355.4h0M387.5 372.2h0M373 327.2h0M312.8 372h0M384.6 366.1h0M364 303.8h0M375.9 339.5h0M386.1 321.1h0M378.5 317.6h0M387.6 347.1h0M362.7 370.7h0M343.8 264.3h0M354 271.1h0M327.7 248h0M379.6 357.4h0M374.3 327.3h0M324.9 373.2h0M373 371.7h0M299.9 232.2h0M381.9 338.9h0M303.2 371h0M372.4 325.2h0M358.4 276.4h0M298.5 372.1h0M390.1 370.8h0M324.4 240.3h0M301.9 373.4h0M340.2 261.9h0M333.5 372.2h0M362.6 291.1h0M312.6 240.2h0M373.7 315.8h0M362.4 270.2h0M393.1 328.6h0M383.6 370.7h0M348.3 269.6h0M390.2 374h0M385.6 370.5h0M369.6 317h0M332.3 251.2h0M311.2 371.6h0M370.3 320.5h0M384.5 369.5h0M349.5 274.2h0M390.5 373.3h0M320.6 370.9h0M364.9 292.1h0M343.3 263.1h0M314.1 373.3h0M299.9 374.3h0M398.5 345.2h0M290.2 307.6h0M357 259.3h0M353 272.7h0M331.7 237.1h0M372.5 371.9h0M329.7 371.2h0M366.3 370.7h0M293.7 231h0M379.5 323.4h0M377.6 344.9h0M355.3 269.2h0M389.8 376.6h0M372.6 305.7h0M286.5 292.4h0M306.9 232h0M372.3 312.6h0M353.6 370.6h0M281.5 269.4h0M362.2 265.3h0M298.7 373.2h0M304.5 373h0M284.7 269.2h0M323 372.5h0M298.3 370.7h0M366.2 281.3h0M283.2 270.6h0M283.6 252.1h0M329.6 377.1h0M359.1 289.5h0M363.5 290.6h0M320.1 377.3h0M382.4 377.4h0M386.9 370.7h0M283.9 271.5h0M419.5 354.7h0M319.6 376.2h0M367.8 285.1h0M376.3 337.5h0M394 375.5h0M359.5 288.7h0M385.1 351.7h0M380.2 338.1h0M314.2 234.6h0M337.6 247.2h0M341.1 261.8h0M286 284.7h0M309.7 370.8h0M284 234.7h0M388.2 364.4h0M366.4 374.6h0M287.9 301.3h0M375.3 370.9h0M319.8 235.7h0M372.1 370.8h0M376.4 324.9h0M345.3 373.9h0M365.9 373.5h0M386.6 314.4h0M306.6 375.7h0M382.3 373.7h0M377.9 344.7h0M375.3 299.1h0M286.9 311.3h0M294.1 370.7h0M379.6 295.3h0M330.4 252.3h0M284.8 290.9h0M381.4 317.6h0M357.2 258.3h0M377.8 335.6h0M383 327.4h0M344.7 266.4h0M392.2 366.9h0M363 301.5h0M378 373.6h0M359.3 292.7h0M337.7 370.8h0M402.9 332.5h0M282.8 247.9h0M318.4 371.9h0M322.7 370.7h0M384.6 311.5h0M401.2 329.5h0M388.5 352.3h0M348.3 373.2h0M372 309.8h0M354.7 279.4h0M307.4 380.9h0M351.7 257.5h0M343.9 375.2h0M373.2 299.9h0M291.2 316h0M323 377.2h0M338 242.8h0M286 285.7h0M283.9 260.2h0M287.6 333h0M355 376.1h0M395.2 371.5h0M314.7 232.7h0M385.8 365.3h0M400.5 338.1h0M331.6 247.2h0M285.3 278.1h0M393.5 380.5h0M371.1 323.6h0M325.8 372.7h0M281.7 246.7h0M346.8 267.9h0M384.5 353.7h0M361 294.3h0M298.2 233.7h0M323.9 374.8h0M282.8 260.1h0M377.7 327h0M298.5 377h0M382.9 375.9h0M286.6 288.5h0M311.2 377.3h0M380.4 354.6h0M371.2 321.3h0M317.6 373.5h0M361.4 297.9h0M383.4 375.9h0M319.7 242.1h0M375.9 303.6h0M380.9 345.2h0M287.7 292.6h0M325.9 373.6h0M328.5 250.6h0M380.4 296.7h0M330.8 376.1h0M386 344.9h0M374.3 376.1h0M371.5 311h0M399.7 341.7h0M295 338.1h0M372.4 311.4h0M361.2 296.2h0M312.9 233.8h0M326.3 245.2h0M284.3 277.3h0M380.8 362.2h0M333.8 247.4h0M309.4 234.7h0M404.9 323h0M290.9 318.2h0M367.6 312.4h0M382.3 362.4h0M316.7 373.5h0M307.1 234.5h0M287.9 233.2h0M366.2 304.8h0M437 341h0M353.7 277.5h0M341.2 261.2h0M363.1 374.7h0M314 372.5h0M373.6 291.5h0M312.9 376.5h0M380 283.7h0M353.1 372.7h0M283.6 254.5h0M314.7 233.4h0M300 371.3h0M325.6 375.4h0M329.8 241.5h0M381.1 349.8h0M327.7 374.5h0M345.6 260.8h0M331.4 378.9h0M335.8 242.8h0M377.1 322.8h0M329.2 239.8h0M392.8 379.4h0M388.7 368.1h0M296.1 375.1h0M323.1 246.3h0M301.4 378.9h0M380.7 354h0M289.5 303.9h0M375.8 338.7h0M339.6 254.7h0M395.9 374.5h0M316.4 371.9h0M405.3 342.9h0M356.6 377h0M342.1 375.7h0M321.3 376.4h0M296.8 350.2h0M382.5 360h0M315.5 371.4h0M349.7 267h0M383.6 380h0M382.4 374.8h0M296.4 360.1h0M381.7 366.3h0M357.5 266.8h0M301 373.7h0M329.8 248.9h0M302.1 371.3h0M326.1 372.1h0M343.8 374.9h0M370.2 310.6h0M353.1 371.2h0M365 299.9h0M385.5 376.3h0M362.6 370.7h0M367.9 373.4h0M375.5 330h0M292.1 321.2h0M292.1 324.5h0M313 370.7h0M335.9 241.9h0M344.6 370.6h0M420.4 377.9h0M340.1 260.5h0M398 262h0M344.9 264.3h0M387.9 319.7h0M295.8 359h0M353 268.8h0M295.6 346.5h0M367.1 299.6h0M340.9 375.6h0M288.3 309.8h0M365.3 374.1h0M358.6 374.4h0M331.2 241.4h0M326.8 244.9h0M404.3 330.4h0M374.3 372.3h0M315.7 373.3h0M386 379.8h0M356.2 374.8h0M285.2 282.1h0M296.6 377.8h0M298.9 232.4h0M386.6 355.7h0M283.9 290.7h0M375 321.9h0M368.6 376h0M389.1 370.8h0M330.8 246.2h0M388.8 360.4h0M372.8 311.1h0M359.8 291.3h0M355.8 375.1h0M312.1 237.8h0M306.3 376.4h0M382 368.4h0M342.1 257.8h0M369.6 371h0M375.1 380.5h0M378.9 343.2h0M283.5 262.5h0M333 253.4h0M343.9 249.4h0M324.9 241.5h0M368.6 303.6h0M299 373.8h0M331.8 242.3h0M305.6 377.5h0M320.1 234.2h0M289.1 312.2h0M411.9 374.3h0M320.9 245h0M340.6 262.2h0M315.6 372.2h0M312.8 235.1h0M384.9 342.2h0M383.1 317.6h0M331.9 373.4h0M317 241.1h0M336.6 248.3h0M368.7 370.9h0M373.4 374h0M324.4 242.6h0M335.6 378.4h0M383.4 346.6h0M344.9 267.5h0M283.4 269h0M370.2 301.7h0M367.5 378h0M331.6 371.2h0M378 340h0M299.9 234.2h0M365.1 301.2h0M375.9 338.5h0M389.4 343.8h0M299.1 375.6h0M380.6 375.9h0M386 313.8h0M389.1 371.5h0M360.4 272.3h0M359.9 293.6h0M341.9 263.2h0M341.1 262h0M298.5 367.1h0M361.7 292.8h0M394.3 340.9h0M323.2 246.8h0M370.2 305.5h0M283.6 237.3h0M361.4 294.5h0M371.3 316.7h0M377.3 336.8h0M368.1 306.1h0M363.8 294.4h0M286.5 314.6h0M345.6 262.4h0M381.4 369.3h0M284 267.5h0M334.2 253.9h0M367.3 311.4h0M289 320.2h0M336.9 371.8h0M395.6 372.3h0M288.3 330.5h0M288.4 233.7h0M342.1 373.4h0M353 277.3h0M323.1 371h0M305.4 234.6h0M312.7 236.8h0M360.6 374.6h0M360.2 377.8h0M376 278.7h0M282.1 285.1h0M388.8 372.3h0M297 350.6h0M395.7 367.3h0M306.4 233.9h0M336.9 254.2h0M371 296.8h0M378 372h0M283.3 263.1h0M374.3 325.8h0M372 307.6h0M367.6 303.3h0M292.3 333.3h0M437 312h0M368.1 309.5h0M353.7 265.2h0M289.1 233.5h0M292.8 335.4h0M373.6 319.8h0M349.1 372.5h0M364.8 303.5h0M331.3 246.8h0M387.2 372h0M381 337.5h0M337.4 239.5h0M390.4 333.2h0M371.7 370.6h0M382.3 373.8h0M325.9 236.9h0M368.5 311.8h0M344 255.7h0M289.8 314.6h0M398.2 372.5h0M303.7 234.1h0M377 324.3h0M358.7 287.1h0M390.6 371.5h0M298.7 377.7h0M386.7 336.8h0M374.5 373.1h0M300.3 371.4h0M370.7 320.6h0M344.7 371.7h0M283.4 243.3h0M307.7 233.3h0M376.8 336.1h0M383.8 329.4h0M331.1 250.4h0M386.9 373.2h0M303.7 234.5h0M283.5 246.8h0M360.1 370.8h0M299.5 231.8h0M305.7 371.1h0M297 371.9h0M329 374.7h0M324.2 238.6h0M380.6 346h0M375.3 376.2h0M338.8 257.2h0M329.3 248.3h0M402.9 360.8h0M398.9 368.2h0M350.1 274.8h0M314.4 232.4h0M280.7 278.1h0M364.1 371.2h0M350.5 374.3h0M378.1 337.9h0M359.4 282.5h0M387 321.8h0M347.4 372.9h0M402.3 337.6h0M355.5 282.5h0M389.9 303.6h0M382.7 295.8h0M375.5 323.9h0M286.9 314.8h0M392.2 378.2h0M294.5 232.9h0M409 342.8h0M375.2 336.8h0M382.1 352.1h0M410.9 372h0M299.1 380.6h0M286 233.7h0M360.8 290.9h0M300.4 367h0M373.5 299.4h0M367.4 298.6h0M383.9 329.3h0M369.5 315.9h0M352.6 265h0M358.7 372.7h0M289.4 305.7h0M354.9 261.7h0M328.7 370.7h0M352 271.9h0M404 381h0M392.6 372.3h0M293.8 333.3h0M291.1 315.6h0M313.1 237.3h0M393.1 265.8h0M331.2 237.6h0M372.6 306.2h0M381 375.9h0M381.4 375.4h0M280.9 248.1h0M390.9 375.1h0M377.7 334.9h0M385.4 378.5h0M369.2 372.5h0M292.8 325.6h0M295.5 344h0M309.3 374.6h0M379.9 351.1h0M380.4 347.6h0M290.3 231.1h0M286.4 232.6h0M283.3 257.3h0M380.8 377.7h0M331.1 241.6h0M346.3 266.5h0M351.9 274.5h0M283.7 254.5h0M383.9 356.8h0M310.9 371.5h0M375.2 377.4h0M295.1 348.7h0M323.8 247.3h0M381.1 362.2h0M359.3 284.9h0M345.4 376.5h0M375.6 371.9h0M372.5 312h0M407.9 341.1h0M377.6 292.8h0M297.6 369.5h0M387.8 375.6h0M386.9 333.2h0M314 232.9h0M356.2 283h0M284.4 284.8h0M383.9 301.8h0M312.5 236.3h0M317.8 233.4h0M374 326.8h0M371.6 292.6h0M350.2 370.6h0M370.9 283.9h0M330.3 373h0M377.9 293.7h0M296 357.1h0M392.1 286.3h0M381 371.9h0M311.1 237h0M387.4 376.2h0M401.2 372.1h0M332.5 371.3h0M358.2 269.1h0M336.7 375.5h0M290.3 331.3h0M286.7 289.9h0M354.2 373.8h0M302 371.4h0M282.3 238.3h0M369.5 296.5h0M289.3 312.1h0M320.9 234.2h0M333.2 251.2h0M387.3 371.4h0M347.6 267.5h0M359.7 287.3h0M371.7 279.5h0M314.6 233.8h0M380.1 359.2h0M281.9 259.5h0M448.4 289.9h0M363.9 285.8h0M324.7 371h0M415.9 323.7h0M386 368.4h0M360.3 371h0M380 338.4h0M402.6 371.1h0M364.5 302.1h0M385.9 375h0M357.8 375.1h0M285.9 279.4h0M383.9 333.9h0M369.7 376.2h0M351.2 256.2h0M335.5 251.3h0M384.1 374.2h0M289.3 304h0M290.1 338h0M401.3 356.7h0M330 372h0M382 360.9h0M369.4 303.9h0M357 373.3h0M383 378.4h0M300.1 232.9h0M350.1 277.2h0M393.5 366.5h0M303 233.8h0M328.2 373.5h0M370.4 297.4h0M365.7 371.4h0M375 334.1h0M291.3 324.3h0M366.5 300.9h0M349.9 378h0M395.1 327.8h0M391.3 371.2h0M282.6 251.4h0M402.2 305.3h0M341.3 379.7h0M308.6 376.6h0M283.7 258.6h0M296.5 349.3h0M334 236.9h0M365.6 272.1h0M375.6 376.5h0M372 377.9h0M367.2 311.3h0M294.5 337.2h0M357.7 371.6h0M299.1 366.3h0M377.7 380.2h0M372.2 278.5h0M376.3 284.6h0M284 236.4h0M382.6 350.6h0M288.9 322.9h0M381.8 372.5h0M370.1 371.3h0M373.6 298.2h0M306.9 232.7h0M370 317h0M372.2 280h0M383.9 344.6h0M376.5 307.6h0M385.5 364.1h0M308.3 234.4h0M388.5 304.1h0M379.6 375.7h0M373.1 328.6h0M365.2 284.9h0M328.7 375.4h0M381.8 339.3h0M383.1 370.5h0M388.9 369.7h0M380.8 353.5h0M374.1 329.5h0M385.8 368.7h0M380.8 322.3h0M373 322.1h0M305.8 234.2h0M283.1 240.3h0M376.2 332h0M368 373.9h0M387.1 363.9h0M390.9 371.1h0M342.3 258.7h0M399 355.2h0M306 372.2h0M366.7 277.8h0M335.4 372.8h0M301 376.5h0M291.2 326.5h0M380.7 377.8h0M415.6 310.1h0M296.5 351.1h0M335 376h0M308.2 232.7h0M391.8 380.5h0M385.7 329.6h0M383.3 372.2h0M372.1 289.9h0M379 313.2h0M375.6 323.1h0" stroke="#457B9D" stroke-width="2.7" stroke-linecap="round" fill="none" opacity="0.72"/>
<path d="M312.6 363.44L311.4 363.75L309 363.72L308.06 363.4L307.4 362.75L307 362.04L306.28 359.8L305.36 358.2L304.37 355.4L301.9 349.8L300.6 345.08L299.87 340.2L298.84 335.4L297.89 327.8L296.66 321.4L295.68 315L293.87 308.2L293.18 306.6L292.14 305L291.62 303.4L285.4 267.4L284.57 262.2L283.63 254.2L283.21 243L283.55 239L284.2 236.64L284.6 235.95L286.6 234.42L287.8 233.93L293 233.8L296.2 234.02L299 235.22L304.2 236L306.2 237.55L307 237.87L313.99 238.6L317.8 239.39L318.6 240L319.59 241.4L320.2 241.94L322.2 242.75L323 243.32L324.2 245.39L325 246.21L328.2 247.3L329 247.76L329.59 248.6L330.66 251.4L331.4 252.51L332.2 253.04L335 254.16L335.8 254.97L336.84 258.6L337.4 259.91L337.92 260.6L339.74 262.2L340.79 265.4L342.27 267.4L343.63 270.6L344.2 271.37L345.4 272.3L345.94 273L347.1 277.8L347.91 279.8L349 280.8L352.78 282.2L353.55 282.6L354.2 283.22L354.6 284.51L355.29 289.4L355.83 291.4L356.57 292.6L358.2 293.8L358.62 294.6L359.28 301L360.24 305L361.18 317.4L361.8 322.17L362.33 329.8L362.92 334.6L361.98 337.8L361 344.92L360.2 347.96L359.8 349.05L358.17 351L357.4 353.09L356.61 353.8L354.93 354.2L341.4 354.81L340.14 355.4L338.6 357.49L337.4 357.95L325 358.79L317.4 359.59L316.2 360.25L314.71 362.2Z" fill="#4EB864" stroke="#ffffff" stroke-width="0.45" stroke-linejoin="round"/>
<path d="M321.4 347.02L312.6 347.05L311 346.63L308.2 345.45L307.4 344.72L306.6 343.41L303.8 337.55L302.6 334.48L299.8 322.76L297.47 310.6L296.4 307.4L294.4 303L293 297.49L289 278.69L286.13 262.6L285.25 254.2L285.01 242.6L285.4 239.97L286.03 238.2L287.07 236.6L288.29 235.8L291.4 235.56L295 235.8L298.6 237.08L303.8 238.49L306.6 239.57L308.91 240.2L310.76 241L317.7 245L321.61 247.8L325.8 252.44L328.38 255.8L333.29 267.4L337.66 273.8L341.93 281.4L342.85 283.4L344.88 293.4L345.02 303.8L343.76 311L341.34 317.8L340.4 321L340 333.4L339.74 335L338.63 336.6L336.08 339L333 341.51L329.4 344.06L326.2 345.83Z" fill="#70BE60" stroke="#ffffff" stroke-width="0.45" stroke-linejoin="round"/>
<path d="M324.2 335.81L313.8 336.13L310.6 335.91L309.4 335.59L308.6 334.91L307.4 332.87L305.31 328.2L303.4 323.3L302.6 320.68L300.45 311.8L299.03 307L298.17 304.6L295.8 299.4L293.4 291.41L289.4 275.08L287.63 265.8L287 261.72L286.33 255L286.03 248.2L286.09 243.4L286.41 241.4L287.16 239.4L288.2 238.07L289.4 237.44L291.4 237.22L295 237.4L297 237.94L302.08 239.8L306.2 241.58L310.6 243.78L315.96 247L317.99 248.6L322.16 253.8L324.19 257L326.28 261.4L328.6 268.05L333.07 277L336.73 283.4L338.51 293.8L338.11 301.8L337.82 304.2L333.31 315.8L331.71 320.6L329.79 327.4L327.71 333L327 334.36L326.2 335.2L325.4 335.6Z" fill="#93C75B" stroke="#ffffff" stroke-width="0.45" stroke-linejoin="round"/>
<path d="M318.2 322.21L313 322.37L310.2 322.23L309 321.97L308.2 321.34L307.55 320.2L307 318.68L304.83 311L301.46 304.2L298.56 299.4L296.6 294.6L294.2 287.28L290.3 273.4L289 267.29L288.03 261.4L287.4 255L287.16 249.8L287.29 243.8L287.61 242.2L288.2 240.96L289.12 239.8L290.2 239.18L291.4 239.01L294.2 239.01L295.8 239.17L297 239.51L303 242.58L308.2 244.79L311.21 246.6L314.96 249.8L317.7 253L320.4 257.4L322.66 262.2L324.28 267.8L326.24 273.4L328.96 283L329.62 288.6L330 293.8L329.31 298.2L328.35 302.2L322.45 319.4L321.8 320.75L321 321.66L320.2 322.03Z" fill="#B4D154" stroke="#ffffff" stroke-width="0.45" stroke-linejoin="round"/>
<path d="M314.6 312.2L311.4 312.2L309.8 311.88L308.6 310.79L306.92 308.6L304.19 303.8L300.2 298.06L299 295.91L297.98 293.4L293.8 280.85L291.28 272.6L289.97 267L289.02 261.8L288.35 255L288.07 248.2L288.5 243.8L288.89 242.6L289.4 241.78L290.2 241.04L291 240.68L294.6 240.51L296.6 240.82L301.4 243.4L306.97 245.8L309.61 247.4L311.73 249.4L316.13 254.6L319.9 262.2L324.88 283L325.56 293.4L325.09 295.4L321.65 305.4L319.8 309.48L318.6 311.18L317.8 311.81L317 312.06Z" fill="#D2D94B" stroke="#ffffff" stroke-width="0.45" stroke-linejoin="round"/>
<path d="M315.8 306.35L314.2 306.54L310.6 306.54L309.4 306.34L308.6 305.91L307.8 305.06L300.65 294.6L299.63 292.6L293 273.83L291.4 268.27L290.15 262.6L289.39 255L289.16 247.8L289.48 245.8L290.08 243.8L290.6 242.93L291.4 242.35L292.2 242.14L294.2 242.07L296.6 242.4L300.2 244.28L305.4 246.55L307.5 247.8L310.2 250.41L313.53 254.6L315.07 257.4L316.83 261.4L319.48 272.6L320.72 282.6L320.77 284.2L320.1 293L318.13 303.4L317.7 304.6L317.17 305.4L316.6 305.94Z" fill="#EDE045" stroke="#ffffff" stroke-width="0.45" stroke-linejoin="round"/>
<path d="M311 300.64L309.4 300.67L308.6 300.36L307.8 299.74L305.4 297.26L302.06 292.2L300.6 289.12L294.6 273.87L293.4 270.4L291.83 265L291.13 261.8L290.34 249.4L290.42 247.8L291 245.92L291.8 244.73L292.65 244.2L294.6 243.9L296.6 244.17L303.32 247L305.4 248.24L308.6 251.37L311.3 254.6L314.67 261.8L315.8 266.76L316.76 272.6L316.88 283.4L315.24 293.4L314.53 296.2L313.8 297.98L313 299.24L312.2 300.04Z" fill="#F8CD3E" stroke="#ffffff" stroke-width="0.45" stroke-linejoin="round"/>
<path d="M309.8 294.23L307.8 294.21L306.2 293.67L305.4 292.85L303 289.19L302.07 287.4L300.44 283L298.26 278.2L293.8 266.8L292.66 263L292.37 261.4L291.84 249.4L291.94 248.2L292.25 247.4L292.95 246.6L293.8 246.15L295.8 245.99L298.6 246.59L301.68 247.8L303.54 249L307.8 253.24L309.25 255L312.17 261.8L313.88 271.8L313.93 273.8L311.76 291.4L311.4 292.86L311 293.59L310.6 293.95Z" fill="#F9B03A" stroke="#ffffff" stroke-width="0.45" stroke-linejoin="round"/>
<path d="M307.8 287.16L306.6 287.28L305.4 286.83L303.8 285.66L303 284.64L299.3 276.2L294.32 263.4L293.83 261L293.65 254.2L294.11 249.8L294.44 249L295 248.56L297 248.27L299 248.59L301 249.65L302.6 250.92L306.6 255.02L309.34 261.8L309.71 263.4L310.14 267L309.93 273L309.98 282.6L309.72 284.2L309.1 285.8L308.6 286.57Z" fill="#F7923A" stroke="#ffffff" stroke-width="0.45" stroke-linejoin="round"/>
<path d="M305 280L304.2 280.13L303.4 279.66L301 275.88L297.8 268.57L295.72 262.2L295.29 257.4L295.32 254.6L295.65 253.4L296.2 252.34L296.6 251.9L297.4 251.48L299 251.55L300.6 252.2L301.8 253.07L303.3 254.6L304.39 256.6L306.49 263.4L307.32 267.4L307.43 273.4L307.1 275.8L306.6 277.8L305.8 279.32Z" fill="#F26A2E" stroke="#ffffff" stroke-width="0.45" stroke-linejoin="round"/>
<path d="M301 264.66L300.6 264.91L299.8 264.91L299 264.13L298.51 263L298.31 261.8L298.42 260.6L298.85 259.4L299.4 258.85L299.8 258.79L300.6 259.19L301.29 260.2L301.73 261.4L301.78 263L301.4 264.14Z" fill="#EA1E2C" stroke="#ffffff" stroke-width="0.45" stroke-linejoin="round"/>
<line x1="283.5" y1="268.7" x2="447.2" y2="384.5" stroke="#4d4d4d" stroke-width="0.8"/>
<line x1="271.6" y1="213.8" x2="271.6" y2="395.4" stroke="#111" stroke-width="1.1"/>
<line x1="271.1" y1="394.9" x2="461" y2="394.9" stroke="#111" stroke-width="1.1"/>
<text x="268.8" y="386" font-size="6.5" fill="#6b6b6b" text-anchor="end">0.00</text>
<text x="268.8" y="346.5" font-size="6.5" fill="#6b6b6b" text-anchor="end">0.25</text>
<text x="268.8" y="307" font-size="6.5" fill="#6b6b6b" text-anchor="end">0.50</text>
<text x="268.8" y="267.5" font-size="6.5" fill="#6b6b6b" text-anchor="end">0.75</text>
<text x="268.8" y="228" font-size="6.5" fill="#6b6b6b" text-anchor="end">1.00</text>
<text x="270.4" y="403.6" font-size="6.5" fill="#6b6b6b" text-anchor="middle">0.0</text>
<text x="317" y="403.6" font-size="6.5" fill="#6b6b6b" text-anchor="middle">0.5</text>
<text x="363.6" y="403.6" font-size="6.5" fill="#6b6b6b" text-anchor="middle">1.0</text>
<text x="410.2" y="403.6" font-size="6.5" fill="#6b6b6b" text-anchor="middle">1.5</text>
<text x="456.8" y="403.6" font-size="6.5" fill="#6b6b6b" text-anchor="middle">2.0</text>
<text x="367.5" y="221.6" font-size="8.85" fill="#1a1a1a" text-anchor="middle" stroke="#1a1a1a" stroke-width="0.2">Spearman rho = -0.49, P = 6.31e-121</text>
<text x="252.5" y="309" font-size="10.4" fill="#1a1a1a" text-anchor="middle" transform="rotate(-90 252.5 309)" stroke="#1a1a1a" stroke-width="0.2">|kME|</text>
<text x="364.5" y="413.2" font-size="10.4" fill="#1a1a1a" text-anchor="middle" stroke="#1a1a1a" stroke-width="0.2">|EffectSize|</text>
<text x="245.6" y="222.6" font-size="17.6" fill="#1a1a1a" stroke="#1a1a1a" stroke-width="0.2">C</text>
</g>
<g id="panelD">
<line x1="500" y1="380.2" x2="664.9" y2="300.5" stroke="#2A8CA0" stroke-width="1.9"/>
<circle cx="516.02" cy="374.96" r="10.2" fill="#2A8CA0"/>
<circle cx="516.02" cy="364.47" r="5.6" fill="#2A8CA0"/>
<circle cx="532.54" cy="364.47" r="5.3" fill="#2A8CA0"/>
<circle cx="532.54" cy="374.96" r="3" fill="#2A8CA0"/>
<circle cx="516.02" cy="353.98" r="2.3" fill="#2A8CA0"/>
<circle cx="532.54" cy="353.98" r="2.6" fill="#2A8CA0"/>
<circle cx="516.02" cy="343.49" r="1.35" fill="#2A8CA0"/>
<circle cx="532.54" cy="343.49" r="1.45" fill="#2A8CA0"/>
<circle cx="549.06" cy="364.47" r="1.35" fill="#2A8CA0"/>
<circle cx="549.06" cy="353.98" r="1.15" fill="#2A8CA0"/>
<circle cx="549.06" cy="343.49" r="0.95" fill="#2A8CA0"/>
<circle cx="516.02" cy="333" r="1.05" fill="#2A8CA0"/>
<circle cx="532.54" cy="333" r="1.05" fill="#2A8CA0"/>
<circle cx="549.06" cy="333" r="0.9" fill="#2A8CA0"/>
<circle cx="516.02" cy="322.51" r="0.85" fill="#2A8CA0"/>
<circle cx="532.54" cy="322.51" r="0.85" fill="#2A8CA0"/>
<circle cx="549.06" cy="322.51" r="0.85" fill="#2A8CA0"/>
<circle cx="565.58" cy="322.51" r="0.65" fill="#2A8CA0"/>
<circle cx="532.54" cy="312.02" r="0.7" fill="#2A8CA0"/>
<circle cx="549.06" cy="374.96" r="0.85" fill="#2A8CA0"/>
<circle cx="565.58" cy="374.96" r="0.75" fill="#2A8CA0"/>
<circle cx="532.54" cy="301.53" r="0.65" fill="#2A8CA0"/>
<circle cx="516.02" cy="312.02" r="0.8" fill="#6DB7C6"/>
<circle cx="549.06" cy="312.02" r="0.75" fill="#6DB7C6"/>
<circle cx="516.02" cy="301.53" r="0.7" fill="#6DB7C6"/>
<circle cx="516.02" cy="291.04" r="0.75" fill="#6DB7C6"/>
<circle cx="516.02" cy="280.55" r="0.7" fill="#6DB7C6"/>
<circle cx="516.02" cy="270.06" r="0.8" fill="#6DB7C6"/>
<circle cx="516.02" cy="249.08" r="0.75" fill="#6DB7C6"/>
<circle cx="565.58" cy="353.98" r="0.6" fill="#6DB7C6"/>
<circle cx="565.58" cy="343.49" r="0.6" fill="#6DB7C6"/>
<circle cx="598.62" cy="353.98" r="0.6" fill="#6DB7C6"/>
<text x="638.3" y="233.2" font-size="8.2" fill="#1a1a1a" text-anchor="middle" stroke="#1a1a1a" stroke-width="0.2">Gene count</text>
<circle cx="626.3" cy="240.9" r="5.3" fill="#2A8CA0"/>
<text x="639.8" y="243.6" font-size="7.6" fill="#1a1a1a" stroke="#1a1a1a" stroke-width="0.2">4000</text>
<circle cx="626.3" cy="254.7" r="6.9" fill="#2A8CA0"/>
<text x="639.8" y="257.4" font-size="7.6" fill="#1a1a1a" stroke="#1a1a1a" stroke-width="0.2">8000</text>
<circle cx="626.3" cy="272.2" r="8.6" fill="#2A8CA0"/>
<text x="639.8" y="274.9" font-size="7.6" fill="#1a1a1a" stroke="#1a1a1a" stroke-width="0.2">12000</text>
<circle cx="626.3" cy="292.3" r="9.8" fill="#2A8CA0"/>
<text x="639.8" y="295" font-size="7.6" fill="#1a1a1a" stroke="#1a1a1a" stroke-width="0.2">16000</text>
<line x1="494.5" y1="222.5" x2="494.5" y2="391" stroke="#111" stroke-width="1.2"/>
<line x1="493.9" y1="390.4" x2="673.5" y2="390.4" stroke="#111" stroke-width="1.2"/>
<text x="491.4" y="377.56" font-size="7.3" fill="#555" text-anchor="end">1</text>
<text x="491.4" y="367.07" font-size="7.3" fill="#555" text-anchor="end">2</text>
<text x="491.4" y="356.58" font-size="7.3" fill="#555" text-anchor="end">3</text>
<text x="491.4" y="346.09" font-size="7.3" fill="#555" text-anchor="end">4</text>
<text x="491.4" y="335.6" font-size="7.3" fill="#555" text-anchor="end">5</text>
<text x="491.4" y="325.11" font-size="7.3" fill="#555" text-anchor="end">6</text>
<text x="491.4" y="314.62" font-size="7.3" fill="#555" text-anchor="end">7</text>
<text x="491.4" y="304.13" font-size="7.3" fill="#555" text-anchor="end">8</text>
<text x="491.4" y="293.64" font-size="7.3" fill="#555" text-anchor="end">9</text>
<text x="491.4" y="283.15" font-size="7.3" fill="#555" text-anchor="end">10</text>
<text x="491.4" y="272.66" font-size="7.3" fill="#555" text-anchor="end">11</text>
<text x="491.4" y="262.17" font-size="7.3" fill="#555" text-anchor="end">12</text>
<text x="491.4" y="251.68" font-size="7.3" fill="#555" text-anchor="end">13</text>
<text x="491.4" y="241.19" font-size="7.3" fill="#555" text-anchor="end">14</text>
<text x="491.4" y="230.7" font-size="7.3" fill="#555" text-anchor="end">15</text>
<text x="516.02" y="399.2" font-size="7.3" fill="#555" text-anchor="middle">1</text>
<text x="532.54" y="399.2" font-size="7.3" fill="#555" text-anchor="middle">2</text>
<text x="549.06" y="399.2" font-size="7.3" fill="#555" text-anchor="middle">3</text>
<text x="565.58" y="399.2" font-size="7.3" fill="#555" text-anchor="middle">4</text>
<text x="582.1" y="399.2" font-size="7.3" fill="#555" text-anchor="middle">5</text>
<text x="598.62" y="399.2" font-size="7.3" fill="#555" text-anchor="middle">6</text>
<text x="615.14" y="399.2" font-size="7.3" fill="#555" text-anchor="middle">7</text>
<text x="631.66" y="399.2" font-size="7.3" fill="#555" text-anchor="middle">8</text>
<text x="648.18" y="399.2" font-size="7.3" fill="#555" text-anchor="middle">9</text>
<text x="664.7" y="399.2" font-size="7.3" fill="#555" text-anchor="middle">10</text>
<text x="586" y="221.4" font-size="8.85" fill="#1a1a1a" text-anchor="middle" stroke="#1a1a1a" stroke-width="0.2">Spearman rho = 0.54, P = 7.31e-33</text>
<text x="479.8" y="304.8" font-size="9.75" fill="#1a1a1a" text-anchor="middle" transform="rotate(-90 479.8 304.8)" stroke="#1a1a1a" stroke-width="0.2">Number of independent cis−eQTL</text>
<text x="594.4" y="408.2" font-size="9.82" fill="#1a1a1a" text-anchor="middle" stroke="#1a1a1a" stroke-width="0.2">Number of SuSiE credible sets</text>
<text x="468.4" y="225.6" font-size="17.6" fill="#1a1a1a" stroke="#1a1a1a" stroke-width="0.2">D</text>
</g>
<g id="panelE">
<line x1="29.3" y1="541.9" x2="213" y2="541.9" stroke="#1a1a1a" stroke-width="1.5" stroke-dasharray="1.15 0.65"/>
<path d="M35.03 437.23L35.55 473.25L36.08 488.66L36.6 496.86L37.13 502.44L37.66 507.03L38.18 510.97L38.71 514.25L39.23 516.87L39.76 519.17L40.29 521.14L40.81 522.78L41.34 524.22L41.86 525.4L42.39 526.38L42.92 527.37L43.44 528.16L43.97 528.81L44.49 529.34L45.02 529.86L45.55 531.12L46.07 528.69L46.6 529.74L47.12 529.56L47.65 529.97L48.18 531.86L48.7 532.34L49.23 530.66L49.75 532.38L50.28 532.74L50.81 531.34L51.33 532.77L51.86 533.61L52.38 534.56L52.91 534.44L53.44 535.57L53.96 534.83L54.49 534.58L55.01 535.37L55.54 535.14L56.07 535.41L56.59 536.56L57.12 535.56L57.64 535.95L58.17 536.53L58.7 537.04L59.22 535.9L59.75 536.59L60.27 536.34L60.8 536.22L61.33 536.55L61.85 536.37L62.38 537.16L62.9 536.71L63.43 537.26L63.96 536.72L64.48 536.87L65.01 537.9L65.53 537.92L66.06 537.89L66.59 537.08L67.11 537.76L67.64 537.6L68.16 538.03L68.69 537.86L69.22 538.04L69.74 538.13L70.27 537.94L70.79 537.99L71.32 537.72L71.85 538L72.37 537.8L72.9 537.93L73.42 537.85L73.95 538.2L74.48 538.72L75 538.11L75.53 538.06L76.05 538.16L76.58 538.51L77.11 538.42L77.63 538.9L78.16 538.39L78.68 538.65L79.21 538.93L79.74 539.15L80.26 538.52L80.79 538.45L81.31 539.21L81.84 538.67L82.37 539.01L82.89 539.24L83.42 539.16L83.94 538.82L84.47 538.77L85 539.43L85.52 539.02L86.05 539.47L86.57 539L87.1 539.31" fill="none" stroke="#2C93A8" stroke-width="1.3" stroke-linejoin="round"/>
<path d="M35.03 437.23h0M35.55 473.25h0M36.08 488.66h0M36.6 496.86h0M37.13 502.44h0M37.66 507.03h0M38.18 510.97h0M38.71 514.25h0M39.23 516.87h0M39.76 519.17h0M40.29 521.14h0M40.81 522.78h0M41.34 524.22h0M41.86 525.4h0M42.39 526.38h0M42.92 527.37h0M43.44 528.16h0M43.97 528.81h0M44.49 529.34h0M45.02 529.86h0M45.55 531.12h0M46.07 528.69h0M46.6 529.74h0M47.12 529.56h0M47.65 529.97h0M48.18 531.86h0M48.7 532.34h0M49.23 530.66h0M49.75 532.38h0M50.28 532.74h0M50.81 531.34h0M51.33 532.77h0M51.86 533.61h0M52.38 534.56h0M52.91 534.44h0M53.44 535.57h0M53.96 534.83h0M54.49 534.58h0M55.01 535.37h0M55.54 535.14h0M56.07 535.41h0M56.59 536.56h0M57.12 535.56h0M57.64 535.95h0M58.17 536.53h0M58.7 537.04h0M59.22 535.9h0M59.75 536.59h0M60.27 536.34h0M60.8 536.22h0M61.33 536.55h0M61.85 536.37h0M62.38 537.16h0M62.9 536.71h0M63.43 537.26h0M63.96 536.72h0M64.48 536.87h0M65.01 537.9h0M65.53 537.92h0M66.06 537.89h0M66.59 537.08h0M67.11 537.76h0M67.64 537.6h0M68.16 538.03h0M68.69 537.86h0M69.22 538.04h0M69.74 538.13h0M70.27 537.94h0M70.79 537.99h0M71.32 537.72h0M71.85 538h0M72.37 537.8h0M72.9 537.93h0M73.42 537.85h0M73.95 538.2h0M74.48 538.72h0M75 538.11h0M75.53 538.06h0M76.05 538.16h0M76.58 538.51h0M77.11 538.42h0M77.63 538.9h0M78.16 538.39h0M78.68 538.65h0M79.21 538.93h0M79.74 539.15h0M80.26 538.52h0M80.79 538.45h0M81.31 539.21h0M81.84 538.67h0M82.37 539.01h0M82.89 539.24h0M83.42 539.16h0M83.94 538.82h0M84.47 538.77h0M85 539.43h0M85.52 539.02h0M86.05 539.47h0M86.57 539h0M87.1 539.31h0" fill="none" stroke="#2C93A8" stroke-width="3.5" stroke-linecap="round"/>
<path d="M92.2 539.24L93.15 539.46L94.1 539.38L95.05 539.77L96 539.57L96.95 539.58L97.9 539.96L98.85 539.79L99.8 539.98L100.75 540.18L101.7 540.37L102.65 540.23L103.6 540.25L104.55 540.74L105.5 540.53L106.45 540.91L107.4 540.94L108.35 540.74L109.3 540.83L110.25 540.91L111.2 541.01L112.15 541.03L113.1 541.05L114.05 541.12L115 541.31L115.95 541.12L116.9 541.11L117.85 541.29L118.8 541.07L119.75 541.12L120.7 541.48L121.65 541.28L122.6 541.31L123.55 541.06L124.5 541.28L125.45 541.37L126.4 541.11L127.35 541.42L128.3 541.44L129.25 541.16L130.2 541.46L131.15 541.39L132.1 541.5L133.05 541.35L134 541.53L134.95 541.56L135.9 541.21L136.85 541.23L137.8 541.54L138.75 541.69L139.7 541.34L140.65 541.45L141.6 541.52L142.55 541.39L143.5 541.42L144.45 541.39L145.4 541.43L146.35 541.54L147.3 541.4L148.25 541.44L149.2 541.64L150.15 541.27" fill="none" stroke="#2C93A8" stroke-width="3.0" stroke-linecap="round" stroke-linejoin="round"/>
<path d="M154.6 541.8L194 541.9" fill="none" stroke="#2C93A8" stroke-width="3.0" stroke-linecap="round"/>
<path d="M196.5 541.8L204.5 541.8M207.2 541.8L209.6 541.8M211.6 541.8L212.3 541.8" fill="none" stroke="#2C93A8" stroke-width="2.2" stroke-linecap="round"/>
<line x1="194" y1="541.8" x2="212.5" y2="541.8" stroke="#2C93A8" stroke-width="0.9"/>
<line x1="40.6" y1="437.2" x2="55.8" y2="437.2" stroke="#222" stroke-width="1.1"/>
<path d="M37.7 437.2L41.6 435.3L41.6 439.1Z" fill="#111"/>
<text x="59.7" y="434.8" font-size="9.93" fill="#222" stroke="#222" stroke-width="0.2">1,612 eQTLs with a single</text>
<text x="59.7" y="446.5" font-size="9.93" fill="#222" stroke="#222" stroke-width="0.2">causal variant in credible set</text>
<line x1="29.3" y1="410" x2="29.3" y2="548.8" stroke="#1a1a1a" stroke-width="1.2"/>
<line x1="26.6" y1="541.8" x2="29.3" y2="541.8" stroke="#1a1a1a" stroke-width="1"/>
<text x="25.7" y="544.7" font-size="8.2" fill="#1a1a1a" text-anchor="end" font-weight="bold" textLength="4.06" lengthAdjust="spacingAndGlyphs">0</text>
<line x1="26.6" y1="509" x2="29.3" y2="509" stroke="#1a1a1a" stroke-width="1"/>
<text x="25.7" y="511.9" font-size="8.2" fill="#1a1a1a" text-anchor="end" font-weight="bold" textLength="12.18" lengthAdjust="spacingAndGlyphs">500</text>
<line x1="26.6" y1="476.2" x2="29.3" y2="476.2" stroke="#1a1a1a" stroke-width="1"/>
<text x="25.7" y="479.1" font-size="8.2" fill="#1a1a1a" text-anchor="end" font-weight="bold" textLength="16.24" lengthAdjust="spacingAndGlyphs">1000</text>
<line x1="26.6" y1="443.4" x2="29.3" y2="443.4" stroke="#1a1a1a" stroke-width="1"/>
<text x="25.7" y="446.3" font-size="8.2" fill="#1a1a1a" text-anchor="end" font-weight="bold" textLength="16.24" lengthAdjust="spacingAndGlyphs">1500</text>
<line x1="26.6" y1="410.6" x2="29.3" y2="410.6" stroke="#1a1a1a" stroke-width="1"/>
<text x="25.7" y="413.5" font-size="8.2" fill="#1a1a1a" text-anchor="end" font-weight="bold" textLength="16.24" lengthAdjust="spacingAndGlyphs">2000</text>
<line x1="28.7" y1="548.2" x2="87.6" y2="548.2" stroke="#1a1a1a" stroke-width="1.2"/>
<line x1="92" y1="548.2" x2="151.6" y2="548.2" stroke="#1a1a1a" stroke-width="1.2"/>
<line x1="155.2" y1="548.2" x2="212.6" y2="548.2" stroke="#1a1a1a" stroke-width="1.2"/>
<line x1="87" y1="550" x2="88.8" y2="546.2" stroke="#1a1a1a" stroke-width="0.9"/>
<line x1="90.7" y1="550" x2="92.5" y2="546.2" stroke="#1a1a1a" stroke-width="0.9"/>
<line x1="150.7" y1="550" x2="152.5" y2="546.2" stroke="#1a1a1a" stroke-width="0.9"/>
<line x1="154.3" y1="550" x2="156.1" y2="546.2" stroke="#1a1a1a" stroke-width="0.9"/>
<line x1="34.5" y1="548.2" x2="34.5" y2="551.4" stroke="#1a1a1a" stroke-width="1"/>
<text x="34.5" y="558.6" font-size="8.2" fill="#1a1a1a" text-anchor="middle" font-weight="bold" textLength="4" lengthAdjust="spacingAndGlyphs">0</text>
<line x1="87.3" y1="548.2" x2="87.3" y2="551.4" stroke="#1a1a1a" stroke-width="1"/>
<text x="88.6" y="558.6" font-size="8.2" fill="#1a1a1a" text-anchor="middle" font-weight="bold" textLength="12.01" lengthAdjust="spacingAndGlyphs">100</text>
<line x1="47.65" y1="548.2" x2="47.65" y2="550.2" stroke="#1a1a1a" stroke-width="0.9"/>
<line x1="60.8" y1="548.2" x2="60.8" y2="550.2" stroke="#1a1a1a" stroke-width="0.9"/>
<line x1="73.95" y1="548.2" x2="73.95" y2="550.2" stroke="#1a1a1a" stroke-width="0.9"/>
<line x1="98.6" y1="548.2" x2="98.6" y2="550.2" stroke="#1a1a1a" stroke-width="0.9"/>
<line x1="111.6" y1="548.2" x2="111.6" y2="550.2" stroke="#1a1a1a" stroke-width="0.9"/>
<line x1="124.6" y1="548.2" x2="124.6" y2="550.2" stroke="#1a1a1a" stroke-width="0.9"/>
<line x1="137.6" y1="548.2" x2="137.6" y2="550.2" stroke="#1a1a1a" stroke-width="0.9"/>
<line x1="169" y1="548.2" x2="169" y2="550.2" stroke="#1a1a1a" stroke-width="0.9"/>
<line x1="181.5" y1="548.2" x2="181.5" y2="550.2" stroke="#1a1a1a" stroke-width="0.9"/>
<line x1="206" y1="548.2" x2="206" y2="550.2" stroke="#1a1a1a" stroke-width="0.9"/>
<line x1="193.5" y1="548.2" x2="193.5" y2="551.4" stroke="#1a1a1a" stroke-width="1"/>
<text x="152.2" y="558.6" font-size="8.2" fill="#1a1a1a" text-anchor="middle" font-weight="bold" textLength="16.02" lengthAdjust="spacingAndGlyphs">1000</text>
<text x="193.4" y="558.6" font-size="8.2" fill="#1a1a1a" text-anchor="middle" font-weight="bold" textLength="16.02" lengthAdjust="spacingAndGlyphs">3000</text>
<text x="124.8" y="567.2" font-size="9.75" fill="#1a1a1a" text-anchor="middle" textLength="86.16" lengthAdjust="spacingAndGlyphs" stroke="#1a1a1a" stroke-width="0.2">Number of variants</text>
<text x="6.5" y="474.6" font-size="9.3" fill="#222" text-anchor="middle" transform="rotate(-90 6.5 474.6)" stroke="#222" stroke-width="0.1">Number of credible sets</text>
<text x="-0.4" y="405" font-size="17.6" fill="#1a1a1a" textLength="10.7" lengthAdjust="spacingAndGlyphs" stroke="#1a1a1a" stroke-width="0.2">E</text>
</g>
<g id="panelF">
<path d="M24.4 721.64C24.55 721.34 24.55 720.23 25.28 719.79C26.02 719.34 27.49 718.99 28.82 718.99C30.15 718.99 31.03 719.57 33.24 719.79C35.45 720.01 39.13 720.32 42.08 720.32C45.03 720.32 47.97 719.96 50.92 719.79C53.87 719.61 56.81 719.52 59.76 719.26C62.71 718.99 65.65 718.59 68.6 718.19C71.55 717.8 74.49 717.49 77.44 716.87C80.39 716.25 84.07 715.23 86.28 714.48C88.49 713.72 89.23 713.37 90.7 712.35C92.17 711.33 93.79 709.83 95.12 708.37C96.45 706.91 97.61 705.36 98.66 703.59C99.7 701.82 100.51 700.05 101.4 697.75C102.28 695.45 103.24 692.53 103.96 689.78C104.68 687.04 105.23 684.39 105.73 681.29C106.23 678.19 106.52 674.65 106.97 671.2C107.41 667.75 107.95 664.56 108.38 660.58C108.81 656.6 109.22 652.17 109.53 647.3C109.84 642.44 110.02 636.68 110.24 631.38C110.46 626.07 110.63 620.98 110.86 615.44C111.08 609.91 111.33 603.28 111.56 598.19C111.8 593.1 112.06 587.61 112.27 584.91C112.48 582.21 112.62 581.99 112.8 581.99C112.98 581.99 113.12 582.21 113.33 584.91C113.54 587.61 113.8 593.1 114.04 598.19C114.27 603.28 114.52 609.91 114.74 615.44C114.97 620.98 115.14 626.07 115.36 631.38C115.58 636.68 115.76 642.44 116.07 647.3C116.38 652.17 116.79 656.6 117.22 660.58C117.65 664.56 118.19 667.75 118.63 671.2C119.08 674.65 119.37 678.19 119.87 681.29C120.37 684.39 120.92 687.04 121.64 689.78C122.36 692.53 123.32 695.45 124.2 697.75C125.09 700.05 125.9 701.82 126.94 703.59C127.99 705.36 129.15 706.91 130.48 708.37C131.81 709.83 133.43 711.33 134.9 712.35C136.37 713.37 137.11 713.72 139.32 714.48C141.53 715.23 145.21 716.25 148.16 716.87C151.11 717.49 154.05 717.8 157 718.19C159.95 718.59 162.89 718.99 165.84 719.26C168.79 719.52 171.73 719.61 174.68 719.79C177.63 719.96 180.57 720.32 183.52 720.32C186.47 720.32 190.15 720.01 192.36 719.79C194.57 719.57 195.45 718.99 196.78 718.99C198.11 718.99 199.58 719.34 200.32 719.79C201.05 720.23 201.05 721.34 201.2 721.64" fill="none" stroke="#DA3E52" stroke-width="1.25" stroke-linejoin="round" stroke-linecap="round"/>
<path d="M24.4 720.05C24.55 719.79 24.25 719.03 25.28 718.46C26.32 717.88 28.53 716.95 30.59 716.6C32.65 716.25 35.01 716.29 37.66 716.33C40.31 716.38 43.55 716.82 46.5 716.87C49.45 716.91 51.66 716.87 55.34 716.6C59.02 716.34 64.92 715.72 68.6 715.27C72.28 714.83 74.49 714.52 77.44 713.95C80.39 713.37 83.33 712.93 86.28 711.82C89.23 710.72 92.91 708.77 95.12 707.31C97.33 705.85 98.21 704.65 99.54 703.06C100.87 701.47 102.04 699.96 103.08 697.75C104.11 695.54 104.92 692.53 105.73 689.78C106.54 687.04 107.2 683.94 107.94 681.29C108.67 678.63 109.48 675.62 110.15 673.85C110.81 672.08 111.47 671.24 111.92 670.67C112.36 670.09 112.51 670.4 112.8 670.4C113.09 670.4 113.24 670.09 113.68 670.67C114.13 671.24 114.79 672.08 115.45 673.85C116.11 675.62 116.93 678.63 117.66 681.29C118.4 683.94 119.06 687.04 119.87 689.78C120.68 692.53 121.49 695.54 122.52 697.75C123.56 699.96 124.73 701.47 126.06 703.06C127.39 704.65 128.27 705.85 130.48 707.31C132.69 708.77 136.37 710.72 139.32 711.82C142.27 712.93 145.21 713.37 148.16 713.95C151.11 714.52 153.32 714.83 157 715.27C160.68 715.72 166.58 716.34 170.26 716.6C173.94 716.87 176.15 716.91 179.1 716.87C182.05 716.82 185.29 716.38 187.94 716.33C190.59 716.29 192.95 716.25 195.01 716.6C197.07 716.95 199.28 717.88 200.32 718.46C201.35 719.03 201.05 719.79 201.2 720.05" fill="none" stroke="#EF9A6B" stroke-width="1.25" stroke-linejoin="round" stroke-linecap="round"/>
<path d="M24.4 718.99C24.55 718.68 24.25 717.75 25.28 717.13C26.32 716.51 28.67 715.72 30.59 715.27C32.5 714.83 34.12 714.56 36.78 714.48C39.43 714.39 43.41 714.74 46.5 714.74C49.59 714.74 51.66 714.7 55.34 714.48C59.02 714.26 64.92 713.77 68.6 713.41C72.28 713.06 74.49 712.84 77.44 712.35C80.39 711.87 83.33 711.51 86.28 710.49C89.23 709.48 92.91 707.49 95.12 706.25C97.33 705.01 98.07 704.25 99.54 703.06C101.01 701.87 102.49 700.32 103.96 699.08C105.43 697.84 107.2 696.42 108.38 695.63C109.56 694.83 110.3 694.56 111.03 694.3C111.77 694.03 112.21 694.03 112.8 694.03C113.39 694.03 113.83 694.03 114.57 694.3C115.3 694.56 116.04 694.83 117.22 695.63C118.4 696.42 120.17 697.84 121.64 699.08C123.11 700.32 124.59 701.87 126.06 703.06C127.53 704.25 128.27 705.01 130.48 706.25C132.69 707.49 136.37 709.48 139.32 710.49C142.27 711.51 145.21 711.87 148.16 712.35C151.11 712.84 153.32 713.06 157 713.41C160.68 713.77 166.58 714.26 170.26 714.48C173.94 714.7 176.01 714.74 179.1 714.74C182.19 714.74 186.17 714.39 188.82 714.48C191.48 714.56 193.1 714.83 195.01 715.27C196.93 715.72 199.28 716.51 200.32 717.13C201.35 717.75 201.05 718.68 201.2 718.99" fill="none" stroke="#9BD5D6" stroke-width="1.25" stroke-linejoin="round" stroke-linecap="round"/>
<path d="M24.4 717.93C24.55 717.66 24.25 716.95 25.28 716.33C26.32 715.72 28.67 714.7 30.59 714.21C32.5 713.72 34.12 713.46 36.78 713.41C39.43 713.37 43.41 713.86 46.5 713.95C49.59 714.03 51.66 714.08 55.34 713.95C59.02 713.81 64.92 713.41 68.6 713.15C72.28 712.88 74.49 712.71 77.44 712.35C80.39 712 83.33 711.82 86.28 711.02C89.23 710.23 92.91 708.64 95.12 707.57C97.33 706.51 98.07 705.76 99.54 704.65C101.01 703.55 102.49 702.09 103.96 700.94C105.43 699.79 107.2 698.5 108.38 697.75C109.56 697 110.3 696.69 111.03 696.42C111.77 696.16 112.21 696.16 112.8 696.16C113.39 696.16 113.83 696.16 114.57 696.42C115.3 696.69 116.04 697 117.22 697.75C118.4 698.5 120.17 699.79 121.64 700.94C123.11 702.09 124.59 703.55 126.06 704.65C127.53 705.76 128.27 706.51 130.48 707.57C132.69 708.64 136.37 710.23 139.32 711.02C142.27 711.82 145.21 712 148.16 712.35C151.11 712.71 153.32 712.88 157 713.15C160.68 713.41 166.58 713.81 170.26 713.95C173.94 714.08 176.01 714.03 179.1 713.95C182.19 713.86 186.17 713.37 188.82 713.41C191.48 713.46 193.1 713.72 195.01 714.21C196.93 714.7 199.28 715.72 200.32 716.33C201.35 716.95 201.05 717.66 201.2 717.93" fill="none" stroke="#457B9D" stroke-width="1.25" stroke-linejoin="round" stroke-linecap="round"/>
<text x="24.2" y="581.9" font-size="7.9" fill="#1a1a1a" stroke="#1a1a1a" stroke-width="0.1">molQTL rank</text>
<rect x="38.7" y="585.3" width="6.9" height="6.6" fill="#fff" stroke="#DA3E52" stroke-width="1.25"/>
<text x="50.3" y="591.4" font-size="8.2" fill="#1a1a1a" stroke="#1a1a1a" stroke-width="0.1">1</text>
<rect x="38.7" y="594.1" width="6.9" height="6.6" fill="#fff" stroke="#EF9A6B" stroke-width="1.25"/>
<text x="50.3" y="600.2" font-size="8.2" fill="#1a1a1a" stroke="#1a1a1a" stroke-width="0.1">2</text>
<rect x="38.7" y="602.9" width="6.9" height="6.6" fill="#fff" stroke="#9BD5D6" stroke-width="1.25"/>
<text x="50.3" y="609" font-size="8.2" fill="#1a1a1a" stroke="#1a1a1a" stroke-width="0.1">3</text>
<rect x="38.7" y="611.7" width="6.9" height="6.6" fill="#fff" stroke="#457B9D" stroke-width="1.25"/>
<text x="49.6" y="617.7" font-size="7.6" fill="#9a9a9a">⩾</text>
<text x="55.6" y="617.8" font-size="8.2" fill="#1a1a1a" stroke="#1a1a1a" stroke-width="0.1">4</text>
<line x1="15.6" y1="575.4" x2="15.6" y2="731.3" stroke="#111" stroke-width="1.1"/>
<line x1="15.2" y1="730.7" x2="210" y2="730.7" stroke="#111" stroke-width="1.2"/>
<text x="12.9" y="726.6" font-size="6.4" fill="#6b6b6b" text-anchor="end">0</text>
<text x="12.9" y="673.5" font-size="6.4" fill="#6b6b6b" text-anchor="end">2</text>
<text x="12.9" y="620.4" font-size="6.4" fill="#6b6b6b" text-anchor="end">4</text>
<text x="24.4" y="737.4" font-size="6.4" fill="#6b6b6b" text-anchor="middle">−1.0</text>
<text x="68.6" y="737.4" font-size="6.4" fill="#6b6b6b" text-anchor="middle">−0.5</text>
<text x="112.8" y="737.4" font-size="6.4" fill="#6b6b6b" text-anchor="middle">0.0</text>
<text x="157" y="737.4" font-size="6.4" fill="#6b6b6b" text-anchor="middle">0.5</text>
<text x="201.2" y="737.4" font-size="6.4" fill="#6b6b6b" text-anchor="middle">1.0</text>
<text x="114.2" y="745.6" font-size="8.5" fill="#1a1a1a" text-anchor="middle" stroke="#1a1a1a" stroke-width="0.2">TSS(Mb)</text>
<text x="7.3" y="648" font-size="9.6" fill="#1a1a1a" text-anchor="middle" transform="rotate(-90 7.3 648)" stroke="#1a1a1a" stroke-width="0.2">Density</text>
<text x="-1.5" y="578.6" font-size="18.8" fill="#1a1a1a" textLength="10.9" lengthAdjust="spacingAndGlyphs" stroke="#1a1a1a" stroke-width="0.3">F</text>
</g>
<g id="panelG">
<rect x="290.9" y="422.3" width="171.8" height="16.5" fill="#E5E5E5"/>
<rect x="290.9" y="457.4" width="171.8" height="16.7" fill="#E5E5E5"/>
<rect x="290.9" y="492.4" width="171.8" height="16.5" fill="#E5E5E5"/>
<rect x="290.9" y="526.9" width="171.8" height="16.9" fill="#E5E5E5"/>
<rect x="290.9" y="562.7" width="171.8" height="16.6" fill="#E5E5E5"/>
<rect x="290.9" y="597.6" width="171.8" height="16.6" fill="#E5E5E5"/>
<rect x="290.9" y="632.3" width="171.8" height="16.5" fill="#E5E5E5"/>
<rect x="290.9" y="668" width="171.8" height="16.7" fill="#E5E5E5"/>
<rect x="290.9" y="702.8" width="171.8" height="17.2" fill="#E5E5E5"/>
<line x1="307.2" y1="422.6" x2="307.2" y2="720" stroke="#EC2B35" stroke-width="1.6" stroke-dasharray="3.3 2.5"/>
<circle cx="318.1" cy="424.8" r="2.6" fill="#457B9D"/>
<path d="M318.15 422.95L323.05 422.95L320.6 427.35Z" fill="#457B9D"/>
<circle cx="319.6" cy="428.1" r="2.6" fill="#9BD5D6"/>
<path d="M319.75 426.25L324.65 426.25L322.2 430.65Z" fill="#9BD5D6"/>
<circle cx="321.5" cy="431.5" r="2.6" fill="#EF9A6B"/>
<path d="M321.75 429.65L326.65 429.65L324.2 434.05Z" fill="#EF9A6B"/>
<circle cx="320.3" cy="435" r="2.6" fill="#DA3E52"/>
<path d="M321.15 433.15L326.05 433.15L323.6 437.55Z" fill="#DA3E52"/>
<circle cx="318.4" cy="443.2" r="2.6" fill="#457B9D"/>
<path d="M318.75 441.15L323.65 441.15L321.2 445.55Z" fill="#457B9D"/>
<circle cx="313.3" cy="446.1" r="2.6" fill="#9BD5D6"/>
<circle cx="318.6" cy="449.5" r="2.6" fill="#EF9A6B"/>
<path d="M320.15 447.65L325.05 447.65L322.6 452.05Z" fill="#EF9A6B"/>
<circle cx="317.5" cy="453" r="2.6" fill="#DA3E52"/>
<path d="M319.15 451.15L324.05 451.15L321.6 455.55Z" fill="#DA3E52"/>
<circle cx="301.4" cy="460.7" r="2.6" fill="#457B9D"/>
<path d="M302.75 461.55L307.65 461.55L305.2 465.95Z" fill="#9BD5D6"/>
<circle cx="304.2" cy="463.6" r="2.6" fill="#9BD5D6"/>
<path d="M299.75 465.15L304.65 465.15L302.2 469.55Z" fill="#EF9A6B"/>
<circle cx="303.2" cy="467" r="2.6" fill="#EF9A6B"/>
<circle cx="307.2" cy="470.7" r="2.6" fill="#DA3E52"/>
<path d="M326.95 468.85L331.85 468.85L329.4 473.25Z" fill="#DA3E52"/>
<circle cx="326.6" cy="478" r="2.6" fill="#457B9D"/>
<path d="M344.85 476.15L349.75 476.15L347.3 480.55Z" fill="#457B9D"/>
<circle cx="353.1" cy="481.5" r="2.6" fill="#9BD5D6"/>
<path d="M431.55 479.55L436.45 479.55L434 483.95Z" fill="#9BD5D6"/>
<path d="M309.95 482.75L314.85 482.75L312.4 487.15Z" fill="#EF9A6B"/>
<circle cx="340.8" cy="484.6" r="2.6" fill="#EF9A6B"/>
<circle cx="335.7" cy="487.8" r="2.6" fill="#DA3E52"/>
<path d="M386.85 485.85L391.75 485.85L389.3 490.25Z" fill="#DA3E52"/>
<circle cx="331.3" cy="496" r="2.6" fill="#457B9D"/>
<path d="M340.35 493.75L345.25 493.75L342.8 498.15Z" fill="#457B9D"/>
<path d="M306.15 496.95L311.05 496.95L308.6 501.35Z" fill="#9BD5D6"/>
<circle cx="309.5" cy="498.8" r="2.6" fill="#9BD5D6"/>
<circle cx="330.4" cy="502.2" r="2.6" fill="#EF9A6B"/>
<path d="M342.95 500.25L347.85 500.25L345.4 504.65Z" fill="#EF9A6B"/>
<circle cx="326.6" cy="505.6" r="2.6" fill="#DA3E52"/>
<path d="M333.85 503.75L338.75 503.75L336.3 508.15Z" fill="#DA3E52"/>
<circle cx="320.3" cy="513.6" r="2.6" fill="#457B9D"/>
<path d="M324.65 511.25L329.55 511.25L327.1 515.65Z" fill="#457B9D"/>
<path d="M297.05 514.65L301.95 514.65L299.5 519.05Z" fill="#9BD5D6"/>
<circle cx="330.4" cy="516.5" r="2.6" fill="#9BD5D6"/>
<circle cx="326.3" cy="519.9" r="2.6" fill="#EF9A6B"/>
<circle cx="321.1" cy="523.4" r="2.6" fill="#DA3E52"/>
<path d="M369.25 521.15L374.15 521.15L371.7 525.55Z" fill="#DA3E52"/>
<circle cx="321.6" cy="531.1" r="2.6" fill="#457B9D"/>
<path d="M327.15 529.15L332.05 529.15L329.6 533.55Z" fill="#457B9D"/>
<path d="M311.95 531.95L316.85 531.95L314.4 536.35Z" fill="#9BD5D6"/>
<circle cx="316.5" cy="534" r="2.6" fill="#9BD5D6"/>
<path d="M320.55 535.15L325.45 535.15L323 539.55Z" fill="#EF9A6B"/>
<circle cx="321.6" cy="537.2" r="2.6" fill="#EF9A6B"/>
<circle cx="320.6" cy="540.7" r="2.6" fill="#DA3E52"/>
<path d="M319.75 538.55L324.65 538.55L322.2 542.95Z" fill="#DA3E52"/>
<path d="M324.55 546.55L329.45 546.55L327 550.95Z" fill="#457B9D"/>
<circle cx="325.6" cy="548.8" r="2.6" fill="#457B9D"/>
<path d="M300.65 549.45L305.55 549.45L303.1 553.85Z" fill="#9BD5D6"/>
<circle cx="316.8" cy="551.3" r="2.6" fill="#9BD5D6"/>
<path d="M314.35 552.95L319.25 552.95L316.8 557.35Z" fill="#EF9A6B"/>
<circle cx="318.6" cy="555.1" r="2.6" fill="#EF9A6B"/>
<path d="M311.35 556.15L316.25 556.15L313.8 560.55Z" fill="#DA3E52"/>
<circle cx="315.3" cy="558.5" r="2.6" fill="#DA3E52"/>
<circle cx="317.6" cy="566" r="2.6" fill="#457B9D"/>
<path d="M327.15 564.15L332.05 564.15L329.6 568.55Z" fill="#457B9D"/>
<path d="M294.95 567.15L299.85 567.15L297.4 571.55Z" fill="#9BD5D6"/>
<circle cx="305.9" cy="569.1" r="2.6" fill="#9BD5D6"/>
<circle cx="316" cy="572.7" r="2.6" fill="#EF9A6B"/>
<path d="M325.55 570.75L330.45 570.75L328 575.15Z" fill="#EF9A6B"/>
<path d="M302.95 573.15L307.85 573.15L305.4 577.55Z" fill="#DA3E52"/>
<circle cx="314.2" cy="576.2" r="2.6" fill="#DA3E52"/>
<path d="M306.95 580.75L311.85 580.75L309.4 585.15Z" fill="#457B9D"/>
<circle cx="308.6" cy="582.9" r="2.6" fill="#457B9D"/>
<path d="M307.95 584.15L312.85 584.15L310.4 588.55Z" fill="#9BD5D6"/>
<circle cx="309.5" cy="586.2" r="2.6" fill="#9BD5D6"/>
<circle cx="310.6" cy="589.6" r="2.6" fill="#EF9A6B"/>
<path d="M309.95 587.55L314.85 587.55L312.4 591.95Z" fill="#EF9A6B"/>
<circle cx="311.3" cy="593.6" r="2.6" fill="#DA3E52"/>
<path d="M311.55 591.15L316.45 591.15L314 595.55Z" fill="#DA3E52"/>
<circle cx="325.6" cy="601" r="2.6" fill="#457B9D"/>
<path d="M324.95 598.75L329.85 598.75L327.4 603.15Z" fill="#457B9D"/>
<path d="M311.95 602.35L316.85 602.35L314.4 606.75Z" fill="#9BD5D6"/>
<circle cx="318.7" cy="604.5" r="2.6" fill="#9BD5D6"/>
<circle cx="325.6" cy="607.8" r="2.6" fill="#EF9A6B"/>
<path d="M325.15 605.65L330.05 605.65L327.6 610.05Z" fill="#EF9A6B"/>
<circle cx="323.8" cy="611.2" r="2.6" fill="#DA3E52"/>
<path d="M324.15 609.05L329.05 609.05L326.6 613.45Z" fill="#DA3E52"/>
<circle cx="307.8" cy="619" r="2.6" fill="#457B9D"/>
<path d="M307.15 616.55L312.05 616.55L309.6 620.95Z" fill="#457B9D"/>
<path d="M298.15 619.95L303.05 619.95L300.6 624.35Z" fill="#9BD5D6"/>
<circle cx="303.6" cy="622.1" r="2.6" fill="#9BD5D6"/>
<path d="M302.35 623.15L307.25 623.15L304.8 627.55Z" fill="#EF9A6B"/>
<circle cx="305.6" cy="625.3" r="2.6" fill="#EF9A6B"/>
<circle cx="305.4" cy="628.7" r="2.6" fill="#DA3E52"/>
<path d="M299.75 634.15L304.65 634.15L302.2 638.55Z" fill="#457B9D"/>
<circle cx="304.2" cy="636.4" r="2.6" fill="#457B9D"/>
<circle cx="310.7" cy="639.5" r="2.6" fill="#9BD5D6"/>
<path d="M312.55 637.55L317.45 637.55L315 641.95Z" fill="#9BD5D6"/>
<path d="M302.15 640.15L307.05 640.15L304.6 644.55Z" fill="#EF9A6B"/>
<circle cx="305.2" cy="642.6" r="2.6" fill="#EF9A6B"/>
<circle cx="305.6" cy="645.8" r="2.6" fill="#DA3E52"/>
<circle cx="315.5" cy="653.5" r="2.6" fill="#457B9D"/>
<path d="M314.35 651.55L319.25 651.55L316.8 655.95Z" fill="#457B9D"/>
<circle cx="318.2" cy="656.8" r="2.6" fill="#9BD5D6"/>
<path d="M319.15 654.65L324.05 654.65L321.6 659.05Z" fill="#9BD5D6"/>
<circle cx="319.5" cy="660.3" r="2.6" fill="#EF9A6B"/>
<path d="M321.15 658.15L326.05 658.15L323.6 662.55Z" fill="#EF9A6B"/>
<circle cx="318.7" cy="664.1" r="2.6" fill="#DA3E52"/>
<path d="M320.15 662.05L325.05 662.05L322.6 666.45Z" fill="#DA3E52"/>
<circle cx="330" cy="671.5" r="2.6" fill="#457B9D"/>
<path d="M330.15 669.15L335.05 669.15L332.6 673.55Z" fill="#457B9D"/>
<path d="M309.05 672.85L313.95 672.85L311.5 677.25Z" fill="#9BD5D6"/>
<circle cx="320.7" cy="674.8" r="2.6" fill="#9BD5D6"/>
<circle cx="328.8" cy="678" r="2.6" fill="#EF9A6B"/>
<path d="M329.15 675.75L334.05 675.75L331.6 680.15Z" fill="#EF9A6B"/>
<circle cx="327.1" cy="681.7" r="2.6" fill="#DA3E52"/>
<path d="M327.15 679.45L332.05 679.45L329.6 683.85Z" fill="#DA3E52"/>
<circle cx="330.3" cy="688.8" r="2.6" fill="#457B9D"/>
<path d="M333.45 686.65L338.35 686.65L335.9 691.05Z" fill="#457B9D"/>
<path d="M316.25 690.15L321.15 690.15L318.7 694.55Z" fill="#9BD5D6"/>
<circle cx="326" cy="692.1" r="2.6" fill="#9BD5D6"/>
<circle cx="329.6" cy="695.7" r="2.6" fill="#EF9A6B"/>
<path d="M329.15 693.55L334.05 693.55L331.6 697.95Z" fill="#EF9A6B"/>
<circle cx="328" cy="699.4" r="2.6" fill="#DA3E52"/>
<path d="M329.15 697.15L334.05 697.15L331.6 701.55Z" fill="#DA3E52"/>
<circle cx="316.8" cy="706.6" r="2.6" fill="#457B9D"/>
<path d="M316.35 704.15L321.25 704.15L318.8 708.55Z" fill="#457B9D"/>
<circle cx="317.9" cy="710" r="2.6" fill="#9BD5D6"/>
<path d="M321.55 707.75L326.45 707.75L324 712.15Z" fill="#9BD5D6"/>
<circle cx="320.3" cy="713.4" r="2.6" fill="#EF9A6B"/>
<path d="M325.95 710.75L330.85 710.75L328.4 715.15Z" fill="#EF9A6B"/>
<circle cx="318.4" cy="716.8" r="2.6" fill="#DA3E52"/>
<path d="M324.35 714.75L329.25 714.75L326.8 719.15Z" fill="#DA3E52"/>
<circle cx="363.2" cy="423.2" r="2.8" fill="#DA3E52"/>
<text x="372" y="425.8" font-size="6.7" fill="#1a1a1a" font-weight="bold" textLength="15.46" lengthAdjust="spacingAndGlyphs">eQTL</text>
<path d="M396.65 421.04L401.95 421.04L399.3 425.94Z" fill="#DA3E52"/>
<text x="408" y="425.8" font-size="6.7" fill="#1a1a1a" font-weight="bold" textLength="56.34" lengthAdjust="spacingAndGlyphs">Finemapped_eQTL</text>
<circle cx="363.2" cy="432.45" r="2.8" fill="#EF9A6B"/>
<text x="372" y="435.05" font-size="6.7" fill="#1a1a1a" font-weight="bold" textLength="18.82" lengthAdjust="spacingAndGlyphs">exQTL</text>
<path d="M396.65 430.29L401.95 430.29L399.3 435.19Z" fill="#EF9A6B"/>
<text x="408" y="435.05" font-size="6.7" fill="#1a1a1a" font-weight="bold" textLength="59.83" lengthAdjust="spacingAndGlyphs">Finemapped_exQTL</text>
<circle cx="363.2" cy="441.7" r="2.8" fill="#9BD5D6"/>
<text x="372" y="444.3" font-size="6.7" fill="#1a1a1a" font-weight="bold" textLength="19.16" lengthAdjust="spacingAndGlyphs">enQTL</text>
<path d="M396.65 439.54L401.95 439.54L399.3 444.44Z" fill="#9BD5D6"/>
<text x="408" y="444.3" font-size="6.7" fill="#1a1a1a" font-weight="bold" textLength="60.17" lengthAdjust="spacingAndGlyphs">Finemapped_enQTL</text>
<circle cx="363.2" cy="450.95" r="2.8" fill="#457B9D"/>
<text x="372" y="453.55" font-size="6.7" fill="#1a1a1a" font-weight="bold" textLength="15.46" lengthAdjust="spacingAndGlyphs">sQTL</text>
<path d="M396.65 448.79L401.95 448.79L399.3 453.69Z" fill="#457B9D"/>
<text x="408" y="453.55" font-size="6.7" fill="#1a1a1a" font-weight="bold" textLength="56.34" lengthAdjust="spacingAndGlyphs">Finemapped_sQTL</text>
<line x1="290.7" y1="422" x2="290.7" y2="720.9" stroke="#1a1a1a" stroke-width="1"/>
<line x1="287" y1="430.9" x2="290.7" y2="430.9" stroke="#1a1a1a" stroke-width="1"/>
<text x="286.2" y="433.7" font-size="8.2" fill="#1a1a1a" text-anchor="end" font-weight="bold" textLength="51.22" lengthAdjust="spacingAndGlyphs">upstream_gene</text>
<line x1="287" y1="448.45" x2="290.7" y2="448.45" stroke="#1a1a1a" stroke-width="1"/>
<text x="286.2" y="451.25" font-size="8.2" fill="#1a1a1a" text-anchor="end" font-weight="bold" textLength="42.74" lengthAdjust="spacingAndGlyphs">synonymous</text>
<line x1="287" y1="466" x2="290.7" y2="466" stroke="#1a1a1a" stroke-width="1"/>
<text x="286.2" y="468.8" font-size="8.2" fill="#1a1a1a" text-anchor="end" font-weight="bold" textLength="45.44" lengthAdjust="spacingAndGlyphs">stop_retained</text>
<line x1="287" y1="483.55" x2="290.7" y2="483.55" stroke="#1a1a1a" stroke-width="1"/>
<text x="286.2" y="486.35" font-size="8.2" fill="#1a1a1a" text-anchor="end" font-weight="bold" textLength="30.8" lengthAdjust="spacingAndGlyphs">stop_lost</text>
<line x1="287" y1="501.1" x2="290.7" y2="501.1" stroke="#1a1a1a" stroke-width="1"/>
<text x="286.2" y="503.9" font-size="8.2" fill="#1a1a1a" text-anchor="end" font-weight="bold" textLength="40.81" lengthAdjust="spacingAndGlyphs">stop_gained</text>
<line x1="287" y1="518.65" x2="290.7" y2="518.65" stroke="#1a1a1a" stroke-width="1"/>
<text x="286.2" y="521.45" font-size="8.2" fill="#1a1a1a" text-anchor="end" font-weight="bold" textLength="31.19" lengthAdjust="spacingAndGlyphs">start_lost</text>
<line x1="287" y1="536.2" x2="290.7" y2="536.2" stroke="#1a1a1a" stroke-width="1"/>
<text x="286.2" y="539" font-size="8.2" fill="#1a1a1a" text-anchor="end" font-weight="bold" textLength="44.67" lengthAdjust="spacingAndGlyphs">splice_region</text>
<line x1="287" y1="553.75" x2="290.7" y2="553.75" stroke="#1a1a1a" stroke-width="1"/>
<text x="286.2" y="556.55" font-size="8.2" fill="#1a1a1a" text-anchor="end" font-weight="bold" textLength="43.13" lengthAdjust="spacingAndGlyphs">splice_donor</text>
<line x1="287" y1="571.3" x2="290.7" y2="571.3" stroke="#1a1a1a" stroke-width="1"/>
<text x="286.2" y="574.1" font-size="8.2" fill="#1a1a1a" text-anchor="end" font-weight="bold" textLength="52.38" lengthAdjust="spacingAndGlyphs">splice_acceptor</text>
<line x1="287" y1="588.85" x2="290.7" y2="588.85" stroke="#1a1a1a" stroke-width="1"/>
<line x1="287" y1="606.4" x2="290.7" y2="606.4" stroke="#1a1a1a" stroke-width="1"/>
<text x="286.2" y="609.2" font-size="8.2" fill="#1a1a1a" text-anchor="end" font-weight="bold" textLength="31.59" lengthAdjust="spacingAndGlyphs">missense</text>
<line x1="287" y1="623.95" x2="290.7" y2="623.95" stroke="#1a1a1a" stroke-width="1"/>
<text x="286.2" y="626.75" font-size="8.2" fill="#1a1a1a" text-anchor="end" font-weight="bold" textLength="19.63" lengthAdjust="spacingAndGlyphs">intron</text>
<line x1="287" y1="641.5" x2="290.7" y2="641.5" stroke="#1a1a1a" stroke-width="1"/>
<text x="286.2" y="644.3" font-size="8.2" fill="#1a1a1a" text-anchor="end" font-weight="bold" textLength="33.11" lengthAdjust="spacingAndGlyphs">intergenic</text>
<line x1="287" y1="659.05" x2="290.7" y2="659.05" stroke="#1a1a1a" stroke-width="1"/>
<text x="286.2" y="661.85" font-size="8.2" fill="#1a1a1a" text-anchor="end" font-weight="bold" textLength="60.84" lengthAdjust="spacingAndGlyphs">downstream_gene</text>
<line x1="287" y1="676.6" x2="290.7" y2="676.6" stroke="#1a1a1a" stroke-width="1"/>
<line x1="287" y1="694.15" x2="290.7" y2="694.15" stroke="#1a1a1a" stroke-width="1"/>
<text x="286.2" y="696.95" font-size="8.2" fill="#1a1a1a" text-anchor="end" font-weight="bold" textLength="44.67" lengthAdjust="spacingAndGlyphs">5_prime_UTR</text>
<line x1="287" y1="711.7" x2="290.7" y2="711.7" stroke="#1a1a1a" stroke-width="1"/>
<text x="286.2" y="714.5" font-size="8.2" fill="#1a1a1a" text-anchor="end" font-weight="bold" textLength="44.67" lengthAdjust="spacingAndGlyphs">3_prime_UTR</text>
<text x="233.4" y="587.1" font-size="8.2" fill="#1a1a1a" font-weight="bold" textLength="39.26" lengthAdjust="spacingAndGlyphs">non_coding</text>
<text x="233.4" y="596.7" font-size="8.2" fill="#1a1a1a" font-weight="bold" textLength="51.99" lengthAdjust="spacingAndGlyphs">transcript_exon</text>
<text x="202.8" y="675.1" font-size="8.2" fill="#1a1a1a" font-weight="bold" textLength="86.27" lengthAdjust="spacingAndGlyphs">5_prime_UTR_premature_</text>
<text x="202.8" y="684.3" font-size="8.2" fill="#1a1a1a" font-weight="bold" textLength="57.76" lengthAdjust="spacingAndGlyphs">start_codon_gain</text>
<text x="226.9" y="571.6" font-size="9.8" fill="#1a1a1a" text-anchor="middle" font-weight="bold" transform="rotate(-90 226.9 571.6)" stroke="#1a1a1a" stroke-width="0.15">Functional annotations</text>
<line x1="290.2" y1="720.4" x2="373.9" y2="720.4" stroke="#1a1a1a" stroke-width="1.2"/>
<line x1="379.4" y1="720.4" x2="462.9" y2="720.4" stroke="#1a1a1a" stroke-width="1.2"/>
<line x1="373.8" y1="718.4" x2="373.8" y2="722.4" stroke="#1a1a1a" stroke-width="1"/>
<line x1="379.5" y1="718.4" x2="379.5" y2="722.4" stroke="#1a1a1a" stroke-width="1"/>
<line x1="290.6" y1="720.4" x2="290.6" y2="723.8" stroke="#1a1a1a" stroke-width="1"/>
<text x="290.6" y="732.1" font-size="8" fill="#1a1a1a" text-anchor="middle" font-weight="bold">0</text>
<line x1="307.24" y1="720.4" x2="307.24" y2="723.8" stroke="#1a1a1a" stroke-width="1"/>
<text x="307.24" y="732.1" font-size="8" fill="#1a1a1a" text-anchor="middle" font-weight="bold">1</text>
<line x1="323.88" y1="720.4" x2="323.88" y2="723.8" stroke="#1a1a1a" stroke-width="1"/>
<text x="323.88" y="732.1" font-size="8" fill="#1a1a1a" text-anchor="middle" font-weight="bold">2</text>
<line x1="340.52" y1="720.4" x2="340.52" y2="723.8" stroke="#1a1a1a" stroke-width="1"/>
<text x="340.52" y="732.1" font-size="8" fill="#1a1a1a" text-anchor="middle" font-weight="bold">3</text>
<line x1="357.16" y1="720.4" x2="357.16" y2="723.8" stroke="#1a1a1a" stroke-width="1"/>
<text x="357.16" y="732.1" font-size="8" fill="#1a1a1a" text-anchor="middle" font-weight="bold">4</text>
<line x1="373.8" y1="720.4" x2="373.8" y2="723.8" stroke="#1a1a1a" stroke-width="1"/>
<text x="373.8" y="732.1" font-size="8" fill="#1a1a1a" text-anchor="middle" font-weight="bold">5</text>
<line x1="385.42" y1="720.4" x2="385.42" y2="722.3" stroke="#1a1a1a" stroke-width="0.9"/>
<line x1="391.34" y1="720.4" x2="391.34" y2="722.3" stroke="#1a1a1a" stroke-width="0.9"/>
<line x1="397.26" y1="720.4" x2="397.26" y2="722.3" stroke="#1a1a1a" stroke-width="0.9"/>
<line x1="403.18" y1="720.4" x2="403.18" y2="723.8" stroke="#1a1a1a" stroke-width="1"/>
<text x="403.18" y="732.1" font-size="8" fill="#1a1a1a" text-anchor="middle" font-weight="bold">10</text>
<line x1="409.1" y1="720.4" x2="409.1" y2="722.3" stroke="#1a1a1a" stroke-width="0.9"/>
<line x1="415.02" y1="720.4" x2="415.02" y2="722.3" stroke="#1a1a1a" stroke-width="0.9"/>
<line x1="420.94" y1="720.4" x2="420.94" y2="722.3" stroke="#1a1a1a" stroke-width="0.9"/>
<line x1="426.86" y1="720.4" x2="426.86" y2="722.3" stroke="#1a1a1a" stroke-width="0.9"/>
<line x1="432.78" y1="720.4" x2="432.78" y2="723.8" stroke="#1a1a1a" stroke-width="1"/>
<text x="432.78" y="732.1" font-size="8" fill="#1a1a1a" text-anchor="middle" font-weight="bold">15</text>
<line x1="438.7" y1="720.4" x2="438.7" y2="722.3" stroke="#1a1a1a" stroke-width="0.9"/>
<line x1="444.62" y1="720.4" x2="444.62" y2="722.3" stroke="#1a1a1a" stroke-width="0.9"/>
<line x1="450.54" y1="720.4" x2="450.54" y2="722.3" stroke="#1a1a1a" stroke-width="0.9"/>
<line x1="456.46" y1="720.4" x2="456.46" y2="722.3" stroke="#1a1a1a" stroke-width="0.9"/>
<line x1="462.38" y1="720.4" x2="462.38" y2="723.8" stroke="#1a1a1a" stroke-width="1"/>
<text x="462.38" y="732.1" font-size="8" fill="#1a1a1a" text-anchor="middle" font-weight="bold">20</text>
<rect x="482.8" y="419.7" width="198.4" height="17.2" fill="#E4E5E5"/>
<rect x="482.8" y="454.6" width="198.4" height="17.1" fill="#E4E5E5"/>
<rect x="482.8" y="490.7" width="198.4" height="17.2" fill="#E4E5E5"/>
<rect x="482.8" y="526.3" width="198.4" height="17.1" fill="#E4E5E5"/>
<rect x="482.8" y="561.6" width="198.4" height="16.9" fill="#E4E5E5"/>
<rect x="482.8" y="597.4" width="198.4" height="16.9" fill="#E4E5E5"/>
<rect x="482.8" y="632.1" width="198.4" height="16.8" fill="#E4E5E5"/>
<rect x="482.8" y="667.9" width="198.4" height="16.9" fill="#E4E5E5"/>
<rect x="482.8" y="701.8" width="198.4" height="17.2" fill="#E4E5E5"/>
<line x1="506.7" y1="420.2" x2="506.7" y2="719.4" stroke="#EC2B35" stroke-width="1.6" stroke-dasharray="3.3 2.5"/>
<rect x="531.05" y="421.15" width="4.9" height="4.9" fill="#457B9D"/>
<rect x="533.85" y="424.85" width="4.9" height="4.9" fill="#9BD5D6"/>
<rect x="537.55" y="428.05" width="4.9" height="4.9" fill="#EF9A6B"/>
<rect x="541.45" y="431.25" width="4.9" height="4.9" fill="#DA3E52"/>
<rect x="552.05" y="438.95" width="4.9" height="4.9" fill="#457B9D"/>
<rect x="510.95" y="442.45" width="4.9" height="4.9" fill="#9BD5D6"/>
<rect x="549.95" y="446.05" width="4.9" height="4.9" fill="#EF9A6B"/>
<rect x="552.85" y="449.05" width="4.9" height="4.9" fill="#DA3E52"/>
<rect x="493.15" y="456.15" width="4.9" height="4.9" fill="#457B9D"/>
<rect x="493.15" y="459.35" width="4.9" height="4.9" fill="#9BD5D6"/>
<rect x="493.15" y="463.65" width="4.9" height="4.9" fill="#EF9A6B"/>
<rect x="625.45" y="466.85" width="4.9" height="4.9" fill="#DA3E52"/>
<rect x="493.15" y="474.45" width="4.9" height="4.9" fill="#457B9D"/>
<rect x="493.15" y="481.05" width="4.9" height="4.9" fill="#EF9A6B"/>
<rect x="667.15" y="477.85" width="4.9" height="4.9" fill="#9BD5D6"/>
<rect x="627.35" y="484.45" width="4.9" height="4.9" fill="#DA3E52"/>
<rect x="493.15" y="495.75" width="4.9" height="4.9" fill="#9BD5D6"/>
<rect x="620.75" y="492.25" width="4.9" height="4.9" fill="#457B9D"/>
<rect x="621.95" y="498.85" width="4.9" height="4.9" fill="#EF9A6B"/>
<rect x="576.75" y="502.05" width="4.9" height="4.9" fill="#DA3E52"/>
<rect x="492.95" y="509.35" width="4.9" height="4.9" fill="#457B9D"/>
<rect x="492.95" y="513.05" width="4.9" height="4.9" fill="#9BD5D6"/>
<rect x="492.95" y="516.75" width="4.9" height="4.9" fill="#EF9A6B"/>
<rect x="492.95" y="520.15" width="4.9" height="4.9" fill="#DA3E52"/>
<rect x="492.95" y="531.15" width="4.9" height="4.9" fill="#9BD5D6"/>
<rect x="588.25" y="527.85" width="4.9" height="4.9" fill="#457B9D"/>
<rect x="554.25" y="534.55" width="4.9" height="4.9" fill="#EF9A6B"/>
<rect x="540.85" y="537.95" width="4.9" height="4.9" fill="#DA3E52"/>
<rect x="492.95" y="548.95" width="4.9" height="4.9" fill="#9BD5D6"/>
<rect x="596.25" y="545.65" width="4.9" height="4.9" fill="#457B9D"/>
<rect x="570.05" y="552.35" width="4.9" height="4.9" fill="#EF9A6B"/>
<rect x="556.65" y="555.75" width="4.9" height="4.9" fill="#DA3E52"/>
<rect x="492.95" y="566.45" width="4.9" height="4.9" fill="#9BD5D6"/>
<rect x="622.15" y="563.45" width="4.9" height="4.9" fill="#457B9D"/>
<rect x="492.95" y="570.05" width="4.9" height="4.9" fill="#EF9A6B"/>
<rect x="576.75" y="573.25" width="4.9" height="4.9" fill="#DA3E52"/>
<rect x="512.35" y="581.35" width="4.9" height="4.9" fill="#457B9D"/>
<rect x="510.95" y="584.65" width="4.9" height="4.9" fill="#9BD5D6"/>
<rect x="514.65" y="588.05" width="4.9" height="4.9" fill="#EF9A6B"/>
<rect x="513.35" y="591.05" width="4.9" height="4.9" fill="#DA3E52"/>
<rect x="578.15" y="599.15" width="4.9" height="4.9" fill="#457B9D"/>
<rect x="547.25" y="602.15" width="4.9" height="4.9" fill="#9BD5D6"/>
<rect x="577.85" y="605.85" width="4.9" height="4.9" fill="#EF9A6B"/>
<rect x="560.05" y="609.15" width="4.9" height="4.9" fill="#DA3E52"/>
<rect x="504.25" y="616.95" width="4.9" height="4.9" fill="#457B9D"/>
<rect x="496.25" y="619.95" width="4.9" height="4.9" fill="#9BD5D6"/>
<rect x="501.55" y="623.25" width="4.9" height="4.9" fill="#EF9A6B"/>
<rect x="501.25" y="626.65" width="4.9" height="4.9" fill="#DA3E52"/>
<rect x="499.55" y="634.75" width="4.9" height="4.9" fill="#457B9D"/>
<rect x="530.15" y="637.75" width="4.9" height="4.9" fill="#9BD5D6"/>
<rect x="502.25" y="641.05" width="4.9" height="4.9" fill="#EF9A6B"/>
<rect x="502.25" y="644.45" width="4.9" height="4.9" fill="#DA3E52"/>
<rect x="528.15" y="652.55" width="4.9" height="4.9" fill="#457B9D"/>
<rect x="540.55" y="655.55" width="4.9" height="4.9" fill="#9BD5D6"/>
<rect x="539.15" y="658.85" width="4.9" height="4.9" fill="#EF9A6B"/>
<rect x="536.55" y="662.25" width="4.9" height="4.9" fill="#DA3E52"/>
<rect x="523.05" y="669.95" width="4.9" height="4.9" fill="#457B9D"/>
<rect x="492.95" y="673.65" width="4.9" height="4.9" fill="#9BD5D6"/>
<rect x="583.55" y="676.65" width="4.9" height="4.9" fill="#EF9A6B"/>
<rect x="586.15" y="680.05" width="4.9" height="4.9" fill="#DA3E52"/>
<rect x="548.55" y="687.75" width="4.9" height="4.9" fill="#457B9D"/>
<rect x="492.95" y="691.15" width="4.9" height="4.9" fill="#9BD5D6"/>
<rect x="574.15" y="694.45" width="4.9" height="4.9" fill="#EF9A6B"/>
<rect x="556.95" y="697.85" width="4.9" height="4.9" fill="#DA3E52"/>
<rect x="528.75" y="705.55" width="4.9" height="4.9" fill="#457B9D"/>
<rect x="532.85" y="708.95" width="4.9" height="4.9" fill="#9BD5D6"/>
<rect x="536.85" y="712.25" width="4.9" height="4.9" fill="#EF9A6B"/>
<rect x="544.25" y="715.65" width="4.9" height="4.9" fill="#DA3E52"/>
<rect x="590.85" y="421.15" width="5.1" height="5.1" fill="#DA3E52"/>
<text x="601.9" y="425.3" font-size="6.8" fill="#1a1a1a" font-weight="bold">eQTL CS-single variant</text>
<rect x="590.85" y="430.45" width="5.1" height="5.1" fill="#EF9A6B"/>
<text x="601.9" y="434.6" font-size="6.8" fill="#1a1a1a" font-weight="bold">exQTL CS-single variant</text>
<rect x="590.85" y="439.75" width="5.1" height="5.1" fill="#9BD5D6"/>
<text x="601.9" y="443.9" font-size="6.8" fill="#1a1a1a" font-weight="bold">enQTL CS-single variant</text>
<rect x="590.85" y="449.05" width="5.1" height="5.1" fill="#457B9D"/>
<text x="601.9" y="453.2" font-size="6.8" fill="#1a1a1a" font-weight="bold">sQTL CS-single variant</text>
<line x1="482.8" y1="419.4" x2="482.8" y2="720.2" stroke="#333" stroke-width="1.2"/>
<line x1="479.2" y1="427.7" x2="482.8" y2="427.7" stroke="#333" stroke-width="1"/>
<line x1="479.2" y1="445.57" x2="482.8" y2="445.57" stroke="#333" stroke-width="1"/>
<line x1="479.2" y1="463.44" x2="482.8" y2="463.44" stroke="#333" stroke-width="1"/>
<line x1="479.2" y1="481.31" x2="482.8" y2="481.31" stroke="#333" stroke-width="1"/>
<line x1="479.2" y1="499.18" x2="482.8" y2="499.18" stroke="#333" stroke-width="1"/>
<line x1="479.2" y1="517.05" x2="482.8" y2="517.05" stroke="#333" stroke-width="1"/>
<line x1="479.2" y1="534.92" x2="482.8" y2="534.92" stroke="#333" stroke-width="1"/>
<line x1="479.2" y1="552.79" x2="482.8" y2="552.79" stroke="#333" stroke-width="1"/>
<line x1="479.2" y1="570.66" x2="482.8" y2="570.66" stroke="#333" stroke-width="1"/>
<line x1="479.2" y1="588.53" x2="482.8" y2="588.53" stroke="#333" stroke-width="1"/>
<line x1="479.2" y1="606.4" x2="482.8" y2="606.4" stroke="#333" stroke-width="1"/>
<line x1="479.2" y1="624.27" x2="482.8" y2="624.27" stroke="#333" stroke-width="1"/>
<line x1="479.2" y1="642.14" x2="482.8" y2="642.14" stroke="#333" stroke-width="1"/>
<line x1="479.2" y1="660.01" x2="482.8" y2="660.01" stroke="#333" stroke-width="1"/>
<line x1="479.2" y1="677.88" x2="482.8" y2="677.88" stroke="#333" stroke-width="1"/>
<line x1="479.2" y1="695.75" x2="482.8" y2="695.75" stroke="#333" stroke-width="1"/>
<line x1="479.2" y1="713.62" x2="482.8" y2="713.62" stroke="#333" stroke-width="1"/>
<line x1="482.2" y1="719.6" x2="615.4" y2="719.6" stroke="#1a1a1a" stroke-width="1.2"/>
<line x1="621" y1="719.6" x2="678.9" y2="719.6" stroke="#1a1a1a" stroke-width="1.2"/>
<line x1="615.1" y1="717.6" x2="615.1" y2="722.9" stroke="#1a1a1a" stroke-width="1"/>
<line x1="621.3" y1="717.6" x2="621.3" y2="721.6" stroke="#1a1a1a" stroke-width="1"/>
<line x1="494.6" y1="719.6" x2="494.6" y2="722.9" stroke="#1a1a1a" stroke-width="1"/>
<text x="494.6" y="731.8" font-size="8" fill="#1a1a1a" text-anchor="middle" font-weight="bold">0</text>
<line x1="506.65" y1="719.6" x2="506.65" y2="721.5" stroke="#1a1a1a" stroke-width="0.9"/>
<line x1="518.7" y1="719.6" x2="518.7" y2="722.9" stroke="#1a1a1a" stroke-width="1"/>
<text x="518.7" y="731.8" font-size="8" fill="#1a1a1a" text-anchor="middle" font-weight="bold">2</text>
<line x1="530.75" y1="719.6" x2="530.75" y2="721.5" stroke="#1a1a1a" stroke-width="0.9"/>
<line x1="542.8" y1="719.6" x2="542.8" y2="722.9" stroke="#1a1a1a" stroke-width="1"/>
<text x="542.8" y="731.8" font-size="8" fill="#1a1a1a" text-anchor="middle" font-weight="bold">4</text>
<line x1="554.85" y1="719.6" x2="554.85" y2="721.5" stroke="#1a1a1a" stroke-width="0.9"/>
<line x1="566.9" y1="719.6" x2="566.9" y2="722.9" stroke="#1a1a1a" stroke-width="1"/>
<text x="566.9" y="731.8" font-size="8" fill="#1a1a1a" text-anchor="middle" font-weight="bold">6</text>
<line x1="578.95" y1="719.6" x2="578.95" y2="721.5" stroke="#1a1a1a" stroke-width="0.9"/>
<line x1="591" y1="719.6" x2="591" y2="722.9" stroke="#1a1a1a" stroke-width="1"/>
<text x="591" y="731.8" font-size="8" fill="#1a1a1a" text-anchor="middle" font-weight="bold">8</text>
<line x1="603.05" y1="719.6" x2="603.05" y2="721.5" stroke="#1a1a1a" stroke-width="0.9"/>
<line x1="615.1" y1="719.6" x2="615.1" y2="722.9" stroke="#1a1a1a" stroke-width="1"/>
<text x="615.1" y="731.8" font-size="8" fill="#1a1a1a" text-anchor="middle" font-weight="bold">10</text>
<line x1="630.1" y1="719.6" x2="630.1" y2="722.9" stroke="#1a1a1a" stroke-width="1"/>
<text x="633.6" y="729.2" font-size="7.6" fill="#1a1a1a" text-anchor="end" font-weight="bold" transform="rotate(-45 633.6 729.2)">100</text>
<line x1="639.74" y1="719.6" x2="639.74" y2="722.9" stroke="#1a1a1a" stroke-width="1"/>
<text x="643.24" y="729.2" font-size="7.6" fill="#1a1a1a" text-anchor="end" font-weight="bold" transform="rotate(-45 643.24 729.2)">200</text>
<line x1="649.38" y1="719.6" x2="649.38" y2="722.9" stroke="#1a1a1a" stroke-width="1"/>
<text x="652.88" y="729.2" font-size="7.6" fill="#1a1a1a" text-anchor="end" font-weight="bold" transform="rotate(-45 652.88 729.2)">300</text>
<line x1="659.02" y1="719.6" x2="659.02" y2="722.9" stroke="#1a1a1a" stroke-width="1"/>
<text x="662.52" y="729.2" font-size="7.6" fill="#1a1a1a" text-anchor="end" font-weight="bold" transform="rotate(-45 662.52 729.2)">400</text>
<line x1="668.66" y1="719.6" x2="668.66" y2="722.9" stroke="#1a1a1a" stroke-width="1"/>
<text x="672.16" y="729.2" font-size="7.6" fill="#1a1a1a" text-anchor="end" font-weight="bold" transform="rotate(-45 672.16 729.2)">500</text>
<line x1="678.3" y1="719.6" x2="678.3" y2="722.9" stroke="#1a1a1a" stroke-width="1"/>
<text x="681.8" y="729.2" font-size="7.6" fill="#1a1a1a" text-anchor="end" font-weight="bold" transform="rotate(-45 681.8 729.2)">600</text>
<text x="480.6" y="743.7" font-size="11.8" fill="#333" text-anchor="middle" stroke="#333" stroke-width="0.2">Odds Ratio</text>
<text x="271.2" y="417.7" font-size="17.6" fill="#1a1a1a" stroke="#1a1a1a" stroke-width="0.2">G</text>
</g>
</svg>
</body></html>
